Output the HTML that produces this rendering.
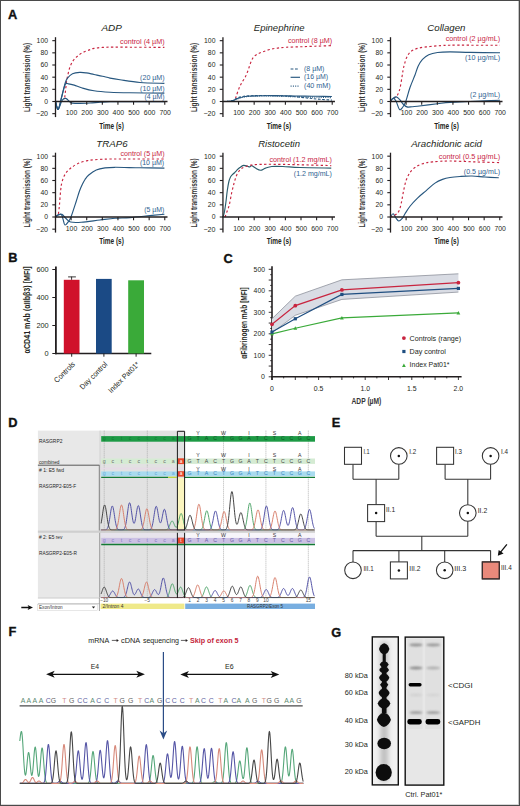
<!DOCTYPE html>
<html><head><meta charset="utf-8"><title>Figure</title>
<style>html,body{margin:0;padding:0;background:#fff;}body{width:520px;height:806px;overflow:hidden;font-family:"Liberation Sans", sans-serif;}svg{display:block;}</style>
</head><body>
<svg width="520" height="806" viewBox="0 0 520 806" font-family='"Liberation Sans", sans-serif'><rect x="0.5" y="0.5" width="519" height="805" fill="none" stroke="#4a4a4a" stroke-width="1" />
<line x1="518.5" y1="1" x2="518.5" y2="805" stroke="#c4c4c4" stroke-width="1" />
<line x1="1" y1="804.5" x2="518" y2="804.5" stroke="#d8d8d8" stroke-width="1" />
<text x="8" y="18.8" font-size="12.8" text-anchor="start" fill="#111" font-weight="bold" font-style="normal" stroke="#111" stroke-width="0.35">A</text>
<text x="8.2" y="262.2" font-size="12.8" text-anchor="start" fill="#111" font-weight="bold" font-style="normal" stroke="#111" stroke-width="0.35">B</text>
<text x="223.6" y="263.2" font-size="12.8" text-anchor="start" fill="#111" font-weight="bold" font-style="normal" stroke="#111" stroke-width="0.35">C</text>
<text x="8.2" y="426.5" font-size="12.8" text-anchor="start" fill="#111" font-weight="bold" font-style="normal" stroke="#111" stroke-width="0.35">D</text>
<text x="331.8" y="427.4" font-size="12.8" text-anchor="start" fill="#111" font-weight="bold" font-style="normal" stroke="#111" stroke-width="0.35">E</text>
<text x="8.4" y="636.4" font-size="12.8" text-anchor="start" fill="#111" font-weight="bold" font-style="normal" stroke="#111" stroke-width="0.35">F</text>
<text x="331.2" y="636.6" font-size="12.8" text-anchor="start" fill="#111" font-weight="bold" font-style="normal" stroke="#111" stroke-width="0.35">G</text>
<path d="M64.8,97.5 C64.82,97.18 64.75,96.98 64.9,95.6 C65.05,94.22 65.42,91.63 65.7,89.2 C65.98,86.77 66.2,83.57 66.6,81 C67,78.43 67.52,76.2 68.1,73.8 C68.68,71.4 69.28,68.75 70.1,66.6 C70.92,64.45 71.92,62.52 73,60.9 C74.08,59.28 75.33,58.1 76.6,56.9 C77.87,55.7 79.12,54.63 80.6,53.7 C82.08,52.77 83.88,51.98 85.5,51.3 C87.12,50.62 88.88,50.08 90.3,49.6 C91.72,49.12 91.97,48.77 94,48.4 C96.03,48.03 99.21,47.62 102.5,47.4 C105.79,47.18 109.17,47.13 113.75,47.1 C118.33,47.07 123.96,47.17 130,47.2 C136.04,47.23 144.27,47.28 150,47.3 C155.73,47.32 162,47.3 164.4,47.3" stroke="#c8243f" stroke-width="1.15" fill="none" stroke-dasharray="2.3 2.4"/>
<path d="M55.5,101.5 C55.95,102.8 57.12,110.28 58.2,109.3 C59.28,108.32 60.82,100.03 62,95.6 C63.18,91.17 64.35,85.65 65.3,82.7 C66.25,79.75 66.5,79.38 67.7,77.9 C68.9,76.42 70.48,74.72 72.5,73.8 C74.52,72.88 77.5,72.55 79.8,72.4 C82.1,72.25 83.93,72.55 86.3,72.9 C88.67,73.25 91.3,73.94 94,74.5 C96.7,75.06 99.83,75.65 102.5,76.25 C105.17,76.85 107.08,77.51 110,78.1 C112.92,78.69 115,79.07 120,79.8 C125,80.53 132.6,81.9 140,82.5 C147.4,83.1 160.33,83.25 164.4,83.4" stroke="#27577f" stroke-width="1.15" fill="none" />
<path d="M55.5,101.5 C55.95,102.8 57.12,110.28 58.2,109.3 C59.28,108.32 60.82,99.77 62,95.6 C63.18,91.43 64.22,86.25 65.3,84.3 C66.38,82.35 67.02,83.77 68.5,83.9 C69.98,84.03 71.92,84.42 74.2,85.1 C76.48,85.78 78.9,87.05 82.2,88 C85.5,88.95 89.37,90.09 94,90.8 C98.63,91.51 104,91.92 110,92.25 C116,92.58 120.93,92.66 130,92.8 C139.07,92.94 158.67,93.05 164.4,93.1" stroke="#27577f" stroke-width="1.15" fill="none" />
<path d="M55.5,101.5 C55.95,102.8 57.12,109.47 58.2,109.3 C59.28,109.13 60.75,102.32 62,100.5 C63.25,98.68 64.42,98.2 65.7,98.4 C66.98,98.6 68.57,100.92 69.7,101.7 C70.83,102.48 70.78,102.82 72.5,103.1 C74.22,103.38 77.08,103.42 80,103.4 C82.92,103.38 86.67,103.18 90,103 C93.33,102.82 96.67,102.5 100,102.3 C103.33,102.1 105,101.92 110,101.8 C115,101.68 120.93,101.63 130,101.6 C139.07,101.57 158.67,101.6 164.4,101.6" stroke="#27577f" stroke-width="1.15" fill="none" />
<text x="164.6" y="43.9" font-size="7.1" text-anchor="end" fill="#c8243f" font-weight="normal" font-style="normal" textLength="44.5" lengthAdjust="spacingAndGlyphs" >control (4 µM)</text>
<text x="164.6" y="79.9" font-size="7.1" text-anchor="end" fill="#2f6190" font-weight="normal" font-style="normal" textLength="24.5" lengthAdjust="spacingAndGlyphs" >(20 µM)</text>
<text x="164.6" y="91" font-size="7.1" text-anchor="end" fill="#2f6190" font-weight="normal" font-style="normal" textLength="24.5" lengthAdjust="spacingAndGlyphs" >(10 µM)</text>
<text x="164.6" y="98.9" font-size="7.1" text-anchor="end" fill="#2f6190" font-weight="normal" font-style="normal" textLength="20.2" lengthAdjust="spacingAndGlyphs" >(4 µM)</text>
<path d="M235.6,98.5 C235.68,98.17 235.53,98.18 236.1,96.5 C236.67,94.82 238.05,90.7 239,88.4 C239.95,86.1 240.75,84.62 241.8,82.7 C242.85,80.78 244.23,79.02 245.3,76.9 C246.37,74.78 247.33,72.3 248.2,70 C249.07,67.7 249.63,65.22 250.5,63.1 C251.37,60.98 252.15,58.85 253.4,57.3 C254.65,55.75 256.27,54.77 258,53.8 C259.73,52.83 261.68,52.27 263.8,51.5 C265.92,50.73 268.4,49.77 270.7,49.2 C273,48.63 275.1,48.42 277.6,48.1 C280.1,47.78 281.97,47.52 285.7,47.3 C289.43,47.08 295.12,46.98 300,46.8 C304.88,46.62 309.68,46.4 315,46.2 C320.32,46 329.08,45.7 331.9,45.6" stroke="#c8243f" stroke-width="1.15" fill="none" stroke-dasharray="2.3 2.4"/>
<path d="M222.6,101.5 C223.83,101.45 228.1,101.42 230,101.2 C231.9,100.98 232.67,100.68 234,100.2 C235.33,99.72 236.33,98.88 238,98.3 C239.67,97.72 241.67,97.08 244,96.7 C246.33,96.32 249,96.17 252,96 C255,95.83 258.17,95.77 262,95.7 C265.83,95.63 270.33,95.57 275,95.6 C279.67,95.63 285,95.82 290,95.9 C295,95.98 300.33,96.03 305,96.1 C309.67,96.17 313.52,96.23 318,96.3 C322.48,96.37 329.58,96.47 331.9,96.5" stroke="#27577f" stroke-width="1.15" fill="none" />
<path d="M222.6,101.5 C223.83,101.45 228.1,101.45 230,101.2 C231.9,100.95 232.67,100.57 234,100 C235.33,99.43 236.33,98.42 238,97.8 C239.67,97.18 241.67,96.65 244,96.3 C246.33,95.95 249,95.83 252,95.7 C255,95.57 258.17,95.52 262,95.5 C265.83,95.48 270.33,95.47 275,95.6 C279.67,95.73 285.83,96.03 290,96.3 C294.17,96.57 296.67,96.87 300,97.2 C303.33,97.53 306.67,97.95 310,98.3 C313.33,98.65 316.35,99 320,99.3 C323.65,99.6 329.92,99.97 331.9,100.1" stroke="#27577f" stroke-width="1.15" fill="none" stroke-dasharray="2.6 1.6"/>
<path d="M222.6,101.5 C223.83,101.47 228.1,101.48 230,101.3 C231.9,101.12 232.67,100.82 234,100.4 C235.33,99.98 236.33,99.37 238,98.8 C239.67,98.23 241.67,97.42 244,97 C246.33,96.58 249,96.47 252,96.3 C255,96.13 258.17,96.03 262,96 C265.83,95.97 270.33,96 275,96.1 C279.67,96.2 285,96.45 290,96.6 C295,96.75 300.33,96.88 305,97 C309.67,97.12 313.52,97.2 318,97.3 C322.48,97.4 329.58,97.55 331.9,97.6" stroke="#27577f" stroke-width="1.15" fill="none" stroke-dasharray="1 1.2"/>
<text x="332.1" y="43.4" font-size="7.1" text-anchor="end" fill="#c8243f" font-weight="normal" font-style="normal" textLength="44.2" lengthAdjust="spacingAndGlyphs" >control (8 µM)</text>
<line x1="290.6" y1="69" x2="298.8" y2="69" stroke="#27577f" stroke-width="1.15" stroke-dasharray="2.8 1.6"/>
<line x1="290.6" y1="77.3" x2="300" y2="77.3" stroke="#27577f" stroke-width="1.15" />
<line x1="290.6" y1="86.1" x2="298.8" y2="86.1" stroke="#27577f" stroke-width="1.15" stroke-dasharray="1 1.3"/>
<text x="304" y="70.5" font-size="7.1" text-anchor="start" fill="#2f6190" font-weight="normal" font-style="normal" textLength="20.4" lengthAdjust="spacingAndGlyphs" >(8 µM)</text>
<text x="304" y="79.1" font-size="7.1" text-anchor="start" fill="#2f6190" font-weight="normal" font-style="normal" textLength="24" lengthAdjust="spacingAndGlyphs" >(16 µM)</text>
<text x="304" y="87.6" font-size="7.1" text-anchor="start" fill="#2f6190" font-weight="normal" font-style="normal" textLength="26.6" lengthAdjust="spacingAndGlyphs" >(40 mM)</text>
<path d="M390.2,101.5 C390.63,101.08 391.93,99.72 392.8,99 C393.67,98.28 394.62,97.87 395.4,97.2 C396.18,96.53 396.9,95.95 397.5,95 C398.1,94.05 398.55,92.75 399,91.5 C399.45,90.25 399.72,89.83 400.2,87.5 C400.68,85.17 401.42,80.42 401.9,77.5 C402.38,74.58 402.68,72.18 403.1,70 C403.52,67.82 403.77,66.58 404.4,64.4 C405.03,62.22 405.76,59.09 406.9,56.9 C408.04,54.71 409.27,52.72 411.25,51.25 C413.23,49.78 415.62,48.89 418.75,48.1 C421.88,47.31 426.25,46.92 430,46.5 C433.75,46.08 437.92,45.82 441.25,45.6 C444.58,45.38 445.21,45.27 450,45.2 C454.79,45.13 461.67,45.19 470,45.2 C478.33,45.21 495,45.24 500,45.25" stroke="#c8243f" stroke-width="1.15" fill="none" stroke-dasharray="2.3 2.4"/>
<path d="M390.2,101.5 C390.67,100.95 392.03,98.28 393,98.2 C393.97,98.12 394.93,99.13 396,101 C397.07,102.87 398.32,108.32 399.4,109.4 C400.48,110.48 401.47,108.75 402.5,107.5 C403.53,106.25 404.35,105.23 405.6,101.9 C406.85,98.57 408.43,91.98 410,87.5 C411.57,83.02 413.65,78.54 415,75 C416.35,71.46 416.85,68.85 418.1,66.25 C419.35,63.65 420.73,61.32 422.5,59.4 C424.27,57.48 426.25,55.9 428.75,54.75 C431.25,53.6 433.96,52.98 437.5,52.5 C441.04,52.02 444.58,51.92 450,51.9 C455.42,51.88 461.67,52.26 470,52.4 C478.33,52.54 495,52.69 500,52.75" stroke="#27577f" stroke-width="1.15" fill="none" />
<path d="M390.2,101.5 C390.67,101 391.99,99.27 393,98.5 C394.01,97.73 395.08,96.68 396.25,96.9 C397.42,97.12 398.88,98.62 400,99.8 C401.12,100.98 401.85,102.82 403,104 C404.15,105.18 405.4,106.43 406.9,106.9 C408.4,107.37 410.23,106.91 412,106.8 C413.77,106.69 413.25,106.76 417.5,106.25 C421.75,105.74 432.08,104.39 437.5,103.75 C442.92,103.11 444.58,102.78 450,102.4 C455.42,102.03 464.17,101.75 470,101.5 C475.83,101.25 480,101.1 485,100.9 C490,100.7 497.5,100.4 500,100.3" stroke="#27577f" stroke-width="1.15" fill="none" />
<text x="500.1" y="41.4" font-size="7.1" text-anchor="end" fill="#c8243f" font-weight="normal" font-style="normal" textLength="54.4" lengthAdjust="spacingAndGlyphs" >control (2 µg/mL)</text>
<text x="500.1" y="60.1" font-size="7.1" text-anchor="end" fill="#2f6190" font-weight="normal" font-style="normal" textLength="35" lengthAdjust="spacingAndGlyphs" >(10 µg/mL)</text>
<text x="500.1" y="97" font-size="7.1" text-anchor="end" fill="#2f6190" font-weight="normal" font-style="normal" textLength="30" lengthAdjust="spacingAndGlyphs" >(2 µg/mL)</text>
<path d="M55.5,217 C55.75,216.67 56.53,215.47 57,215 C57.47,214.53 57.9,215.78 58.3,214.2 C58.7,212.62 59.02,209.37 59.4,205.5 C59.78,201.63 60.18,194.83 60.6,191 C61.02,187.17 61.17,185.27 61.9,182.5 C62.63,179.73 63.65,176.69 65,174.4 C66.35,172.11 67.92,170.53 70,168.75 C72.08,166.97 74.58,165.11 77.5,163.75 C80.42,162.39 83.75,161.32 87.5,160.6 C91.25,159.88 95.42,159.67 100,159.4 C104.58,159.13 104.27,159.07 115,159 C125.73,158.93 156.17,159 164.4,159" stroke="#c8243f" stroke-width="1.15" fill="none" stroke-dasharray="2.3 2.4"/>
<path d="M55.5,217 C55.92,216.67 57.04,215.43 58,215 C58.96,214.57 60.42,213.73 61.25,214.4 C62.08,215.07 62.38,217.23 63,219 C63.62,220.77 64.04,224.62 65,225 C65.96,225.38 67.71,222.71 68.75,221.25 C69.79,219.79 70,219.58 71.25,216.25 C72.5,212.92 74.88,205.46 76.25,201.25 C77.62,197.04 78.46,193.88 79.5,191 C80.54,188.12 81.58,185.92 82.5,184 C83.42,182.08 83.96,181 85,179.5 C86.04,178 86.88,176.58 88.75,175 C90.62,173.42 93.54,171.18 96.25,170 C98.96,168.82 101.88,168.35 105,167.9 C108.12,167.45 109.17,167.32 115,167.3 C120.83,167.28 131.77,167.67 140,167.8 C148.23,167.93 160.33,168.05 164.4,168.1" stroke="#27577f" stroke-width="1.15" fill="none" />
<path d="M55.5,217 C55.92,216.67 56.93,215.43 58,215 C59.07,214.57 60.57,213.82 61.9,214.4 C63.23,214.98 64.55,217.23 66,218.5 C67.45,219.77 68.06,221.38 70.6,222 C73.14,222.62 76.35,222.58 81.25,222.25 C86.15,221.92 94.38,220.66 100,220 C105.62,219.34 110,218.7 115,218.3 C120,217.9 124.17,218.05 130,217.6 C135.83,217.15 144.27,216.17 150,215.6 C155.73,215.03 162,214.43 164.4,214.2" stroke="#27577f" stroke-width="1.15" fill="none" />
<text x="164.5" y="155.8" font-size="7.1" text-anchor="end" fill="#c8243f" font-weight="normal" font-style="normal" textLength="44" lengthAdjust="spacingAndGlyphs" >control (5 µM)</text>
<text x="164.2" y="165.1" font-size="7.1" text-anchor="end" fill="#2f6190" font-weight="normal" font-style="normal" textLength="24.3" lengthAdjust="spacingAndGlyphs" >(10 µM)</text>
<text x="164.2" y="212.1" font-size="7.1" text-anchor="end" fill="#2f6190" font-weight="normal" font-style="normal" textLength="20" lengthAdjust="spacingAndGlyphs" >(5 µM)</text>
<path d="M222.9,217 C223.12,216.33 223.72,215.33 224.2,213 C224.68,210.67 225.28,206.75 225.8,203 C226.32,199.25 226.77,194.17 227.3,190.5 C227.83,186.83 228.47,183.25 229,181 C229.53,178.75 229.93,178.07 230.5,177 C231.07,175.93 231.78,175.27 232.4,174.6 C233.03,173.93 233.53,173.72 234.25,173 C234.97,172.28 235.81,171.22 236.75,170.3 C237.69,169.38 238.76,168.32 239.9,167.5 C241.04,166.68 242.35,165.61 243.6,165.4 C244.85,165.19 246.35,166 247.4,166.25 C248.45,166.5 249.18,167.01 249.9,166.9 C250.62,166.79 250.82,165.4 251.75,165.6 C252.68,165.8 254.04,167.32 255.5,168.1 C256.96,168.88 258.83,170.25 260.5,170.25 C262.17,170.25 263.62,168.72 265.5,168.1 C267.38,167.47 268.83,166.77 271.75,166.5 C274.67,166.23 278.29,166.33 283,166.5 C287.71,166.67 291.96,167.23 300,167.5 C308.04,167.77 326.04,168 331.25,168.1" stroke="#2a5c6c" stroke-width="1.15" fill="none" />
<path d="M225,217 C225.25,216.33 225.79,215 226.5,213 C227.21,211 228.38,208.42 229.25,205 C230.12,201.58 230.92,196.25 231.75,192.5 C232.58,188.75 233.42,185.42 234.25,182.5 C235.08,179.58 235.71,177.18 236.75,175 C237.79,172.82 239.04,170.8 240.5,169.4 C241.96,168 243,167.4 245.5,166.6 C248,165.8 249.25,164.97 255.5,164.6 C261.75,164.23 270.38,164.23 283,164.4 C295.62,164.57 323.21,165.4 331.25,165.6" stroke="#c8243f" stroke-width="1.15" fill="none" stroke-dasharray="2.3 2.4"/>
<text x="331.9" y="162" font-size="7.1" text-anchor="end" fill="#c8243f" font-weight="normal" font-style="normal" textLength="62.4" lengthAdjust="spacingAndGlyphs" >control (1.2 mg/mL)</text>
<text x="331.9" y="176.4" font-size="7.1" text-anchor="end" fill="#2f6190" font-weight="normal" font-style="normal" textLength="38.1" lengthAdjust="spacingAndGlyphs" >(1.2 mg/mL)</text>
<path d="M390.2,217 C390.68,216.46 392.2,213.67 393.1,213.75 C394,213.83 394.66,216.29 395.6,217.5 C396.54,218.71 397.6,220.9 398.75,221 C399.9,221.1 401.46,219.31 402.5,218.1 C403.54,216.89 403.75,215.72 405,213.75 C406.25,211.78 407.92,208.86 410,206.25 C412.08,203.64 414.79,200.71 417.5,198.1 C420.21,195.49 423.33,193.1 426.25,190.6 C429.17,188.1 432.29,184.97 435,183.1 C437.71,181.23 440,180.33 442.5,179.4 C445,178.47 447.08,177.98 450,177.5 C452.92,177.02 456.33,176.75 460,176.5 C463.67,176.25 467.83,175.92 472,176 C476.17,176.08 480.53,176.7 485,177 C489.47,177.3 496.5,177.67 498.8,177.8" stroke="#27577f" stroke-width="1.15" fill="none" />
<path d="M390.2,217 C390.75,216.8 392.38,216.34 393.5,215.8 C394.62,215.26 395.95,214.63 396.9,213.75 C397.85,212.87 398.58,211.79 399.2,210.5 C399.82,209.21 400.15,207.75 400.6,206 C401.05,204.25 401.38,202.67 401.9,200 C402.42,197.33 403.02,193.33 403.75,190 C404.48,186.67 405.21,182.92 406.25,180 C407.29,177.08 408.54,174.58 410,172.5 C411.46,170.42 412.92,168.96 415,167.5 C417.08,166.04 419.58,164.68 422.5,163.75 C425.42,162.82 427.92,162.36 432.5,161.9 C437.08,161.44 442.92,161 450,161 C457.08,161 466.75,161.63 475,161.9 C483.25,162.17 495.42,162.48 499.5,162.6" stroke="#c8243f" stroke-width="1.15" fill="none" stroke-dasharray="2.3 2.4"/>
<text x="500.2" y="158.8" font-size="7.1" text-anchor="end" fill="#c8243f" font-weight="normal" font-style="normal" textLength="61.4" lengthAdjust="spacingAndGlyphs" >control (0.5 µg/mL)</text>
<text x="500.2" y="173.6" font-size="7.1" text-anchor="end" fill="#2f6190" font-weight="normal" font-style="normal" textLength="36.4" lengthAdjust="spacingAndGlyphs" >(0.5 µg/mL)</text>
<line x1="55.5" y1="37.2" x2="55.5" y2="117.1" stroke="#231f20" stroke-width="1.3" />
<line x1="52.3" y1="113.67" x2="55.5" y2="113.67" stroke="#231f20" stroke-width="1.1" />
<text x="48" y="116.12" font-size="7" text-anchor="end" fill="#231f20" font-weight="normal" font-style="normal" textLength="12" lengthAdjust="spacingAndGlyphs" >−20</text>
<line x1="52.3" y1="101.5" x2="55.5" y2="101.5" stroke="#231f20" stroke-width="1.1" />
<text x="48" y="103.95" font-size="7" text-anchor="end" fill="#231f20" font-weight="normal" font-style="normal" textLength="3.8" lengthAdjust="spacingAndGlyphs" >0</text>
<line x1="52.3" y1="89.33" x2="55.5" y2="89.33" stroke="#231f20" stroke-width="1.1" />
<text x="48" y="91.78" font-size="7" text-anchor="end" fill="#231f20" font-weight="normal" font-style="normal" textLength="7.6" lengthAdjust="spacingAndGlyphs" >20</text>
<line x1="52.3" y1="77.17" x2="55.5" y2="77.17" stroke="#231f20" stroke-width="1.1" />
<text x="48" y="79.62" font-size="7" text-anchor="end" fill="#231f20" font-weight="normal" font-style="normal" textLength="7.6" lengthAdjust="spacingAndGlyphs" >40</text>
<line x1="52.3" y1="65" x2="55.5" y2="65" stroke="#231f20" stroke-width="1.1" />
<text x="48" y="67.45" font-size="7" text-anchor="end" fill="#231f20" font-weight="normal" font-style="normal" textLength="7.6" lengthAdjust="spacingAndGlyphs" >60</text>
<line x1="52.3" y1="52.84" x2="55.5" y2="52.84" stroke="#231f20" stroke-width="1.1" />
<text x="48" y="55.29" font-size="7" text-anchor="end" fill="#231f20" font-weight="normal" font-style="normal" textLength="7.6" lengthAdjust="spacingAndGlyphs" >80</text>
<line x1="52.3" y1="40.67" x2="55.5" y2="40.67" stroke="#231f20" stroke-width="1.1" />
<text x="48" y="43.12" font-size="7" text-anchor="end" fill="#231f20" font-weight="normal" font-style="normal" textLength="11.4" lengthAdjust="spacingAndGlyphs" >100</text>
<line x1="54.9" y1="101.5" x2="167.5" y2="101.5" stroke="#231f20" stroke-width="1.6" />
<line x1="71.11" y1="101.5" x2="71.11" y2="104.7" stroke="#231f20" stroke-width="1.1" />
<text x="71.51" y="115.1" font-size="7" text-anchor="middle" fill="#231f20" font-weight="normal" font-style="normal" textLength="11.5" lengthAdjust="spacingAndGlyphs" >100</text>
<line x1="86.72" y1="101.5" x2="86.72" y2="104.7" stroke="#231f20" stroke-width="1.1" />
<text x="87.12" y="115.1" font-size="7" text-anchor="middle" fill="#231f20" font-weight="normal" font-style="normal" textLength="11.5" lengthAdjust="spacingAndGlyphs" >200</text>
<line x1="102.33" y1="101.5" x2="102.33" y2="104.7" stroke="#231f20" stroke-width="1.1" />
<text x="102.73" y="115.1" font-size="7" text-anchor="middle" fill="#231f20" font-weight="normal" font-style="normal" textLength="11.5" lengthAdjust="spacingAndGlyphs" >300</text>
<line x1="117.94" y1="101.5" x2="117.94" y2="104.7" stroke="#231f20" stroke-width="1.1" />
<text x="118.34" y="115.1" font-size="7" text-anchor="middle" fill="#231f20" font-weight="normal" font-style="normal" textLength="11.5" lengthAdjust="spacingAndGlyphs" >400</text>
<line x1="133.55" y1="101.5" x2="133.55" y2="104.7" stroke="#231f20" stroke-width="1.1" />
<text x="133.95" y="115.1" font-size="7" text-anchor="middle" fill="#231f20" font-weight="normal" font-style="normal" textLength="11.5" lengthAdjust="spacingAndGlyphs" >500</text>
<line x1="149.16" y1="101.5" x2="149.16" y2="104.7" stroke="#231f20" stroke-width="1.1" />
<text x="149.56" y="115.1" font-size="7" text-anchor="middle" fill="#231f20" font-weight="normal" font-style="normal" textLength="11.5" lengthAdjust="spacingAndGlyphs" >600</text>
<line x1="164.77" y1="101.5" x2="164.77" y2="104.7" stroke="#231f20" stroke-width="1.1" />
<text x="165.17" y="115.1" font-size="7" text-anchor="middle" fill="#231f20" font-weight="normal" font-style="normal" textLength="11.5" lengthAdjust="spacingAndGlyphs" >700</text>
<text x="111.5" y="128.8" font-size="9.6" text-anchor="middle" fill="#231f20" font-weight="bold" font-style="normal" textLength="24.6" lengthAdjust="spacingAndGlyphs" >Time (s)</text>
<text transform="translate(29.5,77.45) rotate(-90)" font-size="9.7" font-weight="bold" text-anchor="middle" fill="#363636" textLength="69.3" lengthAdjust="spacingAndGlyphs">Light transmission (%)</text>
<text x="111.7" y="31.1" font-size="9.8" text-anchor="middle" fill="#231f20" font-weight="normal" font-style="italic" textLength="20.5" lengthAdjust="spacingAndGlyphs" >ADP</text>
<line x1="222.95" y1="37.2" x2="222.95" y2="117.1" stroke="#231f20" stroke-width="1.3" />
<line x1="219.75" y1="113.67" x2="222.95" y2="113.67" stroke="#231f20" stroke-width="1.1" />
<text x="215.45" y="116.12" font-size="7" text-anchor="end" fill="#231f20" font-weight="normal" font-style="normal" textLength="12" lengthAdjust="spacingAndGlyphs" >−20</text>
<line x1="219.75" y1="101.5" x2="222.95" y2="101.5" stroke="#231f20" stroke-width="1.1" />
<text x="215.45" y="103.95" font-size="7" text-anchor="end" fill="#231f20" font-weight="normal" font-style="normal" textLength="3.8" lengthAdjust="spacingAndGlyphs" >0</text>
<line x1="219.75" y1="89.33" x2="222.95" y2="89.33" stroke="#231f20" stroke-width="1.1" />
<text x="215.45" y="91.78" font-size="7" text-anchor="end" fill="#231f20" font-weight="normal" font-style="normal" textLength="7.6" lengthAdjust="spacingAndGlyphs" >20</text>
<line x1="219.75" y1="77.17" x2="222.95" y2="77.17" stroke="#231f20" stroke-width="1.1" />
<text x="215.45" y="79.62" font-size="7" text-anchor="end" fill="#231f20" font-weight="normal" font-style="normal" textLength="7.6" lengthAdjust="spacingAndGlyphs" >40</text>
<line x1="219.75" y1="65" x2="222.95" y2="65" stroke="#231f20" stroke-width="1.1" />
<text x="215.45" y="67.45" font-size="7" text-anchor="end" fill="#231f20" font-weight="normal" font-style="normal" textLength="7.6" lengthAdjust="spacingAndGlyphs" >60</text>
<line x1="219.75" y1="52.84" x2="222.95" y2="52.84" stroke="#231f20" stroke-width="1.1" />
<text x="215.45" y="55.29" font-size="7" text-anchor="end" fill="#231f20" font-weight="normal" font-style="normal" textLength="7.6" lengthAdjust="spacingAndGlyphs" >80</text>
<line x1="219.75" y1="40.67" x2="222.95" y2="40.67" stroke="#231f20" stroke-width="1.1" />
<text x="215.45" y="43.12" font-size="7" text-anchor="end" fill="#231f20" font-weight="normal" font-style="normal" textLength="11.4" lengthAdjust="spacingAndGlyphs" >100</text>
<line x1="222.35" y1="101.5" x2="334.95" y2="101.5" stroke="#231f20" stroke-width="1.6" />
<line x1="238.56" y1="101.5" x2="238.56" y2="104.7" stroke="#231f20" stroke-width="1.1" />
<text x="238.96" y="115.1" font-size="7" text-anchor="middle" fill="#231f20" font-weight="normal" font-style="normal" textLength="11.5" lengthAdjust="spacingAndGlyphs" >100</text>
<line x1="254.17" y1="101.5" x2="254.17" y2="104.7" stroke="#231f20" stroke-width="1.1" />
<text x="254.57" y="115.1" font-size="7" text-anchor="middle" fill="#231f20" font-weight="normal" font-style="normal" textLength="11.5" lengthAdjust="spacingAndGlyphs" >200</text>
<line x1="269.78" y1="101.5" x2="269.78" y2="104.7" stroke="#231f20" stroke-width="1.1" />
<text x="270.18" y="115.1" font-size="7" text-anchor="middle" fill="#231f20" font-weight="normal" font-style="normal" textLength="11.5" lengthAdjust="spacingAndGlyphs" >300</text>
<line x1="285.39" y1="101.5" x2="285.39" y2="104.7" stroke="#231f20" stroke-width="1.1" />
<text x="285.79" y="115.1" font-size="7" text-anchor="middle" fill="#231f20" font-weight="normal" font-style="normal" textLength="11.5" lengthAdjust="spacingAndGlyphs" >400</text>
<line x1="301" y1="101.5" x2="301" y2="104.7" stroke="#231f20" stroke-width="1.1" />
<text x="301.4" y="115.1" font-size="7" text-anchor="middle" fill="#231f20" font-weight="normal" font-style="normal" textLength="11.5" lengthAdjust="spacingAndGlyphs" >500</text>
<line x1="316.61" y1="101.5" x2="316.61" y2="104.7" stroke="#231f20" stroke-width="1.1" />
<text x="317.01" y="115.1" font-size="7" text-anchor="middle" fill="#231f20" font-weight="normal" font-style="normal" textLength="11.5" lengthAdjust="spacingAndGlyphs" >600</text>
<line x1="332.22" y1="101.5" x2="332.22" y2="104.7" stroke="#231f20" stroke-width="1.1" />
<text x="332.62" y="115.1" font-size="7" text-anchor="middle" fill="#231f20" font-weight="normal" font-style="normal" textLength="11.5" lengthAdjust="spacingAndGlyphs" >700</text>
<text x="278.95" y="128.8" font-size="9.6" text-anchor="middle" fill="#231f20" font-weight="bold" font-style="normal" textLength="24.6" lengthAdjust="spacingAndGlyphs" >Time (s)</text>
<text transform="translate(196.95,77.45) rotate(-90)" font-size="9.7" font-weight="bold" text-anchor="middle" fill="#363636" textLength="69.3" lengthAdjust="spacingAndGlyphs">Light transmission (%)</text>
<text x="279.2" y="31.1" font-size="9.8" text-anchor="middle" fill="#231f20" font-weight="normal" font-style="italic" textLength="50.7" lengthAdjust="spacingAndGlyphs" >Epinephrine</text>
<line x1="390.5" y1="37.2" x2="390.5" y2="117.1" stroke="#231f20" stroke-width="1.3" />
<line x1="387.3" y1="113.67" x2="390.5" y2="113.67" stroke="#231f20" stroke-width="1.1" />
<text x="383" y="116.12" font-size="7" text-anchor="end" fill="#231f20" font-weight="normal" font-style="normal" textLength="12" lengthAdjust="spacingAndGlyphs" >−20</text>
<line x1="387.3" y1="101.5" x2="390.5" y2="101.5" stroke="#231f20" stroke-width="1.1" />
<text x="383" y="103.95" font-size="7" text-anchor="end" fill="#231f20" font-weight="normal" font-style="normal" textLength="3.8" lengthAdjust="spacingAndGlyphs" >0</text>
<line x1="387.3" y1="89.33" x2="390.5" y2="89.33" stroke="#231f20" stroke-width="1.1" />
<text x="383" y="91.78" font-size="7" text-anchor="end" fill="#231f20" font-weight="normal" font-style="normal" textLength="7.6" lengthAdjust="spacingAndGlyphs" >20</text>
<line x1="387.3" y1="77.17" x2="390.5" y2="77.17" stroke="#231f20" stroke-width="1.1" />
<text x="383" y="79.62" font-size="7" text-anchor="end" fill="#231f20" font-weight="normal" font-style="normal" textLength="7.6" lengthAdjust="spacingAndGlyphs" >40</text>
<line x1="387.3" y1="65" x2="390.5" y2="65" stroke="#231f20" stroke-width="1.1" />
<text x="383" y="67.45" font-size="7" text-anchor="end" fill="#231f20" font-weight="normal" font-style="normal" textLength="7.6" lengthAdjust="spacingAndGlyphs" >60</text>
<line x1="387.3" y1="52.84" x2="390.5" y2="52.84" stroke="#231f20" stroke-width="1.1" />
<text x="383" y="55.29" font-size="7" text-anchor="end" fill="#231f20" font-weight="normal" font-style="normal" textLength="7.6" lengthAdjust="spacingAndGlyphs" >80</text>
<line x1="387.3" y1="40.67" x2="390.5" y2="40.67" stroke="#231f20" stroke-width="1.1" />
<text x="383" y="43.12" font-size="7" text-anchor="end" fill="#231f20" font-weight="normal" font-style="normal" textLength="11.4" lengthAdjust="spacingAndGlyphs" >100</text>
<line x1="389.9" y1="101.5" x2="502.5" y2="101.5" stroke="#231f20" stroke-width="1.6" />
<line x1="406.11" y1="101.5" x2="406.11" y2="104.7" stroke="#231f20" stroke-width="1.1" />
<text x="406.51" y="115.1" font-size="7" text-anchor="middle" fill="#231f20" font-weight="normal" font-style="normal" textLength="11.5" lengthAdjust="spacingAndGlyphs" >100</text>
<line x1="421.72" y1="101.5" x2="421.72" y2="104.7" stroke="#231f20" stroke-width="1.1" />
<text x="422.12" y="115.1" font-size="7" text-anchor="middle" fill="#231f20" font-weight="normal" font-style="normal" textLength="11.5" lengthAdjust="spacingAndGlyphs" >200</text>
<line x1="437.33" y1="101.5" x2="437.33" y2="104.7" stroke="#231f20" stroke-width="1.1" />
<text x="437.73" y="115.1" font-size="7" text-anchor="middle" fill="#231f20" font-weight="normal" font-style="normal" textLength="11.5" lengthAdjust="spacingAndGlyphs" >300</text>
<line x1="452.94" y1="101.5" x2="452.94" y2="104.7" stroke="#231f20" stroke-width="1.1" />
<text x="453.34" y="115.1" font-size="7" text-anchor="middle" fill="#231f20" font-weight="normal" font-style="normal" textLength="11.5" lengthAdjust="spacingAndGlyphs" >400</text>
<line x1="468.55" y1="101.5" x2="468.55" y2="104.7" stroke="#231f20" stroke-width="1.1" />
<text x="468.95" y="115.1" font-size="7" text-anchor="middle" fill="#231f20" font-weight="normal" font-style="normal" textLength="11.5" lengthAdjust="spacingAndGlyphs" >500</text>
<line x1="484.16" y1="101.5" x2="484.16" y2="104.7" stroke="#231f20" stroke-width="1.1" />
<text x="484.56" y="115.1" font-size="7" text-anchor="middle" fill="#231f20" font-weight="normal" font-style="normal" textLength="11.5" lengthAdjust="spacingAndGlyphs" >600</text>
<line x1="499.77" y1="101.5" x2="499.77" y2="104.7" stroke="#231f20" stroke-width="1.1" />
<text x="500.17" y="115.1" font-size="7" text-anchor="middle" fill="#231f20" font-weight="normal" font-style="normal" textLength="11.5" lengthAdjust="spacingAndGlyphs" >700</text>
<text x="446.5" y="128.8" font-size="9.6" text-anchor="middle" fill="#231f20" font-weight="bold" font-style="normal" textLength="24.6" lengthAdjust="spacingAndGlyphs" >Time (s)</text>
<text transform="translate(364.5,77.45) rotate(-90)" font-size="9.7" font-weight="bold" text-anchor="middle" fill="#363636" textLength="69.3" lengthAdjust="spacingAndGlyphs">Light transmission (%)</text>
<text x="446.4" y="31.1" font-size="9.8" text-anchor="middle" fill="#231f20" font-weight="normal" font-style="italic" textLength="38.1" lengthAdjust="spacingAndGlyphs" >Collagen</text>
<line x1="55.5" y1="152.7" x2="55.5" y2="232.6" stroke="#231f20" stroke-width="1.3" />
<line x1="52.3" y1="229.17" x2="55.5" y2="229.17" stroke="#231f20" stroke-width="1.1" />
<text x="48" y="231.62" font-size="7" text-anchor="end" fill="#231f20" font-weight="normal" font-style="normal" textLength="12" lengthAdjust="spacingAndGlyphs" >−20</text>
<line x1="52.3" y1="217" x2="55.5" y2="217" stroke="#231f20" stroke-width="1.1" />
<text x="48" y="219.45" font-size="7" text-anchor="end" fill="#231f20" font-weight="normal" font-style="normal" textLength="3.8" lengthAdjust="spacingAndGlyphs" >0</text>
<line x1="52.3" y1="204.83" x2="55.5" y2="204.83" stroke="#231f20" stroke-width="1.1" />
<text x="48" y="207.28" font-size="7" text-anchor="end" fill="#231f20" font-weight="normal" font-style="normal" textLength="7.6" lengthAdjust="spacingAndGlyphs" >20</text>
<line x1="52.3" y1="192.67" x2="55.5" y2="192.67" stroke="#231f20" stroke-width="1.1" />
<text x="48" y="195.12" font-size="7" text-anchor="end" fill="#231f20" font-weight="normal" font-style="normal" textLength="7.6" lengthAdjust="spacingAndGlyphs" >40</text>
<line x1="52.3" y1="180.5" x2="55.5" y2="180.5" stroke="#231f20" stroke-width="1.1" />
<text x="48" y="182.95" font-size="7" text-anchor="end" fill="#231f20" font-weight="normal" font-style="normal" textLength="7.6" lengthAdjust="spacingAndGlyphs" >60</text>
<line x1="52.3" y1="168.34" x2="55.5" y2="168.34" stroke="#231f20" stroke-width="1.1" />
<text x="48" y="170.79" font-size="7" text-anchor="end" fill="#231f20" font-weight="normal" font-style="normal" textLength="7.6" lengthAdjust="spacingAndGlyphs" >80</text>
<line x1="52.3" y1="156.17" x2="55.5" y2="156.17" stroke="#231f20" stroke-width="1.1" />
<text x="48" y="158.62" font-size="7" text-anchor="end" fill="#231f20" font-weight="normal" font-style="normal" textLength="11.4" lengthAdjust="spacingAndGlyphs" >100</text>
<line x1="54.9" y1="217" x2="167.5" y2="217" stroke="#231f20" stroke-width="1.6" />
<line x1="71.11" y1="217" x2="71.11" y2="220.2" stroke="#231f20" stroke-width="1.1" />
<text x="71.51" y="230.6" font-size="7" text-anchor="middle" fill="#231f20" font-weight="normal" font-style="normal" textLength="11.5" lengthAdjust="spacingAndGlyphs" >100</text>
<line x1="86.72" y1="217" x2="86.72" y2="220.2" stroke="#231f20" stroke-width="1.1" />
<text x="87.12" y="230.6" font-size="7" text-anchor="middle" fill="#231f20" font-weight="normal" font-style="normal" textLength="11.5" lengthAdjust="spacingAndGlyphs" >200</text>
<line x1="102.33" y1="217" x2="102.33" y2="220.2" stroke="#231f20" stroke-width="1.1" />
<text x="102.73" y="230.6" font-size="7" text-anchor="middle" fill="#231f20" font-weight="normal" font-style="normal" textLength="11.5" lengthAdjust="spacingAndGlyphs" >300</text>
<line x1="117.94" y1="217" x2="117.94" y2="220.2" stroke="#231f20" stroke-width="1.1" />
<text x="118.34" y="230.6" font-size="7" text-anchor="middle" fill="#231f20" font-weight="normal" font-style="normal" textLength="11.5" lengthAdjust="spacingAndGlyphs" >400</text>
<line x1="133.55" y1="217" x2="133.55" y2="220.2" stroke="#231f20" stroke-width="1.1" />
<text x="133.95" y="230.6" font-size="7" text-anchor="middle" fill="#231f20" font-weight="normal" font-style="normal" textLength="11.5" lengthAdjust="spacingAndGlyphs" >500</text>
<line x1="149.16" y1="217" x2="149.16" y2="220.2" stroke="#231f20" stroke-width="1.1" />
<text x="149.56" y="230.6" font-size="7" text-anchor="middle" fill="#231f20" font-weight="normal" font-style="normal" textLength="11.5" lengthAdjust="spacingAndGlyphs" >600</text>
<line x1="164.77" y1="217" x2="164.77" y2="220.2" stroke="#231f20" stroke-width="1.1" />
<text x="165.17" y="230.6" font-size="7" text-anchor="middle" fill="#231f20" font-weight="normal" font-style="normal" textLength="11.5" lengthAdjust="spacingAndGlyphs" >700</text>
<text x="111.5" y="244.3" font-size="9.6" text-anchor="middle" fill="#231f20" font-weight="bold" font-style="normal" textLength="24.6" lengthAdjust="spacingAndGlyphs" >Time (s)</text>
<text transform="translate(29.5,192.95) rotate(-90)" font-size="9.7" font-weight="bold" text-anchor="middle" fill="#363636" textLength="69.3" lengthAdjust="spacingAndGlyphs">Light transmission (%)</text>
<text x="111.9" y="146.6" font-size="9.8" text-anchor="middle" fill="#231f20" font-weight="normal" font-style="italic" textLength="31.3" lengthAdjust="spacingAndGlyphs" >TRAP6</text>
<line x1="222.95" y1="152.7" x2="222.95" y2="232.6" stroke="#231f20" stroke-width="1.3" />
<line x1="219.75" y1="229.17" x2="222.95" y2="229.17" stroke="#231f20" stroke-width="1.1" />
<text x="215.45" y="231.62" font-size="7" text-anchor="end" fill="#231f20" font-weight="normal" font-style="normal" textLength="12" lengthAdjust="spacingAndGlyphs" >−20</text>
<line x1="219.75" y1="217" x2="222.95" y2="217" stroke="#231f20" stroke-width="1.1" />
<text x="215.45" y="219.45" font-size="7" text-anchor="end" fill="#231f20" font-weight="normal" font-style="normal" textLength="3.8" lengthAdjust="spacingAndGlyphs" >0</text>
<line x1="219.75" y1="204.83" x2="222.95" y2="204.83" stroke="#231f20" stroke-width="1.1" />
<text x="215.45" y="207.28" font-size="7" text-anchor="end" fill="#231f20" font-weight="normal" font-style="normal" textLength="7.6" lengthAdjust="spacingAndGlyphs" >20</text>
<line x1="219.75" y1="192.67" x2="222.95" y2="192.67" stroke="#231f20" stroke-width="1.1" />
<text x="215.45" y="195.12" font-size="7" text-anchor="end" fill="#231f20" font-weight="normal" font-style="normal" textLength="7.6" lengthAdjust="spacingAndGlyphs" >40</text>
<line x1="219.75" y1="180.5" x2="222.95" y2="180.5" stroke="#231f20" stroke-width="1.1" />
<text x="215.45" y="182.95" font-size="7" text-anchor="end" fill="#231f20" font-weight="normal" font-style="normal" textLength="7.6" lengthAdjust="spacingAndGlyphs" >60</text>
<line x1="219.75" y1="168.34" x2="222.95" y2="168.34" stroke="#231f20" stroke-width="1.1" />
<text x="215.45" y="170.79" font-size="7" text-anchor="end" fill="#231f20" font-weight="normal" font-style="normal" textLength="7.6" lengthAdjust="spacingAndGlyphs" >80</text>
<line x1="219.75" y1="156.17" x2="222.95" y2="156.17" stroke="#231f20" stroke-width="1.1" />
<text x="215.45" y="158.62" font-size="7" text-anchor="end" fill="#231f20" font-weight="normal" font-style="normal" textLength="11.4" lengthAdjust="spacingAndGlyphs" >100</text>
<line x1="222.35" y1="217" x2="334.95" y2="217" stroke="#231f20" stroke-width="1.6" />
<line x1="238.56" y1="217" x2="238.56" y2="220.2" stroke="#231f20" stroke-width="1.1" />
<text x="238.96" y="230.6" font-size="7" text-anchor="middle" fill="#231f20" font-weight="normal" font-style="normal" textLength="11.5" lengthAdjust="spacingAndGlyphs" >100</text>
<line x1="254.17" y1="217" x2="254.17" y2="220.2" stroke="#231f20" stroke-width="1.1" />
<text x="254.57" y="230.6" font-size="7" text-anchor="middle" fill="#231f20" font-weight="normal" font-style="normal" textLength="11.5" lengthAdjust="spacingAndGlyphs" >200</text>
<line x1="269.78" y1="217" x2="269.78" y2="220.2" stroke="#231f20" stroke-width="1.1" />
<text x="270.18" y="230.6" font-size="7" text-anchor="middle" fill="#231f20" font-weight="normal" font-style="normal" textLength="11.5" lengthAdjust="spacingAndGlyphs" >300</text>
<line x1="285.39" y1="217" x2="285.39" y2="220.2" stroke="#231f20" stroke-width="1.1" />
<text x="285.79" y="230.6" font-size="7" text-anchor="middle" fill="#231f20" font-weight="normal" font-style="normal" textLength="11.5" lengthAdjust="spacingAndGlyphs" >400</text>
<line x1="301" y1="217" x2="301" y2="220.2" stroke="#231f20" stroke-width="1.1" />
<text x="301.4" y="230.6" font-size="7" text-anchor="middle" fill="#231f20" font-weight="normal" font-style="normal" textLength="11.5" lengthAdjust="spacingAndGlyphs" >500</text>
<line x1="316.61" y1="217" x2="316.61" y2="220.2" stroke="#231f20" stroke-width="1.1" />
<text x="317.01" y="230.6" font-size="7" text-anchor="middle" fill="#231f20" font-weight="normal" font-style="normal" textLength="11.5" lengthAdjust="spacingAndGlyphs" >600</text>
<line x1="332.22" y1="217" x2="332.22" y2="220.2" stroke="#231f20" stroke-width="1.1" />
<text x="332.62" y="230.6" font-size="7" text-anchor="middle" fill="#231f20" font-weight="normal" font-style="normal" textLength="11.5" lengthAdjust="spacingAndGlyphs" >700</text>
<text x="278.95" y="244.3" font-size="9.6" text-anchor="middle" fill="#231f20" font-weight="bold" font-style="normal" textLength="24.6" lengthAdjust="spacingAndGlyphs" >Time (s)</text>
<text transform="translate(196.95,192.95) rotate(-90)" font-size="9.7" font-weight="bold" text-anchor="middle" fill="#363636" textLength="69.3" lengthAdjust="spacingAndGlyphs">Light transmission (%)</text>
<text x="279.1" y="146.6" font-size="9.8" text-anchor="middle" fill="#231f20" font-weight="normal" font-style="italic" textLength="41.8" lengthAdjust="spacingAndGlyphs" >Ristocetin</text>
<line x1="390.5" y1="152.7" x2="390.5" y2="232.6" stroke="#231f20" stroke-width="1.3" />
<line x1="387.3" y1="229.17" x2="390.5" y2="229.17" stroke="#231f20" stroke-width="1.1" />
<text x="383" y="231.62" font-size="7" text-anchor="end" fill="#231f20" font-weight="normal" font-style="normal" textLength="12" lengthAdjust="spacingAndGlyphs" >−20</text>
<line x1="387.3" y1="217" x2="390.5" y2="217" stroke="#231f20" stroke-width="1.1" />
<text x="383" y="219.45" font-size="7" text-anchor="end" fill="#231f20" font-weight="normal" font-style="normal" textLength="3.8" lengthAdjust="spacingAndGlyphs" >0</text>
<line x1="387.3" y1="204.83" x2="390.5" y2="204.83" stroke="#231f20" stroke-width="1.1" />
<text x="383" y="207.28" font-size="7" text-anchor="end" fill="#231f20" font-weight="normal" font-style="normal" textLength="7.6" lengthAdjust="spacingAndGlyphs" >20</text>
<line x1="387.3" y1="192.67" x2="390.5" y2="192.67" stroke="#231f20" stroke-width="1.1" />
<text x="383" y="195.12" font-size="7" text-anchor="end" fill="#231f20" font-weight="normal" font-style="normal" textLength="7.6" lengthAdjust="spacingAndGlyphs" >40</text>
<line x1="387.3" y1="180.5" x2="390.5" y2="180.5" stroke="#231f20" stroke-width="1.1" />
<text x="383" y="182.95" font-size="7" text-anchor="end" fill="#231f20" font-weight="normal" font-style="normal" textLength="7.6" lengthAdjust="spacingAndGlyphs" >60</text>
<line x1="387.3" y1="168.34" x2="390.5" y2="168.34" stroke="#231f20" stroke-width="1.1" />
<text x="383" y="170.79" font-size="7" text-anchor="end" fill="#231f20" font-weight="normal" font-style="normal" textLength="7.6" lengthAdjust="spacingAndGlyphs" >80</text>
<line x1="387.3" y1="156.17" x2="390.5" y2="156.17" stroke="#231f20" stroke-width="1.1" />
<text x="383" y="158.62" font-size="7" text-anchor="end" fill="#231f20" font-weight="normal" font-style="normal" textLength="11.4" lengthAdjust="spacingAndGlyphs" >100</text>
<line x1="389.9" y1="217" x2="502.5" y2="217" stroke="#231f20" stroke-width="1.6" />
<line x1="406.11" y1="217" x2="406.11" y2="220.2" stroke="#231f20" stroke-width="1.1" />
<text x="406.51" y="230.6" font-size="7" text-anchor="middle" fill="#231f20" font-weight="normal" font-style="normal" textLength="11.5" lengthAdjust="spacingAndGlyphs" >100</text>
<line x1="421.72" y1="217" x2="421.72" y2="220.2" stroke="#231f20" stroke-width="1.1" />
<text x="422.12" y="230.6" font-size="7" text-anchor="middle" fill="#231f20" font-weight="normal" font-style="normal" textLength="11.5" lengthAdjust="spacingAndGlyphs" >200</text>
<line x1="437.33" y1="217" x2="437.33" y2="220.2" stroke="#231f20" stroke-width="1.1" />
<text x="437.73" y="230.6" font-size="7" text-anchor="middle" fill="#231f20" font-weight="normal" font-style="normal" textLength="11.5" lengthAdjust="spacingAndGlyphs" >300</text>
<line x1="452.94" y1="217" x2="452.94" y2="220.2" stroke="#231f20" stroke-width="1.1" />
<text x="453.34" y="230.6" font-size="7" text-anchor="middle" fill="#231f20" font-weight="normal" font-style="normal" textLength="11.5" lengthAdjust="spacingAndGlyphs" >400</text>
<line x1="468.55" y1="217" x2="468.55" y2="220.2" stroke="#231f20" stroke-width="1.1" />
<text x="468.95" y="230.6" font-size="7" text-anchor="middle" fill="#231f20" font-weight="normal" font-style="normal" textLength="11.5" lengthAdjust="spacingAndGlyphs" >500</text>
<line x1="484.16" y1="217" x2="484.16" y2="220.2" stroke="#231f20" stroke-width="1.1" />
<text x="484.56" y="230.6" font-size="7" text-anchor="middle" fill="#231f20" font-weight="normal" font-style="normal" textLength="11.5" lengthAdjust="spacingAndGlyphs" >600</text>
<line x1="499.77" y1="217" x2="499.77" y2="220.2" stroke="#231f20" stroke-width="1.1" />
<text x="500.17" y="230.6" font-size="7" text-anchor="middle" fill="#231f20" font-weight="normal" font-style="normal" textLength="11.5" lengthAdjust="spacingAndGlyphs" >700</text>
<text x="446.5" y="244.3" font-size="9.6" text-anchor="middle" fill="#231f20" font-weight="bold" font-style="normal" textLength="24.6" lengthAdjust="spacingAndGlyphs" >Time (s)</text>
<text transform="translate(364.5,192.95) rotate(-90)" font-size="9.7" font-weight="bold" text-anchor="middle" fill="#363636" textLength="69.3" lengthAdjust="spacingAndGlyphs">Light transmission (%)</text>
<text x="446.6" y="146.6" font-size="9.8" text-anchor="middle" fill="#231f20" font-weight="normal" font-style="italic" textLength="70.8" lengthAdjust="spacingAndGlyphs" >Arachidonic acid</text>
<line x1="55.9" y1="266.4" x2="55.9" y2="354.3" stroke="#231f20" stroke-width="1.8" />
<line x1="55.1" y1="353.5" x2="151.3" y2="353.5" stroke="#231f20" stroke-width="1.7" />
<line x1="52.3" y1="353.5" x2="55.9" y2="353.5" stroke="#231f20" stroke-width="1" />
<text x="48.7" y="355.95" font-size="7.2" text-anchor="end" fill="#231f20" font-weight="normal" font-style="normal" textLength="4.1" lengthAdjust="spacingAndGlyphs" >0</text>
<line x1="52.3" y1="325.5" x2="55.9" y2="325.5" stroke="#231f20" stroke-width="1" />
<text x="48.7" y="327.95" font-size="7.2" text-anchor="end" fill="#231f20" font-weight="normal" font-style="normal" textLength="12.3" lengthAdjust="spacingAndGlyphs" >200</text>
<line x1="52.3" y1="297.5" x2="55.9" y2="297.5" stroke="#231f20" stroke-width="1" />
<text x="48.7" y="299.95" font-size="7.2" text-anchor="end" fill="#231f20" font-weight="normal" font-style="normal" textLength="12.3" lengthAdjust="spacingAndGlyphs" >400</text>
<line x1="52.3" y1="269.5" x2="55.9" y2="269.5" stroke="#231f20" stroke-width="1" />
<text x="48.7" y="271.95" font-size="7.2" text-anchor="end" fill="#231f20" font-weight="normal" font-style="normal" textLength="12.3" lengthAdjust="spacingAndGlyphs" >600</text>
<rect x="63.8" y="279.8" width="15.7" height="73.7" fill="#d0112b" stroke="none" stroke-width="1" />
<rect x="96" y="278.9" width="15.7" height="74.6" fill="#1b4a85" stroke="none" stroke-width="1" />
<rect x="128.2" y="280.3" width="15.8" height="73.2" fill="#3aaa39" stroke="none" stroke-width="1" />
<line x1="71.6" y1="279.8" x2="71.6" y2="276.7" stroke="#231f20" stroke-width="0.9" />
<line x1="68.1" y1="276.9" x2="75.9" y2="276.9" stroke="#231f20" stroke-width="0.9" />
<line x1="71.7" y1="353.5" x2="71.7" y2="356.7" stroke="#231f20" stroke-width="1" />
<line x1="103.9" y1="353.5" x2="103.9" y2="356.7" stroke="#231f20" stroke-width="1" />
<line x1="136.1" y1="353.5" x2="136.1" y2="356.7" stroke="#231f20" stroke-width="1" />
<text transform="translate(75.5,364.8) rotate(-45)" font-size="7.6" text-anchor="end" fill="#231f20" textLength="26" lengthAdjust="spacingAndGlyphs">Controls</text>
<text transform="translate(107.8,364.8) rotate(-45)" font-size="7.6" text-anchor="end" fill="#231f20" textLength="35.5" lengthAdjust="spacingAndGlyphs">Day control</text>
<text transform="translate(139.9,364.8) rotate(-45)" font-size="7.6" text-anchor="end" fill="#231f20" textLength="40.5" lengthAdjust="spacingAndGlyphs">Index Pat01*</text>
<text transform="translate(29.7,309.9) rotate(-90)" font-size="9.0" font-weight="bold" text-anchor="middle" fill="#231f20" textLength="87.2" lengthAdjust="spacingAndGlyphs">αCD41 mAb (αIIbβ3) [MFI]</text>
<line x1="272" y1="266.3" x2="272" y2="380" stroke="#231f20" stroke-width="1.6" />
<line x1="271.2" y1="376.8" x2="461.6" y2="376.8" stroke="#231f20" stroke-width="1.6" />
<line x1="268.7" y1="376.8" x2="272" y2="376.8" stroke="#231f20" stroke-width="0.9" />
<text x="265" y="379.25" font-size="7" text-anchor="end" fill="#231f20" font-weight="normal" font-style="normal" textLength="3.9" lengthAdjust="spacingAndGlyphs" >0</text>
<line x1="270.2" y1="371.43" x2="272" y2="371.43" stroke="#231f20" stroke-width="0.9" />
<line x1="268.7" y1="366.05" x2="272" y2="366.05" stroke="#231f20" stroke-width="0.9" />
<line x1="270.2" y1="360.68" x2="272" y2="360.68" stroke="#231f20" stroke-width="0.9" />
<line x1="268.7" y1="355.3" x2="272" y2="355.3" stroke="#231f20" stroke-width="0.9" />
<text x="265" y="357.75" font-size="7" text-anchor="end" fill="#231f20" font-weight="normal" font-style="normal" textLength="11.4" lengthAdjust="spacingAndGlyphs" >100</text>
<line x1="270.2" y1="349.93" x2="272" y2="349.93" stroke="#231f20" stroke-width="0.9" />
<line x1="268.7" y1="344.55" x2="272" y2="344.55" stroke="#231f20" stroke-width="0.9" />
<line x1="270.2" y1="339.18" x2="272" y2="339.18" stroke="#231f20" stroke-width="0.9" />
<line x1="268.7" y1="333.8" x2="272" y2="333.8" stroke="#231f20" stroke-width="0.9" />
<text x="265" y="336.25" font-size="7" text-anchor="end" fill="#231f20" font-weight="normal" font-style="normal" textLength="11.4" lengthAdjust="spacingAndGlyphs" >200</text>
<line x1="270.2" y1="328.43" x2="272" y2="328.43" stroke="#231f20" stroke-width="0.9" />
<line x1="268.7" y1="323.05" x2="272" y2="323.05" stroke="#231f20" stroke-width="0.9" />
<line x1="270.2" y1="317.68" x2="272" y2="317.68" stroke="#231f20" stroke-width="0.9" />
<line x1="268.7" y1="312.3" x2="272" y2="312.3" stroke="#231f20" stroke-width="0.9" />
<text x="265" y="314.75" font-size="7" text-anchor="end" fill="#231f20" font-weight="normal" font-style="normal" textLength="11.4" lengthAdjust="spacingAndGlyphs" >300</text>
<line x1="270.2" y1="306.93" x2="272" y2="306.93" stroke="#231f20" stroke-width="0.9" />
<line x1="268.7" y1="301.55" x2="272" y2="301.55" stroke="#231f20" stroke-width="0.9" />
<line x1="270.2" y1="296.18" x2="272" y2="296.18" stroke="#231f20" stroke-width="0.9" />
<line x1="268.7" y1="290.8" x2="272" y2="290.8" stroke="#231f20" stroke-width="0.9" />
<text x="265" y="293.25" font-size="7" text-anchor="end" fill="#231f20" font-weight="normal" font-style="normal" textLength="11.4" lengthAdjust="spacingAndGlyphs" >400</text>
<line x1="270.2" y1="285.43" x2="272" y2="285.43" stroke="#231f20" stroke-width="0.9" />
<line x1="268.7" y1="280.05" x2="272" y2="280.05" stroke="#231f20" stroke-width="0.9" />
<line x1="270.2" y1="274.68" x2="272" y2="274.68" stroke="#231f20" stroke-width="0.9" />
<line x1="268.7" y1="269.3" x2="272" y2="269.3" stroke="#231f20" stroke-width="0.9" />
<text x="265" y="271.75" font-size="7" text-anchor="end" fill="#231f20" font-weight="normal" font-style="normal" textLength="11.4" lengthAdjust="spacingAndGlyphs" >500</text>
<line x1="272" y1="376.8" x2="272" y2="380" stroke="#231f20" stroke-width="0.9" />
<line x1="283.65" y1="376.8" x2="283.65" y2="378.4" stroke="#231f20" stroke-width="0.9" />
<line x1="295.3" y1="376.8" x2="295.3" y2="380" stroke="#231f20" stroke-width="0.9" />
<line x1="306.95" y1="376.8" x2="306.95" y2="378.4" stroke="#231f20" stroke-width="0.9" />
<line x1="318.6" y1="376.8" x2="318.6" y2="380" stroke="#231f20" stroke-width="0.9" />
<line x1="330.25" y1="376.8" x2="330.25" y2="378.4" stroke="#231f20" stroke-width="0.9" />
<line x1="341.9" y1="376.8" x2="341.9" y2="380" stroke="#231f20" stroke-width="0.9" />
<line x1="353.55" y1="376.8" x2="353.55" y2="378.4" stroke="#231f20" stroke-width="0.9" />
<line x1="365.2" y1="376.8" x2="365.2" y2="380" stroke="#231f20" stroke-width="0.9" />
<line x1="376.85" y1="376.8" x2="376.85" y2="378.4" stroke="#231f20" stroke-width="0.9" />
<line x1="388.5" y1="376.8" x2="388.5" y2="380" stroke="#231f20" stroke-width="0.9" />
<line x1="400.15" y1="376.8" x2="400.15" y2="378.4" stroke="#231f20" stroke-width="0.9" />
<line x1="411.8" y1="376.8" x2="411.8" y2="380" stroke="#231f20" stroke-width="0.9" />
<line x1="423.45" y1="376.8" x2="423.45" y2="378.4" stroke="#231f20" stroke-width="0.9" />
<line x1="435.1" y1="376.8" x2="435.1" y2="380" stroke="#231f20" stroke-width="0.9" />
<line x1="446.75" y1="376.8" x2="446.75" y2="378.4" stroke="#231f20" stroke-width="0.9" />
<line x1="458.4" y1="376.8" x2="458.4" y2="380" stroke="#231f20" stroke-width="0.9" />
<text x="272" y="390.5" font-size="6.9" text-anchor="middle" fill="#231f20" font-weight="normal" font-style="normal" >0</text>
<text x="318.6" y="390.5" font-size="6.9" text-anchor="middle" fill="#231f20" font-weight="normal" font-style="normal" >0.5</text>
<text x="365.2" y="390.5" font-size="6.9" text-anchor="middle" fill="#231f20" font-weight="normal" font-style="normal" >1.0</text>
<text x="411.8" y="390.5" font-size="6.9" text-anchor="middle" fill="#231f20" font-weight="normal" font-style="normal" >1.5</text>
<text x="458.4" y="390.5" font-size="6.9" text-anchor="middle" fill="#231f20" font-weight="normal" font-style="normal" >2.0</text>
<text x="366.4" y="403.7" font-size="8.8" text-anchor="middle" fill="#363636" font-weight="bold" font-style="normal" textLength="29.7" lengthAdjust="spacingAndGlyphs" >ADP (µM)</text>
<text transform="translate(246.6,323) rotate(-90)" font-size="9.0" font-weight="bold" text-anchor="middle" fill="#231f20" textLength="71.4" lengthAdjust="spacingAndGlyphs">αFibrinogen mAb [MFI]</text>
<path d="M272,318.75 L295.3,296.18 L341.9,279.84 L458.4,273.81 L458.4,292.09 L341.9,299.4 L295.3,315.31 L272,332.73 Z" stroke="none" stroke-width="1" fill="#d9dce4" />
<path d="M272,318.75 L295.3,296.18 L341.9,279.84 L458.4,273.81" stroke="#8e929c" stroke-width="0.8" fill="none" />
<path d="M272,332.73 L295.3,315.31 L341.9,299.4 L458.4,292.09" stroke="#8e929c" stroke-width="0.8" fill="none" />
<path d="M272,333.8 L295.3,328.21 L341.9,317.89 L458.4,312.94" stroke="#3aaa39" stroke-width="1.2" fill="none" />
<path d="M272,331.9 L273.9,335.3 L270.1,335.3 Z" fill="#3aaa39"/>
<path d="M295.3,326.31 L297.2,329.71 L293.4,329.71 Z" fill="#3aaa39"/>
<path d="M341.9,315.99 L343.8,319.39 L340,319.39 Z" fill="#3aaa39"/>
<path d="M458.4,311.05 L460.3,314.44 L456.5,314.44 Z" fill="#3aaa39"/>
<path d="M272,332.08 L295.3,318.75 L341.9,294.46 L458.4,288.44" stroke="#1f4e80" stroke-width="1.2" fill="none" />
<rect x="270.4" y="330.48" width="3.2" height="3.2" fill="#1f4e80" stroke="none" stroke-width="1" />
<rect x="293.7" y="317.15" width="3.2" height="3.2" fill="#1f4e80" stroke="none" stroke-width="1" />
<rect x="340.3" y="292.86" width="3.2" height="3.2" fill="#1f4e80" stroke="none" stroke-width="1" />
<rect x="456.8" y="286.83" width="3.2" height="3.2" fill="#1f4e80" stroke="none" stroke-width="1" />
<path d="M272,324.34 L295.3,305.63 L341.9,289.94 L458.4,282.63" stroke="#c8243f" stroke-width="1.2" fill="none" />
<circle cx="272" cy="324.34" r="1.9" fill="#c8243f"/>
<circle cx="295.3" cy="305.63" r="1.9" fill="#c8243f"/>
<circle cx="341.9" cy="289.94" r="1.9" fill="#c8243f"/>
<circle cx="458.4" cy="282.63" r="1.9" fill="#c8243f"/>
<circle cx="403.9" cy="338.1" r="1.9" fill="#c8243f"/>
<rect x="402.3" y="349.9" width="3.2" height="3.2" fill="#1f4e80" stroke="none" stroke-width="1" />
<path d="M403.9,363.4 L405.8,366.9 L402,366.9 Z" fill="#3aaa39"/>
<text x="409.6" y="341.2" font-size="7.4" text-anchor="start" fill="#231f20" font-weight="normal" font-style="normal" textLength="51.6" lengthAdjust="spacingAndGlyphs" >Controls (range)</text>
<text x="409.6" y="354.3" font-size="7.4" text-anchor="start" fill="#231f20" font-weight="normal" font-style="normal" textLength="36.2" lengthAdjust="spacingAndGlyphs" >Day control</text>
<text x="409.6" y="367.4" font-size="7.4" text-anchor="start" fill="#231f20" font-weight="normal" font-style="normal" textLength="40" lengthAdjust="spacingAndGlyphs" >Index Pat01*</text>
<rect x="37.9" y="430.6" width="62.7" height="167.1" fill="#e8e8e8" stroke="none" stroke-width="1" />
<rect x="100.6" y="430.6" width="76.8" height="167.1" fill="#e2e2e2" stroke="none" stroke-width="1" />
<rect x="177.4" y="430.6" width="7.2" height="167.1" fill="#e2e2e2" stroke="none" stroke-width="1" />
<rect x="184.6" y="430.6" width="130.4" height="167.1" fill="#ffffff" stroke="none" stroke-width="1" />
<line x1="100.1" y1="430.6" x2="100.1" y2="597.7" stroke="#c8c8c8" stroke-width="0.8" />
<line x1="104.2" y1="430.6" x2="104.2" y2="597.7" stroke="#a8a8a8" stroke-width="0.7" stroke-dasharray="1.2 0.8"/>
<line x1="147.3" y1="430.6" x2="147.3" y2="597.7" stroke="#a8a8a8" stroke-width="0.7" stroke-dasharray="1.2 0.8"/>
<line x1="223.52" y1="430.6" x2="223.52" y2="597.7" stroke="#a8a8a8" stroke-width="0.7" stroke-dasharray="1.2 0.8"/>
<line x1="265.92" y1="430.6" x2="265.92" y2="597.7" stroke="#a8a8a8" stroke-width="0.7" stroke-dasharray="1.2 0.8"/>
<line x1="308.32" y1="430.6" x2="308.32" y2="597.7" stroke="#a8a8a8" stroke-width="0.7" stroke-dasharray="1.2 0.8"/>
<rect x="177.4" y="477.9" width="7.2" height="52.2" fill="#fbf5bf" stroke="none" stroke-width="1" />
<text x="198.08" y="435.3" font-size="5.2" text-anchor="middle" fill="#333" font-weight="normal" font-style="normal" >Y</text>
<text x="223.52" y="435.3" font-size="5.2" text-anchor="middle" fill="#333" font-weight="normal" font-style="normal" >W</text>
<text x="248.96" y="435.3" font-size="5.2" text-anchor="middle" fill="#333" font-weight="normal" font-style="normal" >I</text>
<text x="274.4" y="435.3" font-size="5.2" text-anchor="middle" fill="#333" font-weight="normal" font-style="normal" >S</text>
<text x="299.84" y="435.3" font-size="5.2" text-anchor="middle" fill="#333" font-weight="normal" font-style="normal" >A</text>
<rect x="101.2" y="436.1" width="213.8" height="5.6" fill="#1d9a45" stroke="none" stroke-width="1" />
<text x="104.2" y="440.3" font-size="5.2" text-anchor="middle" fill="#137a34" font-weight="normal" font-style="normal" >g</text>
<text x="112.82" y="440.3" font-size="5.2" text-anchor="middle" fill="#137a34" font-weight="normal" font-style="normal" >c</text>
<text x="121.44" y="440.3" font-size="5.2" text-anchor="middle" fill="#137a34" font-weight="normal" font-style="normal" >t</text>
<text x="130.06" y="440.3" font-size="5.2" text-anchor="middle" fill="#137a34" font-weight="normal" font-style="normal" >c</text>
<text x="138.68" y="440.3" font-size="5.2" text-anchor="middle" fill="#137a34" font-weight="normal" font-style="normal" >c</text>
<text x="147.3" y="440.3" font-size="5.2" text-anchor="middle" fill="#137a34" font-weight="normal" font-style="normal" >t</text>
<text x="155.92" y="440.3" font-size="5.2" text-anchor="middle" fill="#137a34" font-weight="normal" font-style="normal" >c</text>
<text x="164.54" y="440.3" font-size="5.2" text-anchor="middle" fill="#137a34" font-weight="normal" font-style="normal" >c</text>
<text x="173.16" y="440.3" font-size="5.2" text-anchor="middle" fill="#137a34" font-weight="normal" font-style="normal" >a</text>
<text x="189.6" y="440.3" font-size="5.2" text-anchor="middle" fill="#0d5a24" font-weight="normal" font-style="normal" >G</text>
<text x="198.08" y="440.3" font-size="5.2" text-anchor="middle" fill="#0d5a24" font-weight="normal" font-style="normal" >T</text>
<text x="206.56" y="440.3" font-size="5.2" text-anchor="middle" fill="#0d5a24" font-weight="normal" font-style="normal" >A</text>
<text x="215.04" y="440.3" font-size="5.2" text-anchor="middle" fill="#0d5a24" font-weight="normal" font-style="normal" >C</text>
<text x="223.52" y="440.3" font-size="5.2" text-anchor="middle" fill="#0d5a24" font-weight="normal" font-style="normal" >T</text>
<text x="232" y="440.3" font-size="5.2" text-anchor="middle" fill="#0d5a24" font-weight="normal" font-style="normal" >G</text>
<text x="240.48" y="440.3" font-size="5.2" text-anchor="middle" fill="#0d5a24" font-weight="normal" font-style="normal" >G</text>
<text x="248.96" y="440.3" font-size="5.2" text-anchor="middle" fill="#0d5a24" font-weight="normal" font-style="normal" >A</text>
<text x="257.44" y="440.3" font-size="5.2" text-anchor="middle" fill="#0d5a24" font-weight="normal" font-style="normal" >T</text>
<text x="265.92" y="440.3" font-size="5.2" text-anchor="middle" fill="#0d5a24" font-weight="normal" font-style="normal" >C</text>
<text x="274.4" y="440.3" font-size="5.2" text-anchor="middle" fill="#0d5a24" font-weight="normal" font-style="normal" >T</text>
<text x="282.88" y="440.3" font-size="5.2" text-anchor="middle" fill="#0d5a24" font-weight="normal" font-style="normal" >C</text>
<text x="291.36" y="440.3" font-size="5.2" text-anchor="middle" fill="#0d5a24" font-weight="normal" font-style="normal" >C</text>
<text x="299.84" y="440.3" font-size="5.2" text-anchor="middle" fill="#0d5a24" font-weight="normal" font-style="normal" >G</text>
<text x="308.32" y="440.3" font-size="5.2" text-anchor="middle" fill="#0d5a24" font-weight="normal" font-style="normal" >C</text>
<text x="198.08" y="456.9" font-size="5.2" text-anchor="middle" fill="#333" font-weight="normal" font-style="normal" >Y</text>
<text x="223.52" y="456.9" font-size="5.2" text-anchor="middle" fill="#333" font-weight="normal" font-style="normal" >W</text>
<text x="248.96" y="456.9" font-size="5.2" text-anchor="middle" fill="#333" font-weight="normal" font-style="normal" >I</text>
<text x="274.4" y="456.9" font-size="5.2" text-anchor="middle" fill="#333" font-weight="normal" font-style="normal" >S</text>
<text x="299.84" y="456.9" font-size="5.2" text-anchor="middle" fill="#333" font-weight="normal" font-style="normal" >A</text>
<rect x="101.2" y="458.5" width="213.8" height="5.4" fill="#d5ebd3" stroke="none" stroke-width="1" />
<text x="104.2" y="462.8" font-size="5.2" text-anchor="middle" fill="#6a6a6a" font-weight="normal" font-style="normal" >g</text>
<text x="112.82" y="462.8" font-size="5.2" text-anchor="middle" fill="#6a6a6a" font-weight="normal" font-style="normal" >c</text>
<text x="121.44" y="462.8" font-size="5.2" text-anchor="middle" fill="#6a6a6a" font-weight="normal" font-style="normal" >t</text>
<text x="130.06" y="462.8" font-size="5.2" text-anchor="middle" fill="#6a6a6a" font-weight="normal" font-style="normal" >c</text>
<text x="138.68" y="462.8" font-size="5.2" text-anchor="middle" fill="#6a6a6a" font-weight="normal" font-style="normal" >c</text>
<text x="147.3" y="462.8" font-size="5.2" text-anchor="middle" fill="#6a6a6a" font-weight="normal" font-style="normal" >t</text>
<text x="155.92" y="462.8" font-size="5.2" text-anchor="middle" fill="#6a6a6a" font-weight="normal" font-style="normal" >c</text>
<text x="164.54" y="462.8" font-size="5.2" text-anchor="middle" fill="#6a6a6a" font-weight="normal" font-style="normal" >c</text>
<text x="173.16" y="462.8" font-size="5.2" text-anchor="middle" fill="#6a6a6a" font-weight="normal" font-style="normal" >a</text>
<text x="189.6" y="462.8" font-size="5.2" text-anchor="middle" fill="#444" font-weight="normal" font-style="normal" >G</text>
<text x="198.08" y="462.8" font-size="5.2" text-anchor="middle" fill="#444" font-weight="normal" font-style="normal" >T</text>
<text x="206.56" y="462.8" font-size="5.2" text-anchor="middle" fill="#444" font-weight="normal" font-style="normal" >A</text>
<text x="215.04" y="462.8" font-size="5.2" text-anchor="middle" fill="#444" font-weight="normal" font-style="normal" >C</text>
<text x="223.52" y="462.8" font-size="5.2" text-anchor="middle" fill="#444" font-weight="normal" font-style="normal" >T</text>
<text x="232" y="462.8" font-size="5.2" text-anchor="middle" fill="#444" font-weight="normal" font-style="normal" >G</text>
<text x="240.48" y="462.8" font-size="5.2" text-anchor="middle" fill="#444" font-weight="normal" font-style="normal" >G</text>
<text x="248.96" y="462.8" font-size="5.2" text-anchor="middle" fill="#444" font-weight="normal" font-style="normal" >A</text>
<text x="257.44" y="462.8" font-size="5.2" text-anchor="middle" fill="#444" font-weight="normal" font-style="normal" >T</text>
<text x="265.92" y="462.8" font-size="5.2" text-anchor="middle" fill="#444" font-weight="normal" font-style="normal" >C</text>
<text x="274.4" y="462.8" font-size="5.2" text-anchor="middle" fill="#444" font-weight="normal" font-style="normal" >T</text>
<text x="282.88" y="462.8" font-size="5.2" text-anchor="middle" fill="#444" font-weight="normal" font-style="normal" >C</text>
<text x="291.36" y="462.8" font-size="5.2" text-anchor="middle" fill="#444" font-weight="normal" font-style="normal" >C</text>
<text x="299.84" y="462.8" font-size="5.2" text-anchor="middle" fill="#444" font-weight="normal" font-style="normal" >G</text>
<text x="308.32" y="462.8" font-size="5.2" text-anchor="middle" fill="#444" font-weight="normal" font-style="normal" >C</text>
<rect x="177.7" y="458.3" width="6.5" height="5.8" fill="#e8452c" stroke="none" stroke-width="1" />
<text x="181" y="462.6" font-size="4.6" text-anchor="middle" fill="#fff" font-weight="normal" font-style="normal" >a</text>
<rect x="100.6" y="467.6" width="84" height="1.8" fill="#e6dbe6" stroke="none" stroke-width="1" />
<text x="198.08" y="470.6" font-size="5.2" text-anchor="middle" fill="#333" font-weight="normal" font-style="normal" >Y</text>
<text x="223.52" y="470.6" font-size="5.2" text-anchor="middle" fill="#333" font-weight="normal" font-style="normal" >W</text>
<text x="248.96" y="470.6" font-size="5.2" text-anchor="middle" fill="#333" font-weight="normal" font-style="normal" >I</text>
<text x="274.4" y="470.6" font-size="5.2" text-anchor="middle" fill="#333" font-weight="normal" font-style="normal" >S</text>
<text x="299.84" y="470.6" font-size="5.2" text-anchor="middle" fill="#333" font-weight="normal" font-style="normal" >A</text>
<rect x="101.2" y="471.4" width="213.8" height="4.8" fill="#a9dbef" stroke="none" stroke-width="1" />
<text x="104.2" y="475.3" font-size="5.2" text-anchor="middle" fill="#6aaad6" font-weight="normal" font-style="normal" >g</text>
<text x="112.82" y="475.3" font-size="5.2" text-anchor="middle" fill="#6aaad6" font-weight="normal" font-style="normal" >c</text>
<text x="121.44" y="475.3" font-size="5.2" text-anchor="middle" fill="#6aaad6" font-weight="normal" font-style="normal" >t</text>
<text x="130.06" y="475.3" font-size="5.2" text-anchor="middle" fill="#6aaad6" font-weight="normal" font-style="normal" >c</text>
<text x="138.68" y="475.3" font-size="5.2" text-anchor="middle" fill="#6aaad6" font-weight="normal" font-style="normal" >c</text>
<text x="147.3" y="475.3" font-size="5.2" text-anchor="middle" fill="#6aaad6" font-weight="normal" font-style="normal" >t</text>
<text x="155.92" y="475.3" font-size="5.2" text-anchor="middle" fill="#6aaad6" font-weight="normal" font-style="normal" >c</text>
<text x="164.54" y="475.3" font-size="5.2" text-anchor="middle" fill="#6aaad6" font-weight="normal" font-style="normal" >c</text>
<text x="173.16" y="475.3" font-size="5.2" text-anchor="middle" fill="#6aaad6" font-weight="normal" font-style="normal" >a</text>
<text x="189.6" y="475.3" font-size="5.2" text-anchor="middle" fill="#3a86c0" font-weight="normal" font-style="normal" >G</text>
<text x="198.08" y="475.3" font-size="5.2" text-anchor="middle" fill="#3a86c0" font-weight="normal" font-style="normal" >T</text>
<text x="206.56" y="475.3" font-size="5.2" text-anchor="middle" fill="#3a86c0" font-weight="normal" font-style="normal" >A</text>
<text x="215.04" y="475.3" font-size="5.2" text-anchor="middle" fill="#3a86c0" font-weight="normal" font-style="normal" >C</text>
<text x="223.52" y="475.3" font-size="5.2" text-anchor="middle" fill="#3a86c0" font-weight="normal" font-style="normal" >T</text>
<text x="232" y="475.3" font-size="5.2" text-anchor="middle" fill="#3a86c0" font-weight="normal" font-style="normal" >G</text>
<text x="240.48" y="475.3" font-size="5.2" text-anchor="middle" fill="#3a86c0" font-weight="normal" font-style="normal" >G</text>
<text x="248.96" y="475.3" font-size="5.2" text-anchor="middle" fill="#3a86c0" font-weight="normal" font-style="normal" >A</text>
<text x="257.44" y="475.3" font-size="5.2" text-anchor="middle" fill="#3a86c0" font-weight="normal" font-style="normal" >T</text>
<text x="265.92" y="475.3" font-size="5.2" text-anchor="middle" fill="#3a86c0" font-weight="normal" font-style="normal" >C</text>
<text x="274.4" y="475.3" font-size="5.2" text-anchor="middle" fill="#3a86c0" font-weight="normal" font-style="normal" >T</text>
<text x="282.88" y="475.3" font-size="5.2" text-anchor="middle" fill="#3a86c0" font-weight="normal" font-style="normal" >C</text>
<text x="291.36" y="475.3" font-size="5.2" text-anchor="middle" fill="#3a86c0" font-weight="normal" font-style="normal" >C</text>
<text x="299.84" y="475.3" font-size="5.2" text-anchor="middle" fill="#3a86c0" font-weight="normal" font-style="normal" >G</text>
<text x="308.32" y="475.3" font-size="5.2" text-anchor="middle" fill="#3a86c0" font-weight="normal" font-style="normal" >C</text>
<rect x="177.7" y="471.2" width="6.5" height="5.4" fill="#e8452c" stroke="none" stroke-width="1" />
<text x="181" y="475.2" font-size="4.6" text-anchor="middle" fill="#fff" font-weight="normal" font-style="normal" >a</text>
<line x1="101.2" y1="477.3" x2="168" y2="477.3" stroke="#137a35" stroke-width="1.3" />
<line x1="168" y1="477.3" x2="176.8" y2="477.3" stroke="#b9d43a" stroke-width="1.3" />
<line x1="184.6" y1="477.3" x2="315" y2="477.3" stroke="#137a35" stroke-width="1.3" />
<rect x="100.6" y="532.8" width="84" height="5" fill="#e7e3ec" stroke="none" stroke-width="1" />
<rect x="184.6" y="532.8" width="130.4" height="5" fill="#f7f5fa" stroke="none" stroke-width="1" />
<text x="198.08" y="537.1" font-size="5.2" text-anchor="middle" fill="#333" font-weight="normal" font-style="normal" >Y</text>
<text x="223.52" y="537.1" font-size="5.2" text-anchor="middle" fill="#333" font-weight="normal" font-style="normal" >W</text>
<text x="248.96" y="537.1" font-size="5.2" text-anchor="middle" fill="#333" font-weight="normal" font-style="normal" >I</text>
<text x="274.4" y="537.1" font-size="5.2" text-anchor="middle" fill="#333" font-weight="normal" font-style="normal" >S</text>
<text x="299.84" y="537.1" font-size="5.2" text-anchor="middle" fill="#333" font-weight="normal" font-style="normal" >A</text>
<rect x="101.2" y="537.9" width="213.8" height="5.5" fill="#cbc0e4" stroke="none" stroke-width="1" />
<text x="104.2" y="542.2" font-size="5.2" text-anchor="middle" fill="#8a7fc0" font-weight="normal" font-style="normal" >g</text>
<text x="112.82" y="542.2" font-size="5.2" text-anchor="middle" fill="#8a7fc0" font-weight="normal" font-style="normal" >c</text>
<text x="121.44" y="542.2" font-size="5.2" text-anchor="middle" fill="#8a7fc0" font-weight="normal" font-style="normal" >t</text>
<text x="130.06" y="542.2" font-size="5.2" text-anchor="middle" fill="#8a7fc0" font-weight="normal" font-style="normal" >c</text>
<text x="138.68" y="542.2" font-size="5.2" text-anchor="middle" fill="#8a7fc0" font-weight="normal" font-style="normal" >c</text>
<text x="147.3" y="542.2" font-size="5.2" text-anchor="middle" fill="#8a7fc0" font-weight="normal" font-style="normal" >t</text>
<text x="155.92" y="542.2" font-size="5.2" text-anchor="middle" fill="#8a7fc0" font-weight="normal" font-style="normal" >c</text>
<text x="164.54" y="542.2" font-size="5.2" text-anchor="middle" fill="#8a7fc0" font-weight="normal" font-style="normal" >c</text>
<text x="173.16" y="542.2" font-size="5.2" text-anchor="middle" fill="#8a7fc0" font-weight="normal" font-style="normal" >a</text>
<text x="189.6" y="542.2" font-size="5.2" text-anchor="middle" fill="#6a5fa8" font-weight="normal" font-style="normal" >G</text>
<text x="198.08" y="542.2" font-size="5.2" text-anchor="middle" fill="#6a5fa8" font-weight="normal" font-style="normal" >T</text>
<text x="206.56" y="542.2" font-size="5.2" text-anchor="middle" fill="#6a5fa8" font-weight="normal" font-style="normal" >A</text>
<text x="215.04" y="542.2" font-size="5.2" text-anchor="middle" fill="#6a5fa8" font-weight="normal" font-style="normal" >C</text>
<text x="223.52" y="542.2" font-size="5.2" text-anchor="middle" fill="#6a5fa8" font-weight="normal" font-style="normal" >T</text>
<text x="232" y="542.2" font-size="5.2" text-anchor="middle" fill="#6a5fa8" font-weight="normal" font-style="normal" >G</text>
<text x="240.48" y="542.2" font-size="5.2" text-anchor="middle" fill="#6a5fa8" font-weight="normal" font-style="normal" >G</text>
<text x="248.96" y="542.2" font-size="5.2" text-anchor="middle" fill="#6a5fa8" font-weight="normal" font-style="normal" >A</text>
<text x="257.44" y="542.2" font-size="5.2" text-anchor="middle" fill="#6a5fa8" font-weight="normal" font-style="normal" >T</text>
<text x="265.92" y="542.2" font-size="5.2" text-anchor="middle" fill="#6a5fa8" font-weight="normal" font-style="normal" >C</text>
<text x="274.4" y="542.2" font-size="5.2" text-anchor="middle" fill="#6a5fa8" font-weight="normal" font-style="normal" >T</text>
<text x="282.88" y="542.2" font-size="5.2" text-anchor="middle" fill="#6a5fa8" font-weight="normal" font-style="normal" >C</text>
<text x="291.36" y="542.2" font-size="5.2" text-anchor="middle" fill="#6a5fa8" font-weight="normal" font-style="normal" >C</text>
<text x="299.84" y="542.2" font-size="5.2" text-anchor="middle" fill="#6a5fa8" font-weight="normal" font-style="normal" >G</text>
<text x="308.32" y="542.2" font-size="5.2" text-anchor="middle" fill="#6a5fa8" font-weight="normal" font-style="normal" >C</text>
<rect x="177.7" y="537.6" width="6.5" height="5.9" fill="#e8452c" stroke="none" stroke-width="1" />
<text x="181" y="542.1" font-size="4.6" text-anchor="middle" fill="#fff" font-weight="normal" font-style="normal" >t</text>
<line x1="101.2" y1="544.5" x2="315" y2="544.5" stroke="#137a35" stroke-width="1.3" />
<line x1="100.6" y1="530.1" x2="315" y2="530.1" stroke="#7a6a8a" stroke-width="0.8" />
<path d="M101.1,530.1 L101.4,530.1 L101.7,530.1 L102,530.1 L102.3,530.1 L102.6,530.1 L102.9,530.1 L103.2,530.1 L103.5,530.1 L103.8,530.1 L104.1,530.1 L104.4,530.1 L104.7,530.1 L105,530.1 L105.3,530.1 L105.6,530.1 L105.9,530.1 L106.2,530.1 L106.5,530.1 L106.8,530.1 L107.1,530.1 L107.4,530.1 L107.7,530.1 L108,530.1 L108.3,530.1 L108.6,530.1 L108.9,530.1 L109.2,530.1 L109.5,530.1 L109.8,530.1 L110.1,530.1 L110.4,530.1 L110.7,530.1 L111,530.1 L111.3,530.1 L111.6,530.1 L111.9,530.1 L112.2,530.1 L112.5,530.1 L112.8,530.1 L113.1,530.1 L113.4,530.1 L113.7,530.1 L114,530.1 L114.3,530.1 L114.6,530.1 L114.9,530.1 L115.2,530.1 L115.5,530.1 L115.8,530.1 L116.1,530.1 L116.4,530.1 L116.7,530.1 L117,530.1 L117.3,530.1 L117.6,530.1 L117.9,530.1 L118.2,530.1 L118.5,530.1 L118.8,530.1 L119.1,530.1 L119.4,530.1 L119.7,530.1 L120,530.1 L120.3,530.1 L120.6,530.1 L120.9,530.1 L121.2,530.1 L121.5,530.1 L121.8,530.1 L122.1,530.1 L122.4,530.1 L122.7,530.1 L123,530.1 L123.3,530.1 L123.6,530.1 L123.9,530.1 L124.2,530.1 L124.5,530.1 L124.8,530.1 L125.1,530.1 L125.4,530.1 L125.7,530.1 L126,530.1 L126.3,530.1 L126.6,530.1 L126.9,530.1 L127.2,530.1 L127.5,530.1 L127.8,530.1 L128.1,530.1 L128.4,530.1 L128.7,530.1 L129,530.1 L129.3,530.1 L129.6,530.1 L129.9,530.1 L130.2,530.1 L130.5,530.1 L130.8,530.1 L131.1,530.1 L131.4,530.1 L131.7,530.1 L132,530.1 L132.3,530.1 L132.6,530.1 L132.9,530.1 L133.2,530.1 L133.5,530.1 L133.8,530.1 L134.1,530.1 L134.4,530.1 L134.7,530.1 L135,530.1 L135.3,530.1 L135.6,530.1 L135.9,530.1 L136.2,530.1 L136.5,530.1 L136.8,530.1 L137.1,530.1 L137.4,530.1 L137.7,530.1 L138,530.1 L138.3,530.1 L138.6,530.1 L138.9,530.1 L139.2,530.1 L139.5,530.1 L139.8,530.1 L140.1,530.1 L140.4,530.1 L140.7,530.1 L141,530.1 L141.3,530.1 L141.6,530.1 L141.9,530.1 L142.2,530.1 L142.5,530.1 L142.8,530.1 L143.1,530.1 L143.4,530.1 L143.7,530.1 L144,530.1 L144.3,530.1 L144.6,530.1 L144.9,530.1 L145.2,530.1 L145.5,530.1 L145.8,530.1 L146.1,530.1 L146.4,530.1 L146.7,530.1 L147,530.1 L147.3,530.1 L147.6,530.1 L147.9,530.1 L148.2,530.1 L148.5,530.1 L148.8,530.1 L149.1,530.1 L149.4,530.1 L149.7,530.1 L150,530.1 L150.3,530.1 L150.6,530.1 L150.9,530.1 L151.2,530.1 L151.5,530.1 L151.8,530.1 L152.1,530.1 L152.4,530.1 L152.7,530.1 L153,530.1 L153.3,530.1 L153.6,530.1 L153.9,530.1 L154.2,530.1 L154.5,530.1 L154.8,530.1 L155.1,530.1 L155.4,530.1 L155.7,530.1 L156,530.1 L156.3,530.1 L156.6,530.1 L156.9,530.1 L157.2,530.1 L157.5,530.1 L157.8,530.1 L158.1,530.1 L158.4,530.1 L158.7,530.1 L159,530.1 L159.3,530.1 L159.6,530.1 L159.9,530.1 L160.2,530.1 L160.5,530.1 L160.8,530.1 L161.1,530.1 L161.4,530.1 L161.7,530.1 L162,530.1 L162.3,530.1 L162.6,530.1 L162.9,530.1 L163.2,530.1 L163.5,530.1 L163.8,530.09 L164.1,530.09 L164.4,530.09 L164.7,530.08 L165,530.06 L165.3,530.04 L165.6,530.01 L165.9,529.96 L166.2,529.89 L166.5,529.79 L166.8,529.66 L167.1,529.49 L167.4,529.27 L167.7,528.98 L168,528.62 L168.3,528.19 L168.6,527.68 L168.9,527.09 L169.2,526.44 L169.5,525.72 L169.8,524.97 L170.1,524.2 L170.4,523.44 L170.7,522.74 L171,522.12 L171.3,521.61 L171.6,521.24 L171.9,521.04 L172.2,521.01 L172.5,521.15 L172.8,521.46 L173.1,521.92 L173.4,522.49 L173.7,523.16 L174,523.87 L174.3,524.6 L174.6,525.3 L174.9,525.94 L175.2,526.5 L175.5,526.94 L175.8,527.23 L176.1,527.38 L176.4,527.35 L176.7,527.13 L177,526.73 L177.3,526.13 L177.6,525.34 L177.9,524.38 L178.2,523.25 L178.5,522 L178.8,520.66 L179.1,519.28 L179.4,517.93 L179.7,516.65 L180,515.53 L180.3,514.6 L180.6,513.94 L180.9,513.57 L181.2,513.52 L181.5,513.78 L181.8,514.36 L182.1,515.2 L182.4,516.27 L182.7,517.52 L183,518.87 L183.3,520.27 L183.6,521.66 L183.9,522.99 L184.2,524.23 L184.5,525.35 L184.8,526.32 L185.1,527.16 L185.4,527.85 L185.7,528.42 L186,528.86 L186.3,529.21 L186.6,529.47 L186.9,529.66 L187.2,529.8 L187.5,529.9 L187.8,529.97 L188.1,530.02 L188.4,530.05 L188.7,530.07 L189,530.08 L189.3,530.09 L189.6,530.09 L189.9,530.1 L190.2,530.1 L190.5,530.1 L190.8,530.1 L191.1,530.1 L191.4,530.1 L191.7,530.1 L192,530.1 L192.3,530.1 L192.6,530.1 L192.9,530.1 L193.2,530.1 L193.5,530.1 L193.8,530.1 L194.1,530.1 L194.4,530.1 L194.7,530.1 L195,530.1 L195.3,530.1 L195.6,530.1 L195.9,530.1 L196.2,530.1 L196.5,530.1 L196.8,530.1 L197.1,530.1 L197.4,530.1 L197.7,530.1 L198,530.1 L198.3,530.09 L198.6,530.09 L198.9,530.08 L199.2,530.06 L199.5,530.04 L199.8,530 L200.1,529.95 L200.4,529.87 L200.7,529.76 L201,529.59 L201.3,529.37 L201.6,529.06 L201.9,528.66 L202.2,528.14 L202.5,527.49 L202.8,526.68 L203.1,525.71 L203.4,524.57 L203.7,523.27 L204,521.83 L204.3,520.28 L204.6,518.67 L204.9,517.04 L205.2,515.47 L205.5,514.02 L205.8,512.78 L206.1,511.8 L206.4,511.13 L206.7,510.82 L207,510.88 L207.3,511.31 L207.6,512.09 L207.9,513.17 L208.2,514.49 L208.5,515.98 L208.8,517.58 L209.1,519.21 L209.4,520.81 L209.7,522.33 L210,523.72 L210.3,524.97 L210.6,526.05 L210.9,526.97 L211.2,527.72 L211.5,528.33 L211.8,528.81 L212.1,529.18 L212.4,529.45 L212.7,529.65 L213,529.8 L213.3,529.9 L213.6,529.97 L213.9,530.02 L214.2,530.05 L214.5,530.07 L214.8,530.08 L215.1,530.09 L215.4,530.09 L215.7,530.1 L216,530.1 L216.3,530.1 L216.6,530.1 L216.9,530.1 L217.2,530.1 L217.5,530.1 L217.8,530.1 L218.1,530.1 L218.4,530.1 L218.7,530.1 L219,530.1 L219.3,530.1 L219.6,530.1 L219.9,530.1 L220.2,530.1 L220.5,530.1 L220.8,530.1 L221.1,530.1 L221.4,530.1 L221.7,530.1 L222,530.1 L222.3,530.1 L222.6,530.1 L222.9,530.1 L223.2,530.1 L223.5,530.1 L223.8,530.1 L224.1,530.1 L224.4,530.1 L224.7,530.1 L225,530.1 L225.3,530.1 L225.6,530.1 L225.9,530.1 L226.2,530.1 L226.5,530.1 L226.8,530.1 L227.1,530.1 L227.4,530.1 L227.7,530.1 L228,530.1 L228.3,530.1 L228.6,530.1 L228.9,530.1 L229.2,530.1 L229.5,530.1 L229.8,530.1 L230.1,530.1 L230.4,530.1 L230.7,530.1 L231,530.1 L231.3,530.1 L231.6,530.1 L231.9,530.1 L232.2,530.1 L232.5,530.1 L232.8,530.1 L233.1,530.1 L233.4,530.1 L233.7,530.1 L234,530.1 L234.3,530.1 L234.6,530.1 L234.9,530.1 L235.2,530.1 L235.5,530.1 L235.8,530.1 L236.1,530.1 L236.4,530.1 L236.7,530.1 L237,530.1 L237.3,530.1 L237.6,530.1 L237.9,530.1 L238.2,530.1 L238.5,530.1 L238.8,530.1 L239.1,530.1 L239.4,530.1 L239.7,530.1 L240,530.1 L240.3,530.1 L240.6,530.1 L240.9,530.09 L241.2,530.09 L241.5,530.08 L241.8,530.07 L242.1,530.06 L242.4,530.03 L242.7,529.98 L243,529.92 L243.3,529.82 L243.6,529.68 L243.9,529.47 L244.2,529.19 L244.5,528.8 L244.8,528.29 L245.1,527.62 L245.4,526.76 L245.7,525.7 L246,524.42 L246.3,522.9 L246.6,521.15 L246.9,519.19 L247.2,517.06 L247.5,514.81 L247.8,512.52 L248.1,510.28 L248.4,508.18 L248.7,506.32 L249,504.81 L249.3,503.72 L249.6,503.12 L249.9,503.03 L250.2,503.46 L250.5,504.4 L250.8,505.78 L251.1,507.53 L251.4,509.55 L251.7,511.76 L252,514.05 L252.3,516.32 L252.6,518.49 L252.9,520.52 L253.2,522.34 L253.5,523.94 L253.8,525.3 L254.1,526.43 L254.4,527.35 L254.7,528.08 L255,528.65 L255.3,529.07 L255.6,529.39 L255.9,529.62 L256.2,529.78 L256.5,529.89 L256.8,529.96 L257.1,530.01 L257.4,530.05 L257.7,530.07 L258,530.08 L258.3,530.09 L258.6,530.09 L258.9,530.1 L259.2,530.1 L259.5,530.1 L259.8,530.1 L260.1,530.1 L260.4,530.1 L260.7,530.1 L261,530.1 L261.3,530.1 L261.6,530.1 L261.9,530.1 L262.2,530.1 L262.5,530.1 L262.8,530.1 L263.1,530.1 L263.4,530.1 L263.7,530.1 L264,530.1 L264.3,530.1 L264.6,530.1 L264.9,530.1 L265.2,530.1 L265.5,530.1 L265.8,530.1 L266.1,530.1 L266.4,530.1 L266.7,530.1 L267,530.1 L267.3,530.1 L267.6,530.1 L267.9,530.1 L268.2,530.1 L268.5,530.1 L268.8,530.1 L269.1,530.1 L269.4,530.1 L269.7,530.1 L270,530.1 L270.3,530.1 L270.6,530.1 L270.9,530.1 L271.2,530.1 L271.5,530.1 L271.8,530.1 L272.1,530.1 L272.4,530.1 L272.7,530.1 L273,530.1 L273.3,530.1 L273.6,530.1 L273.9,530.1 L274.2,530.1 L274.5,530.1 L274.8,530.1 L275.1,530.1 L275.4,530.1 L275.7,530.1 L276,530.1 L276.3,530.1 L276.6,530.1 L276.9,530.1 L277.2,530.1 L277.5,530.1 L277.8,530.1 L278.1,530.1 L278.4,530.1 L278.7,530.1 L279,530.1 L279.3,530.1 L279.6,530.1 L279.9,530.1 L280.2,530.1 L280.5,530.1 L280.8,530.1 L281.1,530.1 L281.4,530.1 L281.7,530.1 L282,530.1 L282.3,530.1 L282.6,530.1 L282.9,530.1 L283.2,530.1 L283.5,530.1 L283.8,530.1 L284.1,530.1 L284.4,530.1 L284.7,530.1 L285,530.1 L285.3,530.1 L285.6,530.1 L285.9,530.1 L286.2,530.1 L286.5,530.1 L286.8,530.1 L287.1,530.1 L287.4,530.1 L287.7,530.1 L288,530.1 L288.3,530.1 L288.6,530.1 L288.9,530.1 L289.2,530.1 L289.5,530.1 L289.8,530.1 L290.1,530.1 L290.4,530.1 L290.7,530.1 L291,530.1 L291.3,530.1 L291.6,530.1 L291.9,530.1 L292.2,530.1 L292.5,530.1 L292.8,530.1 L293.1,530.1 L293.4,530.1 L293.7,530.1 L294,530.1 L294.3,530.1 L294.6,530.1 L294.9,530.1 L295.2,530.1 L295.5,530.1 L295.8,530.1 L296.1,530.1 L296.4,530.1 L296.7,530.1 L297,530.1 L297.3,530.1 L297.6,530.1 L297.9,530.1 L298.2,530.1 L298.5,530.1 L298.8,530.1 L299.1,530.1 L299.4,530.1 L299.7,530.1 L300,530.1 L300.3,530.1 L300.6,530.1 L300.9,530.1 L301.2,530.1 L301.5,530.1 L301.8,530.1 L302.1,530.1 L302.4,530.1 L302.7,530.1 L303,530.1 L303.3,530.1 L303.6,530.1 L303.9,530.1 L304.2,530.1 L304.5,530.1 L304.8,530.1 L305.1,530.1 L305.4,530.1 L305.7,530.1 L306,530.1 L306.3,530.1 L306.6,530.1 L306.9,530.1 L307.2,530.1 L307.5,530.1 L307.8,530.1 L308.1,530.1 L308.4,530.1 L308.7,530.1 L309,530.1 L309.3,530.1 L309.6,530.1 L309.9,530.1 L310.2,530.1 L310.5,530.1 L310.8,530.1 L311.1,530.1 L311.4,530.1 L311.7,530.1 L312,530.1 L312.3,530.1 L312.6,530.1 L312.9,530.1 L313.2,530.1 L313.5,530.1 L313.8,530.1 L314.1,530.1 L314.4,530.1" stroke="#4aa266" stroke-width="0.95" fill="none" stroke-linejoin="round"/>
<path d="M101.1,530.1 L101.4,530.1 L101.7,530.1 L102,530.1 L102.3,530.1 L102.6,530.1 L102.9,530.1 L103.2,530.1 L103.5,530.09 L103.8,530.09 L104.1,530.08 L104.4,530.07 L104.7,530.05 L105,530.02 L105.3,529.98 L105.6,529.91 L105.9,529.81 L106.2,529.67 L106.5,529.47 L106.8,529.19 L107.1,528.81 L107.4,528.3 L107.7,527.66 L108,526.84 L108.3,525.83 L108.6,524.62 L108.9,523.2 L109.2,521.58 L109.5,519.78 L109.8,517.84 L110.1,515.82 L110.4,513.79 L110.7,511.83 L111,510.03 L111.3,508.47 L111.6,507.24 L111.9,506.41 L112.2,506.03 L112.5,506.1 L112.8,506.64 L113.1,507.61 L113.4,508.96 L113.7,510.6 L114,512.47 L114.3,514.46 L114.6,516.5 L114.9,518.5 L115.2,520.4 L115.5,522.14 L115.8,523.69 L116.1,525.05 L116.4,526.19 L116.7,527.13 L117,527.89 L117.3,528.49 L117.6,528.95 L117.9,529.29 L118.2,529.54 L118.5,529.72 L118.8,529.85 L119.1,529.94 L119.4,530 L119.7,530.03 L120,530.06 L120.3,530.07 L120.6,530.08 L120.9,530.08 L121.2,530.08 L121.5,530.07 L121.8,530.06 L122.1,530.04 L122.4,530 L122.7,529.94 L123,529.85 L123.3,529.73 L123.6,529.54 L123.9,529.28 L124.2,528.93 L124.5,528.46 L124.8,527.83 L125.1,527.03 L125.4,526.03 L125.7,524.81 L126,523.36 L126.3,521.66 L126.6,519.75 L126.9,517.65 L127.2,515.41 L127.5,513.09 L127.8,510.8 L128.1,508.62 L128.4,506.65 L128.7,505 L129,503.74 L129.3,502.96 L129.6,502.69 L129.9,502.95 L130.2,503.73 L130.5,504.96 L130.8,506.6 L131.1,508.53 L131.4,510.66 L131.7,512.87 L132,515.07 L132.3,517.15 L132.6,519.02 L132.9,520.62 L133.2,521.89 L133.5,522.79 L133.8,523.29 L134.1,523.4 L134.4,523.11 L134.7,522.43 L135,521.39 L135.3,520.03 L135.6,518.41 L135.9,516.59 L136.2,514.65 L136.5,512.68 L136.8,510.79 L137.1,509.07 L137.4,507.62 L137.7,506.51 L138,505.82 L138.3,505.59 L138.6,505.83 L138.9,506.53 L139.2,507.65 L139.5,509.13 L139.8,510.89 L140.1,512.84 L140.4,514.89 L140.7,516.96 L141,518.96 L141.3,520.84 L141.6,522.56 L141.9,524.07 L142.2,525.37 L142.5,526.46 L142.8,527.36 L143.1,528.07 L143.4,528.63 L143.7,529.05 L144,529.37 L144.3,529.6 L144.6,529.77 L144.9,529.88 L145.2,529.96 L145.5,530.01 L145.8,530.04 L146.1,530.07 L146.4,530.08 L146.7,530.09 L147,530.09 L147.3,530.09 L147.6,530.09 L147.9,530.09 L148.2,530.08 L148.5,530.06 L148.8,530.04 L149.1,530 L149.4,529.94 L149.7,529.85 L150,529.73 L150.3,529.55 L150.6,529.3 L150.9,528.96 L151.2,528.51 L151.5,527.92 L151.8,527.17 L152.1,526.24 L152.4,525.11 L152.7,523.77 L153,522.24 L153.3,520.52 L153.6,518.64 L153.9,516.67 L154.2,514.66 L154.5,512.69 L154.8,510.85 L155.1,509.22 L155.4,507.89 L155.7,506.93 L156,506.39 L156.3,506.31 L156.6,506.68 L156.9,507.48 L157.2,508.66 L157.5,510.16 L157.8,511.87 L158.1,513.71 L158.4,515.58 L158.7,517.38 L159,519.02 L159.3,520.44 L159.6,521.56 L159.9,522.36 L160.2,522.8 L160.5,522.87 L160.8,522.57 L161.1,521.92 L161.4,520.97 L161.7,519.74 L162,518.32 L162.3,516.77 L162.6,515.17 L162.9,513.61 L163.2,512.18 L163.5,510.97 L163.8,510.05 L164.1,509.47 L164.4,509.28 L164.7,509.49 L165,510.09 L165.3,511.04 L165.6,512.3 L165.9,513.79 L166.2,515.45 L166.5,517.19 L166.8,518.94 L167.1,520.65 L167.4,522.24 L167.7,523.7 L168,524.98 L168.3,526.09 L168.6,527.01 L168.9,527.77 L169.2,528.38 L169.5,528.85 L169.8,529.21 L170.1,529.48 L170.4,529.68 L170.7,529.82 L171,529.91 L171.3,529.98 L171.6,530.02 L171.9,530.05 L172.2,530.07 L172.5,530.08 L172.8,530.09 L173.1,530.09 L173.4,530.1 L173.7,530.1 L174,530.1 L174.3,530.1 L174.6,530.1 L174.9,530.1 L175.2,530.1 L175.5,530.1 L175.8,530.1 L176.1,530.1 L176.4,530.1 L176.7,530.1 L177,530.1 L177.3,530.1 L177.6,530.1 L177.9,530.1 L178.2,530.1 L178.5,530.1 L178.8,530.1 L179.1,530.1 L179.4,530.1 L179.7,530.1 L180,530.1 L180.3,530.1 L180.6,530.1 L180.9,530.1 L181.2,530.1 L181.5,530.1 L181.8,530.1 L182.1,530.1 L182.4,530.1 L182.7,530.1 L183,530.1 L183.3,530.1 L183.6,530.1 L183.9,530.1 L184.2,530.1 L184.5,530.1 L184.8,530.1 L185.1,530.1 L185.4,530.1 L185.7,530.1 L186,530.1 L186.3,530.1 L186.6,530.1 L186.9,530.1 L187.2,530.1 L187.5,530.1 L187.8,530.1 L188.1,530.1 L188.4,530.1 L188.7,530.1 L189,530.1 L189.3,530.1 L189.6,530.1 L189.9,530.1 L190.2,530.1 L190.5,530.1 L190.8,530.1 L191.1,530.1 L191.4,530.1 L191.7,530.1 L192,530.1 L192.3,530.1 L192.6,530.1 L192.9,530.1 L193.2,530.1 L193.5,530.1 L193.8,530.1 L194.1,530.1 L194.4,530.1 L194.7,530.1 L195,530.1 L195.3,530.1 L195.6,530.1 L195.9,530.1 L196.2,530.1 L196.5,530.1 L196.8,530.1 L197.1,530.1 L197.4,530.1 L197.7,530.1 L198,530.1 L198.3,530.1 L198.6,530.1 L198.9,530.1 L199.2,530.1 L199.5,530.1 L199.8,530.1 L200.1,530.1 L200.4,530.1 L200.7,530.1 L201,530.1 L201.3,530.1 L201.6,530.1 L201.9,530.1 L202.2,530.1 L202.5,530.1 L202.8,530.1 L203.1,530.1 L203.4,530.1 L203.7,530.1 L204,530.1 L204.3,530.1 L204.6,530.1 L204.9,530.1 L205.2,530.1 L205.5,530.1 L205.8,530.1 L206.1,530.1 L206.4,530.1 L206.7,530.1 L207,530.09 L207.3,530.09 L207.6,530.08 L207.9,530.06 L208.2,530.04 L208.5,530 L208.8,529.95 L209.1,529.87 L209.4,529.76 L209.7,529.6 L210,529.38 L210.3,529.07 L210.6,528.68 L210.9,528.16 L211.2,527.52 L211.5,526.72 L211.8,525.76 L212.1,524.63 L212.4,523.35 L212.7,521.92 L213,520.39 L213.3,518.78 L213.6,517.17 L213.9,515.62 L214.2,514.19 L214.5,512.96 L214.8,511.99 L215.1,511.33 L215.4,511.02 L215.7,511.08 L216,511.51 L216.3,512.28 L216.6,513.34 L216.9,514.65 L217.2,516.13 L217.5,517.71 L217.8,519.32 L218.1,520.91 L218.4,522.41 L218.7,523.79 L219,525.02 L219.3,526.09 L219.6,527 L219.9,527.75 L220.2,528.35 L220.5,528.82 L220.8,529.18 L221.1,529.46 L221.4,529.66 L221.7,529.8 L222,529.9 L222.3,529.97 L222.6,530.02 L222.9,530.05 L223.2,530.07 L223.5,530.08 L223.8,530.09 L224.1,530.09 L224.4,530.1 L224.7,530.1 L225,530.1 L225.3,530.1 L225.6,530.1 L225.9,530.1 L226.2,530.1 L226.5,530.1 L226.8,530.1 L227.1,530.1 L227.4,530.1 L227.7,530.1 L228,530.1 L228.3,530.1 L228.6,530.1 L228.9,530.1 L229.2,530.1 L229.5,530.1 L229.8,530.1 L230.1,530.1 L230.4,530.1 L230.7,530.1 L231,530.1 L231.3,530.1 L231.6,530.1 L231.9,530.1 L232.2,530.1 L232.5,530.1 L232.8,530.1 L233.1,530.1 L233.4,530.1 L233.7,530.1 L234,530.1 L234.3,530.1 L234.6,530.1 L234.9,530.1 L235.2,530.1 L235.5,530.1 L235.8,530.1 L236.1,530.1 L236.4,530.1 L236.7,530.1 L237,530.1 L237.3,530.1 L237.6,530.1 L237.9,530.1 L238.2,530.1 L238.5,530.1 L238.8,530.1 L239.1,530.1 L239.4,530.1 L239.7,530.1 L240,530.1 L240.3,530.1 L240.6,530.1 L240.9,530.1 L241.2,530.1 L241.5,530.1 L241.8,530.1 L242.1,530.1 L242.4,530.1 L242.7,530.1 L243,530.1 L243.3,530.1 L243.6,530.1 L243.9,530.1 L244.2,530.1 L244.5,530.1 L244.8,530.1 L245.1,530.1 L245.4,530.1 L245.7,530.1 L246,530.1 L246.3,530.1 L246.6,530.1 L246.9,530.1 L247.2,530.1 L247.5,530.1 L247.8,530.1 L248.1,530.1 L248.4,530.1 L248.7,530.1 L249,530.1 L249.3,530.1 L249.6,530.1 L249.9,530.1 L250.2,530.1 L250.5,530.1 L250.8,530.1 L251.1,530.1 L251.4,530.1 L251.7,530.1 L252,530.1 L252.3,530.1 L252.6,530.1 L252.9,530.1 L253.2,530.1 L253.5,530.1 L253.8,530.1 L254.1,530.1 L254.4,530.1 L254.7,530.1 L255,530.1 L255.3,530.1 L255.6,530.1 L255.9,530.1 L256.2,530.1 L256.5,530.1 L256.8,530.1 L257.1,530.1 L257.4,530.1 L257.7,530.09 L258,530.09 L258.3,530.08 L258.6,530.07 L258.9,530.05 L259.2,530.01 L259.5,529.96 L259.8,529.88 L260.1,529.77 L260.4,529.61 L260.7,529.38 L261,529.07 L261.3,528.65 L261.6,528.11 L261.9,527.4 L262.2,526.52 L262.5,525.45 L262.8,524.17 L263.1,522.68 L263.4,521 L263.7,519.15 L264,517.17 L264.3,515.14 L264.6,513.12 L264.9,511.21 L265.2,509.48 L265.5,508.02 L265.8,506.92 L266.1,506.23 L266.4,506 L266.7,506.23 L267,506.92 L267.3,508.02 L267.6,509.48 L267.9,511.21 L268.2,513.12 L268.5,515.14 L268.8,517.17 L269.1,519.15 L269.4,521 L269.7,522.68 L270,524.17 L270.3,525.45 L270.6,526.52 L270.9,527.4 L271.2,528.11 L271.5,528.65 L271.8,529.07 L272.1,529.38 L272.4,529.61 L272.7,529.77 L273,529.88 L273.3,529.96 L273.6,530.01 L273.9,530.04 L274.2,530.07 L274.5,530.08 L274.8,530.08 L275.1,530.09 L275.4,530.08 L275.7,530.07 L276,530.06 L276.3,530.04 L276.6,530 L276.9,529.95 L277.2,529.87 L277.5,529.75 L277.8,529.58 L278.1,529.35 L278.4,529.04 L278.7,528.63 L279,528.1 L279.3,527.43 L279.6,526.61 L279.9,525.62 L280.2,524.46 L280.5,523.13 L280.8,521.66 L281.1,520.08 L281.4,518.43 L281.7,516.77 L282,515.16 L282.3,513.69 L282.6,512.42 L282.9,511.42 L283.2,510.74 L283.5,510.42 L283.8,510.48 L284.1,510.92 L284.4,511.7 L284.7,512.79 L285,514.12 L285.3,515.62 L285.6,517.21 L285.9,518.81 L286.2,520.35 L286.5,521.77 L286.8,523 L287.1,524.01 L287.4,524.76 L287.7,525.23 L288,525.39 L288.3,525.25 L288.6,524.8 L288.9,524.04 L289.2,522.99 L289.5,521.69 L289.8,520.16 L290.1,518.45 L290.4,516.64 L290.7,514.79 L291,512.99 L291.3,511.33 L291.6,509.89 L291.9,508.75 L292.2,507.98 L292.5,507.62 L292.8,507.7 L293.1,508.2 L293.4,509.1 L293.7,510.36 L294,511.9 L294.3,513.64 L294.6,515.5 L294.9,517.4 L295.2,519.27 L295.5,521.04 L295.8,522.67 L296.1,524.12 L296.4,525.38 L296.7,526.45 L297,527.33 L297.3,528.04 L297.6,528.59 L297.9,529.02 L298.2,529.34 L298.5,529.58 L298.8,529.75 L299.1,529.87 L299.4,529.95 L299.7,530 L300,530.04 L300.3,530.06 L300.6,530.07 L300.9,530.08 L301.2,530.08 L301.5,530.08 L301.8,530.06 L302.1,530.04 L302.4,530.01 L302.7,529.96 L303,529.89 L303.3,529.78 L303.6,529.62 L303.9,529.41 L304.2,529.11 L304.5,528.72 L304.8,528.21 L305.1,527.56 L305.4,526.76 L305.7,525.78 L306,524.62 L306.3,523.29 L306.6,521.81 L306.9,520.18 L307.2,518.48 L307.5,516.74 L307.8,515.03 L308.1,513.44 L308.4,512.03 L308.7,510.88 L309,510.05 L309.3,509.59 L309.6,509.52 L309.9,509.85 L310.2,510.56 L310.5,511.61 L310.8,512.94 L311.1,514.48 L311.4,516.16 L311.7,517.9 L312,519.62 L312.3,521.28 L312.6,522.82 L312.9,524.2 L313.2,525.41 L313.5,526.45 L313.8,527.31 L314.1,528.01 L314.4,528.57" stroke="#4b4ba2" stroke-width="0.95" fill="none" stroke-linejoin="round"/>
<path d="M101.1,530.1 L101.4,530.1 L101.7,530.1 L102,530.1 L102.3,530.1 L102.6,530.1 L102.9,530.1 L103.2,530.1 L103.5,530.1 L103.8,530.1 L104.1,530.1 L104.4,530.1 L104.7,530.1 L105,530.1 L105.3,530.1 L105.6,530.1 L105.9,530.1 L106.2,530.1 L106.5,530.1 L106.8,530.1 L107.1,530.1 L107.4,530.1 L107.7,530.1 L108,530.1 L108.3,530.1 L108.6,530.1 L108.9,530.1 L109.2,530.1 L109.5,530.1 L109.8,530.1 L110.1,530.1 L110.4,530.1 L110.7,530.1 L111,530.1 L111.3,530.1 L111.6,530.1 L111.9,530.1 L112.2,530.1 L112.5,530.1 L112.8,530.09 L113.1,530.09 L113.4,530.08 L113.7,530.07 L114,530.04 L114.3,530.01 L114.6,529.95 L114.9,529.87 L115.2,529.76 L115.5,529.59 L115.8,529.35 L116.1,529.03 L116.4,528.59 L116.7,528.02 L117,527.29 L117.3,526.38 L117.6,525.26 L117.9,523.92 L118.2,522.37 L118.5,520.62 L118.8,518.69 L119.1,516.64 L119.4,514.52 L119.7,512.42 L120,510.42 L120.3,508.62 L120.6,507.11 L120.9,505.96 L121.2,505.24 L121.5,505 L121.8,505.24 L122.1,505.96 L122.4,507.11 L122.7,508.62 L123,510.42 L123.3,512.42 L123.6,514.52 L123.9,516.64 L124.2,518.69 L124.5,520.62 L124.8,522.37 L125.1,523.92 L125.4,525.26 L125.7,526.38 L126,527.29 L126.3,528.02 L126.6,528.59 L126.9,529.03 L127.2,529.35 L127.5,529.59 L127.8,529.76 L128.1,529.87 L128.4,529.95 L128.7,530.01 L129,530.04 L129.3,530.07 L129.6,530.08 L129.9,530.09 L130.2,530.09 L130.5,530.1 L130.8,530.1 L131.1,530.1 L131.4,530.1 L131.7,530.1 L132,530.1 L132.3,530.1 L132.6,530.1 L132.9,530.1 L133.2,530.1 L133.5,530.1 L133.8,530.1 L134.1,530.1 L134.4,530.1 L134.7,530.1 L135,530.1 L135.3,530.1 L135.6,530.1 L135.9,530.1 L136.2,530.1 L136.5,530.1 L136.8,530.1 L137.1,530.1 L137.4,530.1 L137.7,530.1 L138,530.1 L138.3,530.09 L138.6,530.09 L138.9,530.08 L139.2,530.07 L139.5,530.04 L139.8,530.01 L140.1,529.96 L140.4,529.88 L140.7,529.77 L141,529.61 L141.3,529.38 L141.6,529.08 L141.9,528.67 L142.2,528.15 L142.5,527.48 L142.8,526.64 L143.1,525.63 L143.4,524.44 L143.7,523.06 L144,521.52 L144.3,519.85 L144.6,518.08 L144.9,516.28 L145.2,514.52 L145.5,512.87 L145.8,511.41 L146.1,510.22 L146.4,509.37 L146.7,508.89 L147,508.82 L147.3,509.17 L147.6,509.9 L147.9,510.98 L148.2,512.36 L148.5,513.95 L148.8,515.69 L149.1,517.48 L149.4,519.27 L149.7,520.98 L150,522.57 L150.3,524 L150.6,525.26 L150.9,526.33 L151.2,527.22 L151.5,527.94 L151.8,528.51 L152.1,528.96 L152.4,529.29 L152.7,529.54 L153,529.72 L153.3,529.85 L153.6,529.93 L153.9,529.99 L154.2,530.03 L154.5,530.06 L154.8,530.08 L155.1,530.09 L155.4,530.09 L155.7,530.1 L156,530.1 L156.3,530.1 L156.6,530.1 L156.9,530.1 L157.2,530.1 L157.5,530.1 L157.8,530.1 L158.1,530.1 L158.4,530.1 L158.7,530.1 L159,530.1 L159.3,530.1 L159.6,530.1 L159.9,530.1 L160.2,530.1 L160.5,530.1 L160.8,530.1 L161.1,530.1 L161.4,530.1 L161.7,530.1 L162,530.1 L162.3,530.1 L162.6,530.1 L162.9,530.1 L163.2,530.1 L163.5,530.1 L163.8,530.1 L164.1,530.1 L164.4,530.1 L164.7,530.1 L165,530.1 L165.3,530.1 L165.6,530.1 L165.9,530.1 L166.2,530.1 L166.5,530.1 L166.8,530.1 L167.1,530.1 L167.4,530.1 L167.7,530.1 L168,530.1 L168.3,530.1 L168.6,530.1 L168.9,530.1 L169.2,530.1 L169.5,530.1 L169.8,530.1 L170.1,530.1 L170.4,530.1 L170.7,530.1 L171,530.1 L171.3,530.1 L171.6,530.1 L171.9,530.1 L172.2,530.1 L172.5,530.1 L172.8,530.1 L173.1,530.1 L173.4,530.1 L173.7,530.1 L174,530.1 L174.3,530.1 L174.6,530.1 L174.9,530.1 L175.2,530.1 L175.5,530.1 L175.8,530.1 L176.1,530.1 L176.4,530.1 L176.7,530.1 L177,530.1 L177.3,530.1 L177.6,530.1 L177.9,530.1 L178.2,530.1 L178.5,530.1 L178.8,530.1 L179.1,530.1 L179.4,530.1 L179.7,530.1 L180,530.1 L180.3,530.1 L180.6,530.1 L180.9,530.1 L181.2,530.1 L181.5,530.1 L181.8,530.1 L182.1,530.1 L182.4,530.1 L182.7,530.1 L183,530.1 L183.3,530.1 L183.6,530.1 L183.9,530.1 L184.2,530.1 L184.5,530.1 L184.8,530.1 L185.1,530.1 L185.4,530.1 L185.7,530.1 L186,530.1 L186.3,530.1 L186.6,530.1 L186.9,530.1 L187.2,530.1 L187.5,530.1 L187.8,530.1 L188.1,530.1 L188.4,530.1 L188.7,530.1 L189,530.1 L189.3,530.1 L189.6,530.1 L189.9,530.1 L190.2,530.09 L190.5,530.09 L190.8,530.08 L191.1,530.06 L191.4,530.04 L191.7,530 L192,529.95 L192.3,529.87 L192.6,529.75 L192.9,529.57 L193.2,529.33 L193.5,528.99 L193.8,528.55 L194.1,527.96 L194.4,527.2 L194.7,526.26 L195,525.1 L195.3,523.72 L195.6,522.13 L195.9,520.32 L196.2,518.33 L196.5,516.21 L196.8,514.03 L197.1,511.86 L197.4,509.79 L197.7,507.94 L198,506.37 L198.3,505.19 L198.6,504.45 L198.9,504.2 L199.2,504.45 L199.5,505.19 L199.8,506.37 L200.1,507.94 L200.4,509.79 L200.7,511.86 L201,514.03 L201.3,516.21 L201.6,518.33 L201.9,520.32 L202.2,522.13 L202.5,523.72 L202.8,525.1 L203.1,526.26 L203.4,527.2 L203.7,527.96 L204,528.55 L204.3,528.99 L204.6,529.33 L204.9,529.57 L205.2,529.75 L205.5,529.87 L205.8,529.95 L206.1,530 L206.4,530.04 L206.7,530.06 L207,530.08 L207.3,530.09 L207.6,530.09 L207.9,530.1 L208.2,530.1 L208.5,530.1 L208.8,530.1 L209.1,530.1 L209.4,530.1 L209.7,530.1 L210,530.1 L210.3,530.1 L210.6,530.1 L210.9,530.1 L211.2,530.1 L211.5,530.1 L211.8,530.1 L212.1,530.1 L212.4,530.1 L212.7,530.1 L213,530.1 L213.3,530.1 L213.6,530.1 L213.9,530.1 L214.2,530.1 L214.5,530.1 L214.8,530.1 L215.1,530.1 L215.4,530.09 L215.7,530.09 L216,530.08 L216.3,530.07 L216.6,530.06 L216.9,530.03 L217.2,529.99 L217.5,529.93 L217.8,529.85 L218.1,529.72 L218.4,529.55 L218.7,529.31 L219,528.98 L219.3,528.56 L219.6,528.02 L219.9,527.34 L220.2,526.51 L220.5,525.52 L220.8,524.37 L221.1,523.07 L221.4,521.65 L221.7,520.12 L222,518.56 L222.3,517 L222.6,515.52 L222.9,514.18 L223.2,513.06 L223.5,512.21 L223.8,511.68 L224.1,511.5 L224.4,511.68 L224.7,512.21 L225,513.06 L225.3,514.18 L225.6,515.52 L225.9,517 L226.2,518.56 L226.5,520.12 L226.8,521.65 L227.1,523.07 L227.4,524.37 L227.7,525.52 L228,526.51 L228.3,527.34 L228.6,528.02 L228.9,528.56 L229.2,528.98 L229.5,529.31 L229.8,529.55 L230.1,529.72 L230.4,529.85 L230.7,529.93 L231,529.99 L231.3,530.03 L231.6,530.06 L231.9,530.07 L232.2,530.08 L232.5,530.09 L232.8,530.09 L233.1,530.1 L233.4,530.1 L233.7,530.1 L234,530.1 L234.3,530.1 L234.6,530.1 L234.9,530.1 L235.2,530.1 L235.5,530.1 L235.8,530.1 L236.1,530.1 L236.4,530.1 L236.7,530.1 L237,530.1 L237.3,530.1 L237.6,530.1 L237.9,530.1 L238.2,530.1 L238.5,530.1 L238.8,530.1 L239.1,530.1 L239.4,530.1 L239.7,530.1 L240,530.1 L240.3,530.1 L240.6,530.1 L240.9,530.1 L241.2,530.1 L241.5,530.1 L241.8,530.1 L242.1,530.1 L242.4,530.1 L242.7,530.1 L243,530.1 L243.3,530.1 L243.6,530.1 L243.9,530.1 L244.2,530.1 L244.5,530.1 L244.8,530.1 L245.1,530.1 L245.4,530.1 L245.7,530.1 L246,530.1 L246.3,530.1 L246.6,530.1 L246.9,530.1 L247.2,530.1 L247.5,530.1 L247.8,530.1 L248.1,530.1 L248.4,530.1 L248.7,530.1 L249,530.1 L249.3,530.09 L249.6,530.09 L249.9,530.08 L250.2,530.07 L250.5,530.05 L250.8,530.03 L251.1,529.98 L251.4,529.92 L251.7,529.82 L252,529.69 L252.3,529.5 L252.6,529.23 L252.9,528.88 L253.2,528.42 L253.5,527.83 L253.8,527.09 L254.1,526.18 L254.4,525.1 L254.7,523.85 L255,522.43 L255.3,520.87 L255.6,519.21 L255.9,517.5 L256.2,515.8 L256.5,514.19 L256.8,512.73 L257.1,511.5 L257.4,510.58 L257.7,510 L258,509.8 L258.3,510 L258.6,510.58 L258.9,511.5 L259.2,512.73 L259.5,514.19 L259.8,515.8 L260.1,517.5 L260.4,519.21 L260.7,520.87 L261,522.43 L261.3,523.85 L261.6,525.1 L261.9,526.18 L262.2,527.09 L262.5,527.83 L262.8,528.42 L263.1,528.88 L263.4,529.23 L263.7,529.5 L264,529.69 L264.3,529.82 L264.6,529.92 L264.9,529.98 L265.2,530.02 L265.5,530.05 L265.8,530.07 L266.1,530.08 L266.4,530.08 L266.7,530.08 L267,530.08 L267.3,530.07 L267.6,530.05 L267.9,530.02 L268.2,529.97 L268.5,529.9 L268.8,529.8 L269.1,529.66 L269.4,529.46 L269.7,529.18 L270,528.82 L270.3,528.35 L270.6,527.75 L270.9,527 L271.2,526.09 L271.5,525.02 L271.8,523.79 L272.1,522.41 L272.4,520.91 L272.7,519.32 L273,517.71 L273.3,516.13 L273.6,514.65 L273.9,513.34 L274.2,512.28 L274.5,511.51 L274.8,511.08 L275.1,511.02 L275.4,511.33 L275.7,511.99 L276,512.96 L276.3,514.19 L276.6,515.62 L276.9,517.17 L277.2,518.78 L277.5,520.39 L277.8,521.92 L278.1,523.35 L278.4,524.63 L278.7,525.76 L279,526.72 L279.3,527.52 L279.6,528.16 L279.9,528.68 L280.2,529.07 L280.5,529.38 L280.8,529.6 L281.1,529.76 L281.4,529.87 L281.7,529.95 L282,530 L282.3,530.04 L282.6,530.06 L282.9,530.08 L283.2,530.09 L283.5,530.09 L283.8,530.1 L284.1,530.1 L284.4,530.1 L284.7,530.1 L285,530.1 L285.3,530.1 L285.6,530.1 L285.9,530.1 L286.2,530.1 L286.5,530.1 L286.8,530.1 L287.1,530.1 L287.4,530.1 L287.7,530.1 L288,530.1 L288.3,530.1 L288.6,530.1 L288.9,530.1 L289.2,530.1 L289.5,530.1 L289.8,530.1 L290.1,530.1 L290.4,530.1 L290.7,530.1 L291,530.1 L291.3,530.1 L291.6,530.1 L291.9,530.1 L292.2,530.1 L292.5,530.1 L292.8,530.1 L293.1,530.1 L293.4,530.1 L293.7,530.1 L294,530.1 L294.3,530.1 L294.6,530.1 L294.9,530.1 L295.2,530.1 L295.5,530.1 L295.8,530.1 L296.1,530.1 L296.4,530.1 L296.7,530.1 L297,530.1 L297.3,530.1 L297.6,530.1 L297.9,530.1 L298.2,530.1 L298.5,530.1 L298.8,530.1 L299.1,530.1 L299.4,530.1 L299.7,530.1 L300,530.1 L300.3,530.1 L300.6,530.1 L300.9,530.1 L301.2,530.1 L301.5,530.1 L301.8,530.1 L302.1,530.1 L302.4,530.1 L302.7,530.1 L303,530.1 L303.3,530.1 L303.6,530.1 L303.9,530.1 L304.2,530.1 L304.5,530.1 L304.8,530.1 L305.1,530.1 L305.4,530.1 L305.7,530.1 L306,530.1 L306.3,530.1 L306.6,530.1 L306.9,530.1 L307.2,530.1 L307.5,530.1 L307.8,530.1 L308.1,530.1 L308.4,530.1 L308.7,530.1 L309,530.1 L309.3,530.1 L309.6,530.1 L309.9,530.1 L310.2,530.1 L310.5,530.1 L310.8,530.1 L311.1,530.1 L311.4,530.1 L311.7,530.1 L312,530.1 L312.3,530.1 L312.6,530.1 L312.9,530.1 L313.2,530.1 L313.5,530.1 L313.8,530.1 L314.1,530.1 L314.4,530.1" stroke="#d67a66" stroke-width="0.95" fill="none" stroke-linejoin="round"/>
<path d="M101.1,523.43 L101.4,521.81 L101.7,519.99 L102,518.02 L102.3,515.94 L102.6,513.82 L102.9,511.74 L103.2,509.8 L103.5,508.08 L103.8,506.68 L104.1,505.67 L104.4,505.11 L104.7,505.03 L105,505.43 L105.3,506.3 L105.6,507.57 L105.9,509.19 L106.2,511.07 L106.5,513.11 L106.8,515.23 L107.1,517.33 L107.4,519.35 L107.7,521.22 L108,522.91 L108.3,524.39 L108.6,525.65 L108.9,526.7 L109.2,527.56 L109.5,528.23 L109.8,528.75 L110.1,529.15 L110.4,529.44 L110.7,529.65 L111,529.8 L111.3,529.9 L111.6,529.97 L111.9,530.02 L112.2,530.05 L112.5,530.07 L112.8,530.08 L113.1,530.09 L113.4,530.09 L113.7,530.1 L114,530.1 L114.3,530.1 L114.6,530.1 L114.9,530.1 L115.2,530.1 L115.5,530.1 L115.8,530.1 L116.1,530.1 L116.4,530.1 L116.7,530.1 L117,530.1 L117.3,530.1 L117.6,530.1 L117.9,530.1 L118.2,530.1 L118.5,530.1 L118.8,530.1 L119.1,530.1 L119.4,530.1 L119.7,530.1 L120,530.1 L120.3,530.1 L120.6,530.1 L120.9,530.1 L121.2,530.1 L121.5,530.1 L121.8,530.1 L122.1,530.1 L122.4,530.1 L122.7,530.1 L123,530.1 L123.3,530.1 L123.6,530.1 L123.9,530.1 L124.2,530.1 L124.5,530.1 L124.8,530.1 L125.1,530.1 L125.4,530.1 L125.7,530.1 L126,530.1 L126.3,530.1 L126.6,530.1 L126.9,530.1 L127.2,530.1 L127.5,530.1 L127.8,530.1 L128.1,530.1 L128.4,530.1 L128.7,530.1 L129,530.1 L129.3,530.1 L129.6,530.1 L129.9,530.1 L130.2,530.1 L130.5,530.1 L130.8,530.1 L131.1,530.1 L131.4,530.1 L131.7,530.1 L132,530.1 L132.3,530.1 L132.6,530.1 L132.9,530.1 L133.2,530.1 L133.5,530.1 L133.8,530.1 L134.1,530.1 L134.4,530.1 L134.7,530.1 L135,530.1 L135.3,530.1 L135.6,530.1 L135.9,530.1 L136.2,530.1 L136.5,530.1 L136.8,530.1 L137.1,530.1 L137.4,530.1 L137.7,530.1 L138,530.1 L138.3,530.1 L138.6,530.1 L138.9,530.1 L139.2,530.1 L139.5,530.1 L139.8,530.1 L140.1,530.1 L140.4,530.1 L140.7,530.1 L141,530.1 L141.3,530.1 L141.6,530.1 L141.9,530.1 L142.2,530.1 L142.5,530.1 L142.8,530.1 L143.1,530.1 L143.4,530.1 L143.7,530.1 L144,530.1 L144.3,530.1 L144.6,530.1 L144.9,530.1 L145.2,530.1 L145.5,530.1 L145.8,530.1 L146.1,530.1 L146.4,530.1 L146.7,530.1 L147,530.1 L147.3,530.1 L147.6,530.1 L147.9,530.1 L148.2,530.1 L148.5,530.1 L148.8,530.1 L149.1,530.1 L149.4,530.1 L149.7,530.1 L150,530.1 L150.3,530.1 L150.6,530.1 L150.9,530.1 L151.2,530.1 L151.5,530.1 L151.8,530.1 L152.1,530.1 L152.4,530.1 L152.7,530.1 L153,530.1 L153.3,530.1 L153.6,530.1 L153.9,530.1 L154.2,530.1 L154.5,530.1 L154.8,530.1 L155.1,530.1 L155.4,530.1 L155.7,530.1 L156,530.1 L156.3,530.1 L156.6,530.1 L156.9,530.1 L157.2,530.1 L157.5,530.1 L157.8,530.1 L158.1,530.1 L158.4,530.1 L158.7,530.1 L159,530.1 L159.3,530.1 L159.6,530.1 L159.9,530.1 L160.2,530.1 L160.5,530.1 L160.8,530.1 L161.1,530.1 L161.4,530.1 L161.7,530.1 L162,530.1 L162.3,530.1 L162.6,530.1 L162.9,530.1 L163.2,530.1 L163.5,530.1 L163.8,530.1 L164.1,530.1 L164.4,530.1 L164.7,530.1 L165,530.1 L165.3,530.1 L165.6,530.1 L165.9,530.1 L166.2,530.1 L166.5,530.1 L166.8,530.1 L167.1,530.1 L167.4,530.1 L167.7,530.1 L168,530.1 L168.3,530.1 L168.6,530.1 L168.9,530.1 L169.2,530.1 L169.5,530.1 L169.8,530.1 L170.1,530.1 L170.4,530.1 L170.7,530.1 L171,530.1 L171.3,530.1 L171.6,530.1 L171.9,530.1 L172.2,530.1 L172.5,530.1 L172.8,530.1 L173.1,530.1 L173.4,530.1 L173.7,530.1 L174,530.1 L174.3,530.1 L174.6,530.1 L174.9,530.1 L175.2,530.1 L175.5,530.1 L175.8,530.1 L176.1,530.1 L176.4,530.1 L176.7,530.1 L177,530.1 L177.3,530.1 L177.6,530.1 L177.9,530.1 L178.2,530.1 L178.5,530.1 L178.8,530.1 L179.1,530.1 L179.4,530.1 L179.7,530.1 L180,530.1 L180.3,530.1 L180.6,530.1 L180.9,530.1 L181.2,530.1 L181.5,530.09 L181.8,530.09 L182.1,530.08 L182.4,530.07 L182.7,530.05 L183,530.03 L183.3,529.98 L183.6,529.92 L183.9,529.83 L184.2,529.71 L184.5,529.53 L184.8,529.3 L185.1,528.99 L185.4,528.59 L185.7,528.08 L186,527.46 L186.3,526.71 L186.6,525.83 L186.9,524.83 L187.2,523.72 L187.5,522.52 L187.8,521.27 L188.1,520.02 L188.4,518.8 L188.7,517.69 L189,516.73 L189.3,515.97 L189.6,515.46 L189.9,515.22 L190.2,515.26 L190.5,515.6 L190.8,516.2 L191.1,517.03 L191.4,518.05 L191.7,519.2 L192,520.43 L192.3,521.69 L192.6,522.93 L192.9,524.1 L193.2,525.18 L193.5,526.14 L193.8,526.97 L194.1,527.68 L194.4,528.26 L194.7,528.73 L195,529.1 L195.3,529.39 L195.6,529.6 L195.9,529.75 L196.2,529.87 L196.5,529.95 L196.8,530 L197.1,530.04 L197.4,530.06 L197.7,530.08 L198,530.09 L198.3,530.09 L198.6,530.1 L198.9,530.1 L199.2,530.1 L199.5,530.1 L199.8,530.1 L200.1,530.1 L200.4,530.1 L200.7,530.1 L201,530.1 L201.3,530.1 L201.6,530.1 L201.9,530.1 L202.2,530.1 L202.5,530.1 L202.8,530.1 L203.1,530.1 L203.4,530.1 L203.7,530.1 L204,530.1 L204.3,530.1 L204.6,530.1 L204.9,530.1 L205.2,530.1 L205.5,530.1 L205.8,530.1 L206.1,530.1 L206.4,530.1 L206.7,530.1 L207,530.1 L207.3,530.1 L207.6,530.1 L207.9,530.1 L208.2,530.1 L208.5,530.1 L208.8,530.1 L209.1,530.1 L209.4,530.1 L209.7,530.1 L210,530.1 L210.3,530.1 L210.6,530.1 L210.9,530.1 L211.2,530.1 L211.5,530.1 L211.8,530.1 L212.1,530.1 L212.4,530.1 L212.7,530.1 L213,530.1 L213.3,530.1 L213.6,530.1 L213.9,530.1 L214.2,530.1 L214.5,530.1 L214.8,530.1 L215.1,530.1 L215.4,530.1 L215.7,530.1 L216,530.1 L216.3,530.1 L216.6,530.1 L216.9,530.1 L217.2,530.1 L217.5,530.1 L217.8,530.1 L218.1,530.1 L218.4,530.1 L218.7,530.1 L219,530.1 L219.3,530.1 L219.6,530.1 L219.9,530.1 L220.2,530.1 L220.5,530.1 L220.8,530.1 L221.1,530.1 L221.4,530.1 L221.7,530.1 L222,530.1 L222.3,530.1 L222.6,530.1 L222.9,530.09 L223.2,530.09 L223.5,530.08 L223.8,530.07 L224.1,530.05 L224.4,530.01 L224.7,529.96 L225,529.88 L225.3,529.75 L225.6,529.57 L225.9,529.31 L226.2,528.95 L226.5,528.45 L226.8,527.78 L227.1,526.91 L227.4,525.78 L227.7,524.37 L228,522.65 L228.3,520.6 L228.6,518.21 L228.9,515.52 L229.2,512.56 L229.5,509.4 L229.8,506.14 L230.1,502.91 L230.4,499.84 L230.7,497.07 L231,494.74 L231.3,492.97 L231.6,491.87 L231.9,491.5 L232.2,491.87 L232.5,492.97 L232.8,494.72 L233.1,497.04 L233.4,499.8 L233.7,502.85 L234,506.04 L234.3,509.24 L234.6,512.32 L234.9,515.16 L235.2,517.69 L235.5,519.85 L235.8,521.6 L236.1,522.93 L236.4,523.82 L236.7,524.31 L237,524.41 L237.3,524.15 L237.6,523.56 L237.9,522.7 L238.2,521.62 L238.5,520.37 L238.8,519.02 L239.1,517.63 L239.4,516.29 L239.7,515.07 L240,514.04 L240.3,513.25 L240.6,512.76 L240.9,512.59 L241.2,512.77 L241.5,513.27 L241.8,514.07 L242.1,515.12 L242.4,516.38 L242.7,517.77 L243,519.24 L243.3,520.71 L243.6,522.15 L243.9,523.49 L244.2,524.71 L244.5,525.79 L244.8,526.72 L245.1,527.5 L245.4,528.14 L245.7,528.65 L246,529.05 L246.3,529.35 L246.6,529.58 L246.9,529.74 L247.2,529.86 L247.5,529.94 L247.8,530 L248.1,530.04 L248.4,530.06 L248.7,530.08 L249,530.09 L249.3,530.09 L249.6,530.1 L249.9,530.1 L250.2,530.1 L250.5,530.1 L250.8,530.1 L251.1,530.1 L251.4,530.1 L251.7,530.1 L252,530.1 L252.3,530.1 L252.6,530.1 L252.9,530.1 L253.2,530.1 L253.5,530.1 L253.8,530.1 L254.1,530.1 L254.4,530.1 L254.7,530.1 L255,530.1 L255.3,530.1 L255.6,530.1 L255.9,530.1 L256.2,530.1 L256.5,530.1 L256.8,530.1 L257.1,530.1 L257.4,530.1 L257.7,530.1 L258,530.1 L258.3,530.1 L258.6,530.1 L258.9,530.1 L259.2,530.1 L259.5,530.1 L259.8,530.1 L260.1,530.1 L260.4,530.1 L260.7,530.1 L261,530.1 L261.3,530.1 L261.6,530.1 L261.9,530.1 L262.2,530.1 L262.5,530.1 L262.8,530.1 L263.1,530.1 L263.4,530.1 L263.7,530.1 L264,530.1 L264.3,530.1 L264.6,530.1 L264.9,530.1 L265.2,530.1 L265.5,530.1 L265.8,530.1 L266.1,530.1 L266.4,530.1 L266.7,530.1 L267,530.1 L267.3,530.1 L267.6,530.1 L267.9,530.1 L268.2,530.1 L268.5,530.1 L268.8,530.1 L269.1,530.1 L269.4,530.1 L269.7,530.1 L270,530.1 L270.3,530.1 L270.6,530.1 L270.9,530.1 L271.2,530.1 L271.5,530.1 L271.8,530.1 L272.1,530.1 L272.4,530.1 L272.7,530.1 L273,530.1 L273.3,530.1 L273.6,530.1 L273.9,530.1 L274.2,530.1 L274.5,530.1 L274.8,530.1 L275.1,530.1 L275.4,530.1 L275.7,530.1 L276,530.1 L276.3,530.1 L276.6,530.1 L276.9,530.1 L277.2,530.1 L277.5,530.1 L277.8,530.1 L278.1,530.1 L278.4,530.1 L278.7,530.1 L279,530.1 L279.3,530.1 L279.6,530.1 L279.9,530.1 L280.2,530.1 L280.5,530.1 L280.8,530.1 L281.1,530.1 L281.4,530.1 L281.7,530.1 L282,530.1 L282.3,530.1 L282.6,530.1 L282.9,530.1 L283.2,530.1 L283.5,530.1 L283.8,530.1 L284.1,530.1 L284.4,530.1 L284.7,530.1 L285,530.1 L285.3,530.1 L285.6,530.1 L285.9,530.1 L286.2,530.1 L286.5,530.1 L286.8,530.1 L287.1,530.1 L287.4,530.1 L287.7,530.1 L288,530.1 L288.3,530.1 L288.6,530.1 L288.9,530.1 L289.2,530.1 L289.5,530.1 L289.8,530.1 L290.1,530.1 L290.4,530.1 L290.7,530.1 L291,530.1 L291.3,530.1 L291.6,530.1 L291.9,530.1 L292.2,530.09 L292.5,530.09 L292.8,530.08 L293.1,530.07 L293.4,530.06 L293.7,530.03 L294,529.99 L294.3,529.93 L294.6,529.85 L294.9,529.73 L295.2,529.56 L295.5,529.33 L295.8,529.02 L296.1,528.62 L296.4,528.12 L296.7,527.49 L297,526.72 L297.3,525.82 L297.6,524.78 L297.9,523.62 L298.2,522.35 L298.5,521.02 L298.8,519.65 L299.1,518.32 L299.4,517.08 L299.7,515.98 L300,515.08 L300.3,514.43 L300.6,514.07 L300.9,514.02 L301.2,514.28 L301.5,514.83 L301.8,515.65 L302.1,516.69 L302.4,517.89 L302.7,519.2 L303,520.56 L303.3,521.91 L303.6,523.21 L303.9,524.41 L304.2,525.49 L304.5,526.44 L304.8,527.25 L305.1,527.92 L305.4,528.47 L305.7,528.9 L306,529.24 L306.3,529.49 L306.6,529.68 L306.9,529.81 L307.2,529.91 L307.5,529.97 L307.8,530.02 L308.1,530.05 L308.4,530.07 L308.7,530.08 L309,530.09 L309.3,530.09 L309.6,530.1 L309.9,530.1 L310.2,530.1 L310.5,530.1 L310.8,530.1 L311.1,530.1 L311.4,530.1 L311.7,530.1 L312,530.1 L312.3,530.1 L312.6,530.1 L312.9,530.1 L313.2,530.1 L313.5,530.1 L313.8,530.1 L314.1,530.1 L314.4,530.1" stroke="#3a3a3a" stroke-width="0.95" fill="none" stroke-linejoin="round"/>
<line x1="100.6" y1="597.7" x2="315" y2="597.7" stroke="#8a7a9a" stroke-width="0.8" />
<path d="M101.1,597.7 L101.4,597.7 L101.7,597.7 L102,597.7 L102.3,597.7 L102.6,597.7 L102.9,597.7 L103.2,597.7 L103.5,597.7 L103.8,597.7 L104.1,597.7 L104.4,597.7 L104.7,597.7 L105,597.7 L105.3,597.7 L105.6,597.7 L105.9,597.7 L106.2,597.7 L106.5,597.7 L106.8,597.7 L107.1,597.7 L107.4,597.7 L107.7,597.7 L108,597.7 L108.3,597.7 L108.6,597.7 L108.9,597.7 L109.2,597.7 L109.5,597.7 L109.8,597.7 L110.1,597.7 L110.4,597.7 L110.7,597.7 L111,597.7 L111.3,597.7 L111.6,597.7 L111.9,597.7 L112.2,597.7 L112.5,597.7 L112.8,597.7 L113.1,597.7 L113.4,597.7 L113.7,597.7 L114,597.7 L114.3,597.7 L114.6,597.7 L114.9,597.7 L115.2,597.7 L115.5,597.7 L115.8,597.7 L116.1,597.7 L116.4,597.7 L116.7,597.7 L117,597.7 L117.3,597.7 L117.6,597.7 L117.9,597.7 L118.2,597.7 L118.5,597.7 L118.8,597.7 L119.1,597.7 L119.4,597.7 L119.7,597.7 L120,597.7 L120.3,597.7 L120.6,597.7 L120.9,597.7 L121.2,597.7 L121.5,597.7 L121.8,597.7 L122.1,597.7 L122.4,597.7 L122.7,597.7 L123,597.7 L123.3,597.7 L123.6,597.7 L123.9,597.7 L124.2,597.7 L124.5,597.7 L124.8,597.7 L125.1,597.7 L125.4,597.7 L125.7,597.7 L126,597.7 L126.3,597.7 L126.6,597.7 L126.9,597.7 L127.2,597.7 L127.5,597.7 L127.8,597.7 L128.1,597.7 L128.4,597.7 L128.7,597.7 L129,597.7 L129.3,597.7 L129.6,597.7 L129.9,597.7 L130.2,597.7 L130.5,597.7 L130.8,597.7 L131.1,597.7 L131.4,597.7 L131.7,597.7 L132,597.7 L132.3,597.7 L132.6,597.7 L132.9,597.7 L133.2,597.7 L133.5,597.7 L133.8,597.7 L134.1,597.7 L134.4,597.7 L134.7,597.7 L135,597.7 L135.3,597.7 L135.6,597.7 L135.9,597.7 L136.2,597.7 L136.5,597.7 L136.8,597.7 L137.1,597.7 L137.4,597.7 L137.7,597.7 L138,597.7 L138.3,597.7 L138.6,597.7 L138.9,597.7 L139.2,597.7 L139.5,597.7 L139.8,597.7 L140.1,597.7 L140.4,597.7 L140.7,597.7 L141,597.7 L141.3,597.7 L141.6,597.7 L141.9,597.7 L142.2,597.7 L142.5,597.7 L142.8,597.7 L143.1,597.7 L143.4,597.7 L143.7,597.7 L144,597.7 L144.3,597.7 L144.6,597.7 L144.9,597.7 L145.2,597.7 L145.5,597.7 L145.8,597.7 L146.1,597.7 L146.4,597.7 L146.7,597.7 L147,597.7 L147.3,597.7 L147.6,597.7 L147.9,597.7 L148.2,597.7 L148.5,597.7 L148.8,597.7 L149.1,597.7 L149.4,597.7 L149.7,597.7 L150,597.7 L150.3,597.7 L150.6,597.7 L150.9,597.7 L151.2,597.7 L151.5,597.7 L151.8,597.7 L152.1,597.7 L152.4,597.7 L152.7,597.7 L153,597.7 L153.3,597.7 L153.6,597.7 L153.9,597.7 L154.2,597.7 L154.5,597.7 L154.8,597.7 L155.1,597.7 L155.4,597.7 L155.7,597.7 L156,597.7 L156.3,597.7 L156.6,597.7 L156.9,597.7 L157.2,597.7 L157.5,597.7 L157.8,597.7 L158.1,597.7 L158.4,597.7 L158.7,597.7 L159,597.7 L159.3,597.7 L159.6,597.7 L159.9,597.7 L160.2,597.7 L160.5,597.7 L160.8,597.7 L161.1,597.7 L161.4,597.7 L161.7,597.7 L162,597.7 L162.3,597.7 L162.6,597.7 L162.9,597.7 L163.2,597.7 L163.5,597.7 L163.8,597.69 L164.1,597.69 L164.4,597.68 L164.7,597.67 L165,597.66 L165.3,597.63 L165.6,597.59 L165.9,597.53 L166.2,597.45 L166.5,597.33 L166.8,597.17 L167.1,596.95 L167.4,596.66 L167.7,596.29 L168,595.82 L168.3,595.24 L168.6,594.54 L168.9,593.72 L169.2,592.78 L169.5,591.75 L169.8,590.63 L170.1,589.47 L170.4,588.29 L170.7,587.16 L171,586.12 L171.3,585.22 L171.6,584.52 L171.9,584.04 L172.2,583.81 L172.5,583.85 L172.8,584.16 L173.1,584.71 L173.4,585.47 L173.7,586.39 L174,587.44 L174.3,588.54 L174.6,589.64 L174.9,590.69 L175.2,591.65 L175.5,592.47 L175.8,593.13 L176.1,593.6 L176.4,593.87 L176.7,593.94 L177,593.82 L177.3,593.51 L177.6,593.03 L177.9,592.41 L178.2,591.69 L178.5,590.9 L178.8,590.09 L179.1,589.3 L179.4,588.57 L179.7,587.95 L180,587.48 L180.3,587.19 L180.6,587.09 L180.9,587.2 L181.2,587.5 L181.5,587.99 L181.8,588.63 L182.1,589.39 L182.4,590.23 L182.7,591.12 L183,592.02 L183.3,592.88 L183.6,593.7 L183.9,594.44 L184.2,595.09 L184.5,595.65 L184.8,596.13 L185.1,596.51 L185.4,596.82 L185.7,597.06 L186,597.25 L186.3,597.38 L186.6,597.48 L186.9,597.56 L187.2,597.6 L187.5,597.64 L187.8,597.66 L188.1,597.68 L188.4,597.69 L188.7,597.69 L189,597.69 L189.3,597.7 L189.6,597.7 L189.9,597.7 L190.2,597.7 L190.5,597.7 L190.8,597.7 L191.1,597.7 L191.4,597.7 L191.7,597.7 L192,597.7 L192.3,597.7 L192.6,597.7 L192.9,597.7 L193.2,597.7 L193.5,597.7 L193.8,597.7 L194.1,597.7 L194.4,597.7 L194.7,597.7 L195,597.7 L195.3,597.7 L195.6,597.7 L195.9,597.7 L196.2,597.7 L196.5,597.7 L196.8,597.7 L197.1,597.7 L197.4,597.7 L197.7,597.7 L198,597.7 L198.3,597.69 L198.6,597.69 L198.9,597.68 L199.2,597.67 L199.5,597.65 L199.8,597.62 L200.1,597.57 L200.4,597.51 L200.7,597.42 L201,597.29 L201.3,597.12 L201.6,596.9 L201.9,596.61 L202.2,596.24 L202.5,595.79 L202.8,595.24 L203.1,594.61 L203.4,593.88 L203.7,593.07 L204,592.21 L204.3,591.3 L204.6,590.39 L204.9,589.51 L205.2,588.7 L205.5,588.01 L205.8,587.46 L206.1,587.09 L206.4,586.91 L206.7,586.95 L207,587.19 L207.3,587.62 L207.6,588.22 L207.9,588.96 L208.2,589.8 L208.5,590.69 L208.8,591.61 L209.1,592.5 L209.4,593.35 L209.7,594.13 L210,594.83 L210.3,595.43 L210.6,595.95 L210.9,596.37 L211.2,596.71 L211.5,596.98 L211.8,597.18 L212.1,597.34 L212.4,597.45 L212.7,597.53 L213,597.59 L213.3,597.63 L213.6,597.65 L213.9,597.67 L214.2,597.68 L214.5,597.69 L214.8,597.69 L215.1,597.7 L215.4,597.7 L215.7,597.7 L216,597.7 L216.3,597.7 L216.6,597.7 L216.9,597.7 L217.2,597.7 L217.5,597.7 L217.8,597.7 L218.1,597.7 L218.4,597.7 L218.7,597.7 L219,597.7 L219.3,597.7 L219.6,597.7 L219.9,597.7 L220.2,597.7 L220.5,597.7 L220.8,597.7 L221.1,597.7 L221.4,597.7 L221.7,597.7 L222,597.7 L222.3,597.7 L222.6,597.7 L222.9,597.7 L223.2,597.7 L223.5,597.7 L223.8,597.7 L224.1,597.7 L224.4,597.7 L224.7,597.7 L225,597.7 L225.3,597.7 L225.6,597.7 L225.9,597.7 L226.2,597.7 L226.5,597.7 L226.8,597.7 L227.1,597.7 L227.4,597.7 L227.7,597.7 L228,597.7 L228.3,597.7 L228.6,597.7 L228.9,597.7 L229.2,597.7 L229.5,597.7 L229.8,597.7 L230.1,597.7 L230.4,597.7 L230.7,597.7 L231,597.7 L231.3,597.7 L231.6,597.7 L231.9,597.7 L232.2,597.7 L232.5,597.7 L232.8,597.7 L233.1,597.7 L233.4,597.7 L233.7,597.7 L234,597.7 L234.3,597.7 L234.6,597.7 L234.9,597.7 L235.2,597.7 L235.5,597.7 L235.8,597.7 L236.1,597.7 L236.4,597.7 L236.7,597.7 L237,597.7 L237.3,597.7 L237.6,597.7 L237.9,597.7 L238.2,597.7 L238.5,597.7 L238.8,597.7 L239.1,597.7 L239.4,597.7 L239.7,597.7 L240,597.7 L240.3,597.7 L240.6,597.7 L240.9,597.7 L241.2,597.7 L241.5,597.7 L241.8,597.69 L242.1,597.69 L242.4,597.68 L242.7,597.66 L243,597.64 L243.3,597.6 L243.6,597.55 L243.9,597.48 L244.2,597.38 L244.5,597.23 L244.8,597.04 L245.1,596.78 L245.4,596.45 L245.7,596.04 L246,595.52 L246.3,594.9 L246.6,594.18 L246.9,593.35 L247.2,592.43 L247.5,591.44 L247.8,590.41 L248.1,589.38 L248.4,588.38 L248.7,587.45 L249,586.66 L249.3,586.03 L249.6,585.61 L249.9,585.41 L250.2,585.45 L250.5,585.73 L250.8,586.22 L251.1,586.91 L251.4,587.75 L251.7,588.7 L252,589.72 L252.3,590.76 L252.6,591.78 L252.9,592.75 L253.2,593.64 L253.5,594.43 L253.8,595.12 L254.1,595.7 L254.4,596.18 L254.7,596.57 L255,596.88 L255.3,597.11 L255.6,597.29 L255.9,597.42 L256.2,597.51 L256.5,597.57 L256.8,597.62 L257.1,597.65 L257.4,597.67 L257.7,597.68 L258,597.69 L258.3,597.69 L258.6,597.7 L258.9,597.7 L259.2,597.7 L259.5,597.7 L259.8,597.7 L260.1,597.7 L260.4,597.7 L260.7,597.7 L261,597.7 L261.3,597.7 L261.6,597.7 L261.9,597.7 L262.2,597.7 L262.5,597.7 L262.8,597.7 L263.1,597.7 L263.4,597.7 L263.7,597.7 L264,597.7 L264.3,597.7 L264.6,597.7 L264.9,597.7 L265.2,597.7 L265.5,597.7 L265.8,597.7 L266.1,597.7 L266.4,597.7 L266.7,597.7 L267,597.7 L267.3,597.7 L267.6,597.7 L267.9,597.7 L268.2,597.7 L268.5,597.7 L268.8,597.7 L269.1,597.7 L269.4,597.7 L269.7,597.7 L270,597.7 L270.3,597.7 L270.6,597.7 L270.9,597.7 L271.2,597.7 L271.5,597.7 L271.8,597.7 L272.1,597.7 L272.4,597.7 L272.7,597.7 L273,597.7 L273.3,597.7 L273.6,597.7 L273.9,597.7 L274.2,597.7 L274.5,597.7 L274.8,597.7 L275.1,597.7 L275.4,597.7 L275.7,597.7 L276,597.7 L276.3,597.7 L276.6,597.7 L276.9,597.7 L277.2,597.7 L277.5,597.7 L277.8,597.7 L278.1,597.7 L278.4,597.7 L278.7,597.7 L279,597.7 L279.3,597.7 L279.6,597.7 L279.9,597.7 L280.2,597.7 L280.5,597.7 L280.8,597.7 L281.1,597.7 L281.4,597.7 L281.7,597.7 L282,597.7 L282.3,597.7 L282.6,597.7 L282.9,597.7 L283.2,597.7 L283.5,597.7 L283.8,597.7 L284.1,597.7 L284.4,597.7 L284.7,597.7 L285,597.7 L285.3,597.7 L285.6,597.7 L285.9,597.7 L286.2,597.7 L286.5,597.7 L286.8,597.7 L287.1,597.7 L287.4,597.7 L287.7,597.7 L288,597.7 L288.3,597.7 L288.6,597.7 L288.9,597.7 L289.2,597.7 L289.5,597.7 L289.8,597.7 L290.1,597.7 L290.4,597.7 L290.7,597.7 L291,597.7 L291.3,597.7 L291.6,597.7 L291.9,597.7 L292.2,597.7 L292.5,597.7 L292.8,597.7 L293.1,597.7 L293.4,597.7 L293.7,597.7 L294,597.7 L294.3,597.7 L294.6,597.7 L294.9,597.7 L295.2,597.7 L295.5,597.7 L295.8,597.7 L296.1,597.7 L296.4,597.7 L296.7,597.7 L297,597.7 L297.3,597.7 L297.6,597.7 L297.9,597.7 L298.2,597.7 L298.5,597.7 L298.8,597.7 L299.1,597.7 L299.4,597.7 L299.7,597.7 L300,597.7 L300.3,597.7 L300.6,597.7 L300.9,597.7 L301.2,597.7 L301.5,597.7 L301.8,597.7 L302.1,597.7 L302.4,597.7 L302.7,597.7 L303,597.7 L303.3,597.7 L303.6,597.7 L303.9,597.7 L304.2,597.7 L304.5,597.7 L304.8,597.7 L305.1,597.7 L305.4,597.7 L305.7,597.7 L306,597.7 L306.3,597.7 L306.6,597.7 L306.9,597.7 L307.2,597.7 L307.5,597.7 L307.8,597.7 L308.1,597.7 L308.4,597.7 L308.7,597.7 L309,597.7 L309.3,597.7 L309.6,597.7 L309.9,597.7 L310.2,597.7 L310.5,597.7 L310.8,597.7 L311.1,597.7 L311.4,597.7 L311.7,597.7 L312,597.7 L312.3,597.7 L312.6,597.7 L312.9,597.7 L313.2,597.7 L313.5,597.7 L313.8,597.7 L314.1,597.7 L314.4,597.7" stroke="#4aa266" stroke-width="0.95" fill="none" stroke-linejoin="round"/>
<path d="M101.1,597.7 L101.4,597.7 L101.7,597.7 L102,597.7 L102.3,597.7 L102.6,597.7 L102.9,597.7 L103.2,597.7 L103.5,597.7 L103.8,597.7 L104.1,597.7 L104.4,597.7 L104.7,597.69 L105,597.69 L105.3,597.68 L105.6,597.67 L105.9,597.65 L106.2,597.63 L106.5,597.6 L106.8,597.54 L107.1,597.47 L107.4,597.38 L107.7,597.25 L108,597.09 L108.3,596.87 L108.6,596.61 L108.9,596.29 L109.2,595.92 L109.5,595.49 L109.8,595 L110.1,594.48 L110.4,593.92 L110.7,593.35 L111,592.8 L111.3,592.28 L111.6,591.82 L111.9,591.45 L112.2,591.18 L112.5,591.03 L112.8,591.01 L113.1,591.11 L113.4,591.35 L113.7,591.69 L114,592.12 L114.3,592.62 L114.6,593.17 L114.9,593.73 L115.2,594.29 L115.5,594.83 L115.8,595.33 L116.1,595.78 L116.4,596.18 L116.7,596.51 L117,596.79 L117.3,597.02 L117.6,597.2 L117.9,597.34 L118.2,597.45 L118.5,597.52 L118.8,597.58 L119.1,597.62 L119.4,597.65 L119.7,597.67 L120,597.68 L120.3,597.69 L120.6,597.69 L120.9,597.69 L121.2,597.69 L121.5,597.69 L121.8,597.68 L122.1,597.66 L122.4,597.64 L122.7,597.61 L123,597.56 L123.3,597.49 L123.6,597.38 L123.9,597.23 L124.2,597.03 L124.5,596.76 L124.8,596.4 L125.1,595.94 L125.4,595.37 L125.7,594.67 L126,593.84 L126.3,592.87 L126.6,591.77 L126.9,590.56 L127.2,589.28 L127.5,587.96 L127.8,586.64 L128.1,585.39 L128.4,584.26 L128.7,583.32 L129,582.6 L129.3,582.15 L129.6,582 L129.9,582.15 L130.2,582.59 L130.5,583.3 L130.8,584.24 L131.1,585.36 L131.4,586.59 L131.7,587.88 L132,589.16 L132.3,590.39 L132.6,591.51 L132.9,592.49 L133.2,593.31 L133.5,593.95 L133.8,594.4 L134.1,594.65 L134.4,594.72 L134.7,594.62 L135,594.35 L135.3,593.95 L135.6,593.43 L135.9,592.82 L136.2,592.16 L136.5,591.48 L136.8,590.82 L137.1,590.22 L137.4,589.71 L137.7,589.32 L138,589.08 L138.3,589 L138.6,589.08 L138.9,589.33 L139.2,589.73 L139.5,590.25 L139.8,590.88 L140.1,591.57 L140.4,592.3 L140.7,593.03 L141,593.75 L141.3,594.41 L141.6,595.02 L141.9,595.56 L142.2,596.02 L142.5,596.41 L142.8,596.73 L143.1,596.98 L143.4,597.18 L143.7,597.33 L144,597.44 L144.3,597.52 L144.6,597.58 L144.9,597.62 L145.2,597.65 L145.5,597.67 L145.8,597.68 L146.1,597.68 L146.4,597.69 L146.7,597.69 L147,597.68 L147.3,597.67 L147.6,597.66 L147.9,597.64 L148.2,597.6 L148.5,597.56 L148.8,597.49 L149.1,597.39 L149.4,597.27 L149.7,597.1 L150,596.88 L150.3,596.6 L150.6,596.26 L150.9,595.86 L151.2,595.38 L151.5,594.84 L151.8,594.23 L152.1,593.58 L152.4,592.9 L152.7,592.22 L153,591.56 L153.3,590.95 L153.6,590.43 L153.9,590.02 L154.2,589.74 L154.5,589.6 L154.8,589.63 L155.1,589.8 L155.4,590.12 L155.7,590.56 L156,591.09 L156.3,591.68 L156.6,592.29 L156.9,592.89 L157.2,593.45 L157.5,593.92 L157.8,594.28 L158.1,594.49 L158.4,594.53 L158.7,594.39 L159,594.04 L159.3,593.47 L159.6,592.68 L159.9,591.67 L160.2,590.46 L160.5,589.08 L160.8,587.55 L161.1,585.95 L161.4,584.31 L161.7,582.73 L162,581.27 L162.3,580.01 L162.6,579.01 L162.9,578.33 L163.2,578.02 L163.5,578.08 L163.8,578.52 L164.1,579.32 L164.4,580.42 L164.7,581.76 L165,583.29 L165.3,584.92 L165.6,586.58 L165.9,588.22 L166.2,589.77 L166.5,591.19 L166.8,592.46 L167.1,593.57 L167.4,594.5 L167.7,595.27 L168,595.89 L168.3,596.38 L168.6,596.76 L168.9,597.04 L169.2,597.24 L169.5,597.39 L169.8,597.5 L170.1,597.57 L170.4,597.62 L170.7,597.65 L171,597.67 L171.3,597.68 L171.6,597.69 L171.9,597.69 L172.2,597.7 L172.5,597.7 L172.8,597.7 L173.1,597.7 L173.4,597.7 L173.7,597.7 L174,597.7 L174.3,597.7 L174.6,597.7 L174.9,597.7 L175.2,597.7 L175.5,597.7 L175.8,597.7 L176.1,597.7 L176.4,597.7 L176.7,597.7 L177,597.7 L177.3,597.7 L177.6,597.7 L177.9,597.7 L178.2,597.7 L178.5,597.7 L178.8,597.7 L179.1,597.7 L179.4,597.7 L179.7,597.7 L180,597.7 L180.3,597.7 L180.6,597.7 L180.9,597.7 L181.2,597.7 L181.5,597.7 L181.8,597.7 L182.1,597.7 L182.4,597.7 L182.7,597.7 L183,597.7 L183.3,597.7 L183.6,597.7 L183.9,597.7 L184.2,597.7 L184.5,597.7 L184.8,597.7 L185.1,597.7 L185.4,597.7 L185.7,597.7 L186,597.7 L186.3,597.7 L186.6,597.7 L186.9,597.7 L187.2,597.7 L187.5,597.7 L187.8,597.7 L188.1,597.7 L188.4,597.7 L188.7,597.7 L189,597.7 L189.3,597.7 L189.6,597.7 L189.9,597.7 L190.2,597.7 L190.5,597.7 L190.8,597.7 L191.1,597.7 L191.4,597.7 L191.7,597.7 L192,597.7 L192.3,597.7 L192.6,597.7 L192.9,597.7 L193.2,597.7 L193.5,597.7 L193.8,597.7 L194.1,597.7 L194.4,597.7 L194.7,597.7 L195,597.7 L195.3,597.7 L195.6,597.7 L195.9,597.7 L196.2,597.7 L196.5,597.7 L196.8,597.7 L197.1,597.7 L197.4,597.7 L197.7,597.7 L198,597.7 L198.3,597.7 L198.6,597.7 L198.9,597.7 L199.2,597.7 L199.5,597.7 L199.8,597.7 L200.1,597.7 L200.4,597.7 L200.7,597.7 L201,597.7 L201.3,597.7 L201.6,597.7 L201.9,597.7 L202.2,597.7 L202.5,597.7 L202.8,597.7 L203.1,597.7 L203.4,597.7 L203.7,597.7 L204,597.7 L204.3,597.7 L204.6,597.7 L204.9,597.7 L205.2,597.7 L205.5,597.7 L205.8,597.7 L206.1,597.7 L206.4,597.7 L206.7,597.7 L207,597.69 L207.3,597.69 L207.6,597.68 L207.9,597.67 L208.2,597.66 L208.5,597.64 L208.8,597.6 L209.1,597.55 L209.4,597.49 L209.7,597.39 L210,597.27 L210.3,597.1 L210.6,596.89 L210.9,596.63 L211.2,596.31 L211.5,595.93 L211.8,595.48 L212.1,594.98 L212.4,594.43 L212.7,593.84 L213,593.23 L213.3,592.63 L213.6,592.06 L213.9,591.54 L214.2,591.1 L214.5,590.77 L214.8,590.57 L215.1,590.5 L215.4,590.57 L215.7,590.77 L216,591.1 L216.3,591.54 L216.6,592.06 L216.9,592.63 L217.2,593.23 L217.5,593.84 L217.8,594.43 L218.1,594.98 L218.4,595.48 L218.7,595.93 L219,596.31 L219.3,596.63 L219.6,596.89 L219.9,597.1 L220.2,597.27 L220.5,597.39 L220.8,597.49 L221.1,597.55 L221.4,597.6 L221.7,597.64 L222,597.66 L222.3,597.67 L222.6,597.68 L222.9,597.69 L223.2,597.69 L223.5,597.7 L223.8,597.7 L224.1,597.7 L224.4,597.7 L224.7,597.7 L225,597.7 L225.3,597.7 L225.6,597.7 L225.9,597.7 L226.2,597.7 L226.5,597.7 L226.8,597.7 L227.1,597.7 L227.4,597.7 L227.7,597.7 L228,597.7 L228.3,597.7 L228.6,597.7 L228.9,597.7 L229.2,597.7 L229.5,597.7 L229.8,597.7 L230.1,597.7 L230.4,597.7 L230.7,597.7 L231,597.7 L231.3,597.7 L231.6,597.7 L231.9,597.7 L232.2,597.7 L232.5,597.7 L232.8,597.7 L233.1,597.7 L233.4,597.7 L233.7,597.7 L234,597.7 L234.3,597.7 L234.6,597.7 L234.9,597.7 L235.2,597.7 L235.5,597.7 L235.8,597.7 L236.1,597.7 L236.4,597.7 L236.7,597.7 L237,597.7 L237.3,597.7 L237.6,597.7 L237.9,597.7 L238.2,597.7 L238.5,597.7 L238.8,597.7 L239.1,597.7 L239.4,597.7 L239.7,597.7 L240,597.7 L240.3,597.7 L240.6,597.7 L240.9,597.7 L241.2,597.7 L241.5,597.7 L241.8,597.7 L242.1,597.7 L242.4,597.7 L242.7,597.7 L243,597.7 L243.3,597.7 L243.6,597.7 L243.9,597.7 L244.2,597.7 L244.5,597.7 L244.8,597.7 L245.1,597.7 L245.4,597.7 L245.7,597.7 L246,597.7 L246.3,597.7 L246.6,597.7 L246.9,597.7 L247.2,597.7 L247.5,597.7 L247.8,597.7 L248.1,597.7 L248.4,597.7 L248.7,597.7 L249,597.7 L249.3,597.7 L249.6,597.7 L249.9,597.7 L250.2,597.7 L250.5,597.7 L250.8,597.7 L251.1,597.7 L251.4,597.7 L251.7,597.7 L252,597.7 L252.3,597.7 L252.6,597.7 L252.9,597.7 L253.2,597.7 L253.5,597.7 L253.8,597.7 L254.1,597.7 L254.4,597.7 L254.7,597.7 L255,597.7 L255.3,597.7 L255.6,597.7 L255.9,597.7 L256.2,597.7 L256.5,597.7 L256.8,597.7 L257.1,597.7 L257.4,597.7 L257.7,597.7 L258,597.69 L258.3,597.69 L258.6,597.68 L258.9,597.67 L259.2,597.66 L259.5,597.64 L259.8,597.6 L260.1,597.55 L260.4,597.48 L260.7,597.39 L261,597.26 L261.3,597.09 L261.6,596.87 L261.9,596.59 L262.2,596.25 L262.5,595.83 L262.8,595.35 L263.1,594.8 L263.4,594.19 L263.7,593.53 L264,592.84 L264.3,592.15 L264.6,591.48 L264.9,590.87 L265.2,590.34 L265.5,589.92 L265.8,589.64 L266.1,589.51 L266.4,589.54 L266.7,589.72 L267,590.05 L267.3,590.51 L267.6,591.07 L267.9,591.7 L268.2,592.38 L268.5,593.07 L268.8,593.75 L269.1,594.4 L269.4,594.99 L269.7,595.52 L270,595.98 L270.3,596.37 L270.6,596.69 L270.9,596.95 L271.2,597.15 L271.5,597.31 L271.8,597.42 L272.1,597.51 L272.4,597.57 L272.7,597.62 L273,597.64 L273.3,597.66 L273.6,597.68 L273.9,597.69 L274.2,597.69 L274.5,597.69 L274.8,597.7 L275.1,597.69 L275.4,597.69 L275.7,597.69 L276,597.68 L276.3,597.67 L276.6,597.65 L276.9,597.63 L277.2,597.59 L277.5,597.54 L277.8,597.46 L278.1,597.35 L278.4,597.21 L278.7,597.01 L279,596.77 L279.3,596.45 L279.6,596.07 L279.9,595.61 L280.2,595.07 L280.5,594.45 L280.8,593.76 L281.1,593.02 L281.4,592.25 L281.7,591.47 L282,590.73 L282.3,590.04 L282.6,589.44 L282.9,588.97 L283.2,588.66 L283.5,588.51 L283.8,588.54 L284.1,588.74 L284.4,589.11 L284.7,589.61 L285,590.23 L285.3,590.93 L285.6,591.67 L285.9,592.41 L286.2,593.13 L286.5,593.78 L286.8,594.35 L287.1,594.81 L287.4,595.15 L287.7,595.36 L288,595.43 L288.3,595.36 L288.6,595.15 L288.9,594.81 L289.2,594.35 L289.5,593.78 L289.8,593.13 L290.1,592.41 L290.4,591.67 L290.7,590.93 L291,590.23 L291.3,589.61 L291.6,589.11 L291.9,588.74 L292.2,588.54 L292.5,588.51 L292.8,588.66 L293.1,588.97 L293.4,589.44 L293.7,590.04 L294,590.73 L294.3,591.47 L294.6,592.25 L294.9,593.02 L295.2,593.76 L295.5,594.45 L295.8,595.07 L296.1,595.61 L296.4,596.07 L296.7,596.45 L297,596.77 L297.3,597.01 L297.6,597.21 L297.9,597.35 L298.2,597.46 L298.5,597.54 L298.8,597.59 L299.1,597.63 L299.4,597.65 L299.7,597.67 L300,597.68 L300.3,597.69 L300.6,597.69 L300.9,597.69 L301.2,597.69 L301.5,597.68 L301.8,597.67 L302.1,597.64 L302.4,597.61 L302.7,597.56 L303,597.49 L303.3,597.38 L303.6,597.22 L303.9,597 L304.2,596.71 L304.5,596.31 L304.8,595.8 L305.1,595.15 L305.4,594.34 L305.7,593.36 L306,592.2 L306.3,590.86 L306.6,589.37 L306.9,587.74 L307.2,586.02 L307.5,584.27 L307.8,582.56 L308.1,580.95 L308.4,579.54 L308.7,578.38 L309,577.55 L309.3,577.09 L309.6,577.02 L309.9,577.36 L310.2,578.07 L310.5,579.12 L310.8,580.46 L311.1,582.01 L311.4,583.69 L311.7,585.44 L312,587.17 L312.3,588.84 L312.6,590.38 L312.9,591.77 L313.2,592.99 L313.5,594.03 L313.8,594.9 L314.1,595.6 L314.4,596.16" stroke="#4b4ba2" stroke-width="0.95" fill="none" stroke-linejoin="round"/>
<path d="M101.1,597.7 L101.4,597.7 L101.7,597.7 L102,597.7 L102.3,597.7 L102.6,597.7 L102.9,597.7 L103.2,597.7 L103.5,597.7 L103.8,597.7 L104.1,597.7 L104.4,597.7 L104.7,597.7 L105,597.7 L105.3,597.7 L105.6,597.7 L105.9,597.7 L106.2,597.7 L106.5,597.7 L106.8,597.7 L107.1,597.7 L107.4,597.7 L107.7,597.7 L108,597.7 L108.3,597.7 L108.6,597.7 L108.9,597.7 L109.2,597.7 L109.5,597.7 L109.8,597.7 L110.1,597.7 L110.4,597.7 L110.7,597.7 L111,597.7 L111.3,597.7 L111.6,597.7 L111.9,597.7 L112.2,597.7 L112.5,597.7 L112.8,597.69 L113.1,597.69 L113.4,597.68 L113.7,597.67 L114,597.66 L114.3,597.63 L114.6,597.59 L114.9,597.53 L115.2,597.44 L115.5,597.31 L115.8,597.13 L116.1,596.88 L116.4,596.55 L116.7,596.11 L117,595.55 L117.3,594.85 L117.6,593.99 L117.9,592.97 L118.2,591.79 L118.5,590.45 L118.8,588.97 L119.1,587.4 L119.4,585.78 L119.7,584.18 L120,582.65 L120.3,581.27 L120.6,580.11 L120.9,579.23 L121.2,578.69 L121.5,578.5 L121.8,578.69 L122.1,579.23 L122.4,580.11 L122.7,581.27 L123,582.65 L123.3,584.18 L123.6,585.78 L123.9,587.4 L124.2,588.97 L124.5,590.45 L124.8,591.79 L125.1,592.97 L125.4,593.99 L125.7,594.85 L126,595.55 L126.3,596.11 L126.6,596.55 L126.9,596.88 L127.2,597.13 L127.5,597.31 L127.8,597.44 L128.1,597.53 L128.4,597.59 L128.7,597.63 L129,597.66 L129.3,597.67 L129.6,597.68 L129.9,597.69 L130.2,597.69 L130.5,597.7 L130.8,597.7 L131.1,597.7 L131.4,597.7 L131.7,597.7 L132,597.7 L132.3,597.7 L132.6,597.7 L132.9,597.7 L133.2,597.7 L133.5,597.7 L133.8,597.7 L134.1,597.7 L134.4,597.7 L134.7,597.7 L135,597.7 L135.3,597.7 L135.6,597.7 L135.9,597.7 L136.2,597.7 L136.5,597.7 L136.8,597.7 L137.1,597.7 L137.4,597.7 L137.7,597.7 L138,597.69 L138.3,597.69 L138.6,597.68 L138.9,597.67 L139.2,597.65 L139.5,597.62 L139.8,597.58 L140.1,597.51 L140.4,597.42 L140.7,597.29 L141,597.1 L141.3,596.86 L141.6,596.53 L141.9,596.11 L142.2,595.58 L142.5,594.92 L142.8,594.13 L143.1,593.2 L143.4,592.15 L143.7,590.98 L144,589.71 L144.3,588.4 L144.6,587.08 L144.9,585.8 L145.2,584.62 L145.5,583.61 L145.8,582.81 L146.1,582.27 L146.4,582.02 L146.7,582.07 L147,582.42 L147.3,583.05 L147.6,583.93 L147.9,585 L148.2,586.21 L148.5,587.51 L148.8,588.84 L149.1,590.14 L149.4,591.38 L149.7,592.51 L150,593.53 L150.3,594.41 L150.6,595.15 L150.9,595.77 L151.2,596.26 L151.5,596.65 L151.8,596.95 L152.1,597.17 L152.4,597.34 L152.7,597.45 L153,597.54 L153.3,597.59 L153.6,597.63 L153.9,597.66 L154.2,597.67 L154.5,597.68 L154.8,597.69 L155.1,597.69 L155.4,597.7 L155.7,597.7 L156,597.7 L156.3,597.7 L156.6,597.7 L156.9,597.7 L157.2,597.7 L157.5,597.7 L157.8,597.7 L158.1,597.7 L158.4,597.7 L158.7,597.7 L159,597.7 L159.3,597.7 L159.6,597.7 L159.9,597.7 L160.2,597.7 L160.5,597.7 L160.8,597.7 L161.1,597.7 L161.4,597.7 L161.7,597.7 L162,597.7 L162.3,597.7 L162.6,597.7 L162.9,597.7 L163.2,597.7 L163.5,597.7 L163.8,597.7 L164.1,597.7 L164.4,597.7 L164.7,597.7 L165,597.7 L165.3,597.7 L165.6,597.7 L165.9,597.7 L166.2,597.7 L166.5,597.7 L166.8,597.7 L167.1,597.7 L167.4,597.7 L167.7,597.7 L168,597.7 L168.3,597.7 L168.6,597.7 L168.9,597.7 L169.2,597.7 L169.5,597.7 L169.8,597.7 L170.1,597.7 L170.4,597.7 L170.7,597.7 L171,597.7 L171.3,597.7 L171.6,597.7 L171.9,597.7 L172.2,597.7 L172.5,597.7 L172.8,597.7 L173.1,597.7 L173.4,597.7 L173.7,597.7 L174,597.7 L174.3,597.7 L174.6,597.7 L174.9,597.7 L175.2,597.7 L175.5,597.7 L175.8,597.7 L176.1,597.7 L176.4,597.7 L176.7,597.7 L177,597.7 L177.3,597.7 L177.6,597.7 L177.9,597.7 L178.2,597.7 L178.5,597.7 L178.8,597.7 L179.1,597.7 L179.4,597.7 L179.7,597.7 L180,597.7 L180.3,597.7 L180.6,597.7 L180.9,597.7 L181.2,597.7 L181.5,597.7 L181.8,597.7 L182.1,597.7 L182.4,597.7 L182.7,597.7 L183,597.7 L183.3,597.7 L183.6,597.7 L183.9,597.7 L184.2,597.7 L184.5,597.7 L184.8,597.7 L185.1,597.7 L185.4,597.7 L185.7,597.7 L186,597.7 L186.3,597.7 L186.6,597.7 L186.9,597.7 L187.2,597.7 L187.5,597.7 L187.8,597.7 L188.1,597.7 L188.4,597.7 L188.7,597.7 L189,597.7 L189.3,597.69 L189.6,597.69 L189.9,597.68 L190.2,597.67 L190.5,597.65 L190.8,597.63 L191.1,597.58 L191.4,597.53 L191.7,597.44 L192,597.32 L192.3,597.15 L192.6,596.93 L192.9,596.64 L193.2,596.27 L193.5,595.8 L193.8,595.23 L194.1,594.55 L194.4,593.76 L194.7,592.86 L195,591.88 L195.3,590.84 L195.6,589.76 L195.9,588.68 L196.2,587.67 L196.5,586.75 L196.8,585.97 L197.1,585.39 L197.4,585.02 L197.7,584.9 L198,585.02 L198.3,585.39 L198.6,585.97 L198.9,586.75 L199.2,587.67 L199.5,588.68 L199.8,589.76 L200.1,590.84 L200.4,591.88 L200.7,592.86 L201,593.76 L201.3,594.55 L201.6,595.23 L201.9,595.8 L202.2,596.27 L202.5,596.64 L202.8,596.93 L203.1,597.15 L203.4,597.32 L203.7,597.44 L204,597.53 L204.3,597.58 L204.6,597.63 L204.9,597.65 L205.2,597.67 L205.5,597.68 L205.8,597.69 L206.1,597.69 L206.4,597.7 L206.7,597.7 L207,597.7 L207.3,597.7 L207.6,597.7 L207.9,597.7 L208.2,597.7 L208.5,597.7 L208.8,597.7 L209.1,597.7 L209.4,597.7 L209.7,597.7 L210,597.7 L210.3,597.7 L210.6,597.7 L210.9,597.7 L211.2,597.7 L211.5,597.7 L211.8,597.7 L212.1,597.7 L212.4,597.7 L212.7,597.7 L213,597.7 L213.3,597.7 L213.6,597.7 L213.9,597.7 L214.2,597.7 L214.5,597.7 L214.8,597.7 L215.1,597.7 L215.4,597.7 L215.7,597.69 L216,597.69 L216.3,597.68 L216.6,597.67 L216.9,597.66 L217.2,597.64 L217.5,597.61 L217.8,597.56 L218.1,597.49 L218.4,597.41 L218.7,597.29 L219,597.13 L219.3,596.93 L219.6,596.68 L219.9,596.37 L220.2,596 L220.5,595.58 L220.8,595.09 L221.1,594.56 L221.4,594 L221.7,593.42 L222,592.84 L222.3,592.29 L222.6,591.8 L222.9,591.38 L223.2,591.06 L223.5,590.87 L223.8,590.8 L224.1,590.87 L224.4,591.06 L224.7,591.38 L225,591.8 L225.3,592.29 L225.6,592.84 L225.9,593.42 L226.2,594 L226.5,594.56 L226.8,595.09 L227.1,595.58 L227.4,596 L227.7,596.37 L228,596.68 L228.3,596.93 L228.6,597.13 L228.9,597.29 L229.2,597.41 L229.5,597.49 L229.8,597.56 L230.1,597.61 L230.4,597.64 L230.7,597.66 L231,597.67 L231.3,597.68 L231.6,597.69 L231.9,597.69 L232.2,597.7 L232.5,597.7 L232.8,597.7 L233.1,597.7 L233.4,597.7 L233.7,597.7 L234,597.7 L234.3,597.7 L234.6,597.7 L234.9,597.7 L235.2,597.7 L235.5,597.7 L235.8,597.7 L236.1,597.7 L236.4,597.7 L236.7,597.7 L237,597.7 L237.3,597.7 L237.6,597.7 L237.9,597.7 L238.2,597.7 L238.5,597.7 L238.8,597.7 L239.1,597.7 L239.4,597.7 L239.7,597.7 L240,597.7 L240.3,597.7 L240.6,597.7 L240.9,597.7 L241.2,597.7 L241.5,597.7 L241.8,597.7 L242.1,597.7 L242.4,597.7 L242.7,597.7 L243,597.7 L243.3,597.7 L243.6,597.7 L243.9,597.7 L244.2,597.7 L244.5,597.7 L244.8,597.7 L245.1,597.7 L245.4,597.7 L245.7,597.7 L246,597.7 L246.3,597.7 L246.6,597.7 L246.9,597.7 L247.2,597.7 L247.5,597.7 L247.8,597.7 L248.1,597.7 L248.4,597.7 L248.7,597.7 L249,597.69 L249.3,597.69 L249.6,597.68 L249.9,597.67 L250.2,597.65 L250.5,597.62 L250.8,597.58 L251.1,597.51 L251.4,597.41 L251.7,597.26 L252,597.06 L252.3,596.78 L252.6,596.41 L252.9,595.92 L253.2,595.29 L253.5,594.51 L253.8,593.55 L254.1,592.41 L254.4,591.08 L254.7,589.58 L255,587.93 L255.3,586.17 L255.6,584.36 L255.9,582.56 L256.2,580.84 L256.5,579.3 L256.8,578 L257.1,577.02 L257.4,576.41 L257.7,576.2 L258,576.41 L258.3,577.02 L258.6,578 L258.9,579.3 L259.2,580.84 L259.5,582.56 L259.8,584.36 L260.1,586.17 L260.4,587.93 L260.7,589.58 L261,591.08 L261.3,592.41 L261.6,593.55 L261.9,594.51 L262.2,595.29 L262.5,595.92 L262.8,596.41 L263.1,596.78 L263.4,597.06 L263.7,597.26 L264,597.41 L264.3,597.51 L264.6,597.58 L264.9,597.62 L265.2,597.65 L265.5,597.67 L265.8,597.68 L266.1,597.69 L266.4,597.69 L266.7,597.68 L267,597.68 L267.3,597.67 L267.6,597.65 L267.9,597.61 L268.2,597.56 L268.5,597.49 L268.8,597.39 L269.1,597.23 L269.4,597.02 L269.7,596.74 L270,596.35 L270.3,595.86 L270.6,595.22 L270.9,594.44 L271.2,593.48 L271.5,592.36 L271.8,591.06 L272.1,589.61 L272.4,588.03 L272.7,586.36 L273,584.66 L273.3,583 L273.6,581.44 L273.9,580.07 L274.2,578.94 L274.5,578.14 L274.8,577.69 L275.1,577.62 L275.4,577.94 L275.7,578.64 L276,579.66 L276.3,580.96 L276.6,582.46 L276.9,584.1 L277.2,585.79 L277.5,587.48 L277.8,589.09 L278.1,590.59 L278.4,591.94 L278.7,593.13 L279,594.14 L279.3,594.98 L279.6,595.66 L279.9,596.2 L280.2,596.62 L280.5,596.94 L280.8,597.17 L281.1,597.34 L281.4,597.46 L281.7,597.54 L282,597.6 L282.3,597.64 L282.6,597.66 L282.9,597.68 L283.2,597.69 L283.5,597.69 L283.8,597.7 L284.1,597.7 L284.4,597.7 L284.7,597.7 L285,597.7 L285.3,597.7 L285.6,597.7 L285.9,597.7 L286.2,597.7 L286.5,597.7 L286.8,597.7 L287.1,597.7 L287.4,597.7 L287.7,597.7 L288,597.7 L288.3,597.7 L288.6,597.7 L288.9,597.7 L289.2,597.7 L289.5,597.7 L289.8,597.7 L290.1,597.7 L290.4,597.7 L290.7,597.7 L291,597.7 L291.3,597.7 L291.6,597.7 L291.9,597.7 L292.2,597.7 L292.5,597.7 L292.8,597.7 L293.1,597.7 L293.4,597.7 L293.7,597.7 L294,597.7 L294.3,597.7 L294.6,597.7 L294.9,597.7 L295.2,597.7 L295.5,597.7 L295.8,597.7 L296.1,597.7 L296.4,597.7 L296.7,597.7 L297,597.7 L297.3,597.7 L297.6,597.7 L297.9,597.7 L298.2,597.7 L298.5,597.7 L298.8,597.7 L299.1,597.7 L299.4,597.7 L299.7,597.7 L300,597.7 L300.3,597.7 L300.6,597.7 L300.9,597.7 L301.2,597.7 L301.5,597.7 L301.8,597.7 L302.1,597.7 L302.4,597.7 L302.7,597.7 L303,597.7 L303.3,597.7 L303.6,597.7 L303.9,597.7 L304.2,597.7 L304.5,597.7 L304.8,597.7 L305.1,597.7 L305.4,597.7 L305.7,597.7 L306,597.7 L306.3,597.7 L306.6,597.7 L306.9,597.7 L307.2,597.7 L307.5,597.7 L307.8,597.7 L308.1,597.7 L308.4,597.7 L308.7,597.7 L309,597.7 L309.3,597.7 L309.6,597.7 L309.9,597.7 L310.2,597.7 L310.5,597.7 L310.8,597.7 L311.1,597.7 L311.4,597.7 L311.7,597.7 L312,597.7 L312.3,597.7 L312.6,597.7 L312.9,597.7 L313.2,597.7 L313.5,597.7 L313.8,597.7 L314.1,597.7 L314.4,597.7" stroke="#d67a66" stroke-width="0.95" fill="none" stroke-linejoin="round"/>
<path d="M101.1,593.95 L101.4,593.16 L101.7,592.31 L102,591.42 L102.3,590.53 L102.6,589.66 L102.9,588.87 L103.2,588.19 L103.5,587.65 L103.8,587.28 L104.1,587.11 L104.4,587.15 L104.7,587.38 L105,587.81 L105.3,588.4 L105.6,589.13 L105.9,589.95 L106.2,590.82 L106.5,591.72 L106.8,592.6 L107.1,593.43 L107.4,594.2 L107.7,594.88 L108,595.48 L108.3,595.98 L108.6,596.39 L108.9,596.73 L109.2,596.99 L109.5,597.19 L109.8,597.34 L110.1,597.45 L110.4,597.53 L110.7,597.59 L111,597.63 L111.3,597.65 L111.6,597.67 L111.9,597.68 L112.2,597.69 L112.5,597.69 L112.8,597.7 L113.1,597.7 L113.4,597.7 L113.7,597.7 L114,597.7 L114.3,597.7 L114.6,597.7 L114.9,597.7 L115.2,597.7 L115.5,597.7 L115.8,597.7 L116.1,597.7 L116.4,597.7 L116.7,597.7 L117,597.7 L117.3,597.7 L117.6,597.7 L117.9,597.7 L118.2,597.7 L118.5,597.7 L118.8,597.7 L119.1,597.7 L119.4,597.7 L119.7,597.7 L120,597.7 L120.3,597.7 L120.6,597.7 L120.9,597.7 L121.2,597.7 L121.5,597.7 L121.8,597.7 L122.1,597.7 L122.4,597.7 L122.7,597.7 L123,597.7 L123.3,597.7 L123.6,597.7 L123.9,597.7 L124.2,597.7 L124.5,597.7 L124.8,597.7 L125.1,597.7 L125.4,597.7 L125.7,597.7 L126,597.7 L126.3,597.7 L126.6,597.7 L126.9,597.7 L127.2,597.7 L127.5,597.7 L127.8,597.7 L128.1,597.7 L128.4,597.7 L128.7,597.7 L129,597.7 L129.3,597.7 L129.6,597.7 L129.9,597.7 L130.2,597.7 L130.5,597.7 L130.8,597.7 L131.1,597.7 L131.4,597.7 L131.7,597.7 L132,597.7 L132.3,597.7 L132.6,597.7 L132.9,597.7 L133.2,597.7 L133.5,597.7 L133.8,597.7 L134.1,597.7 L134.4,597.7 L134.7,597.7 L135,597.7 L135.3,597.7 L135.6,597.7 L135.9,597.7 L136.2,597.7 L136.5,597.7 L136.8,597.7 L137.1,597.7 L137.4,597.7 L137.7,597.7 L138,597.7 L138.3,597.7 L138.6,597.7 L138.9,597.7 L139.2,597.7 L139.5,597.7 L139.8,597.7 L140.1,597.7 L140.4,597.7 L140.7,597.7 L141,597.7 L141.3,597.7 L141.6,597.7 L141.9,597.7 L142.2,597.7 L142.5,597.7 L142.8,597.7 L143.1,597.7 L143.4,597.7 L143.7,597.7 L144,597.7 L144.3,597.7 L144.6,597.7 L144.9,597.7 L145.2,597.7 L145.5,597.7 L145.8,597.7 L146.1,597.7 L146.4,597.7 L146.7,597.7 L147,597.7 L147.3,597.7 L147.6,597.7 L147.9,597.7 L148.2,597.7 L148.5,597.7 L148.8,597.7 L149.1,597.7 L149.4,597.7 L149.7,597.7 L150,597.7 L150.3,597.7 L150.6,597.7 L150.9,597.7 L151.2,597.7 L151.5,597.7 L151.8,597.7 L152.1,597.7 L152.4,597.7 L152.7,597.7 L153,597.7 L153.3,597.7 L153.6,597.7 L153.9,597.7 L154.2,597.7 L154.5,597.7 L154.8,597.7 L155.1,597.7 L155.4,597.7 L155.7,597.7 L156,597.7 L156.3,597.7 L156.6,597.7 L156.9,597.7 L157.2,597.7 L157.5,597.7 L157.8,597.7 L158.1,597.7 L158.4,597.7 L158.7,597.7 L159,597.7 L159.3,597.7 L159.6,597.7 L159.9,597.7 L160.2,597.7 L160.5,597.7 L160.8,597.7 L161.1,597.7 L161.4,597.7 L161.7,597.7 L162,597.7 L162.3,597.7 L162.6,597.7 L162.9,597.7 L163.2,597.7 L163.5,597.7 L163.8,597.7 L164.1,597.7 L164.4,597.7 L164.7,597.7 L165,597.7 L165.3,597.7 L165.6,597.7 L165.9,597.7 L166.2,597.7 L166.5,597.7 L166.8,597.7 L167.1,597.7 L167.4,597.7 L167.7,597.7 L168,597.7 L168.3,597.7 L168.6,597.7 L168.9,597.7 L169.2,597.7 L169.5,597.7 L169.8,597.7 L170.1,597.7 L170.4,597.7 L170.7,597.7 L171,597.7 L171.3,597.7 L171.6,597.7 L171.9,597.7 L172.2,597.7 L172.5,597.7 L172.8,597.7 L173.1,597.7 L173.4,597.7 L173.7,597.7 L174,597.7 L174.3,597.7 L174.6,597.7 L174.9,597.7 L175.2,597.7 L175.5,597.7 L175.8,597.7 L176.1,597.7 L176.4,597.7 L176.7,597.7 L177,597.7 L177.3,597.7 L177.6,597.7 L177.9,597.7 L178.2,597.7 L178.5,597.7 L178.8,597.7 L179.1,597.7 L179.4,597.7 L179.7,597.7 L180,597.7 L180.3,597.69 L180.6,597.69 L180.9,597.68 L181.2,597.67 L181.5,597.65 L181.8,597.62 L182.1,597.58 L182.4,597.52 L182.7,597.44 L183,597.32 L183.3,597.16 L183.6,596.96 L183.9,596.69 L184.2,596.35 L184.5,595.93 L184.8,595.43 L185.1,594.84 L185.4,594.16 L185.7,593.42 L186,592.61 L186.3,591.78 L186.6,590.93 L186.9,590.12 L187.2,589.37 L187.5,588.73 L187.8,588.22 L188.1,587.87 L188.4,587.71 L188.7,587.74 L189,587.97 L189.3,588.37 L189.6,588.93 L189.9,589.61 L190.2,590.38 L190.5,591.21 L190.8,592.06 L191.1,592.89 L191.4,593.67 L191.7,594.4 L192,595.04 L192.3,595.6 L192.6,596.08 L192.9,596.47 L193.2,596.78 L193.5,597.03 L193.8,597.22 L194.1,597.36 L194.4,597.47 L194.7,597.54 L195,597.6 L195.3,597.63 L195.6,597.66 L195.9,597.67 L196.2,597.68 L196.5,597.69 L196.8,597.69 L197.1,597.7 L197.4,597.7 L197.7,597.7 L198,597.7 L198.3,597.7 L198.6,597.7 L198.9,597.7 L199.2,597.7 L199.5,597.7 L199.8,597.7 L200.1,597.7 L200.4,597.7 L200.7,597.7 L201,597.7 L201.3,597.7 L201.6,597.7 L201.9,597.7 L202.2,597.7 L202.5,597.7 L202.8,597.7 L203.1,597.7 L203.4,597.7 L203.7,597.7 L204,597.7 L204.3,597.7 L204.6,597.7 L204.9,597.7 L205.2,597.7 L205.5,597.7 L205.8,597.7 L206.1,597.7 L206.4,597.7 L206.7,597.7 L207,597.7 L207.3,597.7 L207.6,597.7 L207.9,597.7 L208.2,597.7 L208.5,597.7 L208.8,597.7 L209.1,597.7 L209.4,597.7 L209.7,597.7 L210,597.7 L210.3,597.7 L210.6,597.7 L210.9,597.7 L211.2,597.7 L211.5,597.7 L211.8,597.7 L212.1,597.7 L212.4,597.7 L212.7,597.7 L213,597.7 L213.3,597.7 L213.6,597.7 L213.9,597.7 L214.2,597.7 L214.5,597.7 L214.8,597.7 L215.1,597.7 L215.4,597.7 L215.7,597.7 L216,597.7 L216.3,597.7 L216.6,597.7 L216.9,597.7 L217.2,597.7 L217.5,597.7 L217.8,597.7 L218.1,597.7 L218.4,597.7 L218.7,597.7 L219,597.7 L219.3,597.7 L219.6,597.7 L219.9,597.7 L220.2,597.7 L220.5,597.7 L220.8,597.7 L221.1,597.7 L221.4,597.7 L221.7,597.7 L222,597.7 L222.3,597.7 L222.6,597.7 L222.9,597.7 L223.2,597.7 L223.5,597.7 L223.8,597.7 L224.1,597.69 L224.4,597.69 L224.7,597.68 L225,597.66 L225.3,597.64 L225.6,597.61 L225.9,597.56 L226.2,597.49 L226.5,597.4 L226.8,597.26 L227.1,597.08 L227.4,596.84 L227.7,596.53 L228,596.14 L228.3,595.66 L228.6,595.08 L228.9,594.41 L229.2,593.63 L229.5,592.78 L229.8,591.85 L230.1,590.89 L230.4,589.92 L230.7,588.98 L231,588.12 L231.3,587.38 L231.6,586.79 L231.9,586.4 L232.2,586.21 L232.5,586.24 L232.8,586.5 L233.1,586.95 L233.4,587.58 L233.7,588.35 L234,589.21 L234.3,590.13 L234.6,591.04 L234.9,591.91 L235.2,592.71 L235.5,593.38 L235.8,593.92 L236.1,594.3 L236.4,594.5 L236.7,594.53 L237,594.38 L237.3,594.06 L237.6,593.58 L237.9,592.96 L238.2,592.24 L238.5,591.43 L238.8,590.57 L239.1,589.72 L239.4,588.91 L239.7,588.19 L240,587.6 L240.3,587.18 L240.6,586.94 L240.9,586.91 L241.2,587.08 L241.5,587.46 L241.8,588.01 L242.1,588.7 L242.4,589.51 L242.7,590.39 L243,591.3 L243.3,592.21 L243.6,593.07 L243.9,593.88 L244.2,594.61 L244.5,595.24 L244.8,595.79 L245.1,596.24 L245.4,596.61 L245.7,596.9 L246,597.12 L246.3,597.29 L246.6,597.42 L246.9,597.51 L247.2,597.57 L247.5,597.62 L247.8,597.65 L248.1,597.67 L248.4,597.68 L248.7,597.69 L249,597.69 L249.3,597.7 L249.6,597.7 L249.9,597.7 L250.2,597.7 L250.5,597.7 L250.8,597.7 L251.1,597.7 L251.4,597.7 L251.7,597.7 L252,597.7 L252.3,597.7 L252.6,597.7 L252.9,597.7 L253.2,597.7 L253.5,597.7 L253.8,597.7 L254.1,597.7 L254.4,597.7 L254.7,597.7 L255,597.7 L255.3,597.7 L255.6,597.7 L255.9,597.7 L256.2,597.7 L256.5,597.7 L256.8,597.7 L257.1,597.7 L257.4,597.7 L257.7,597.7 L258,597.7 L258.3,597.7 L258.6,597.7 L258.9,597.7 L259.2,597.7 L259.5,597.7 L259.8,597.7 L260.1,597.7 L260.4,597.7 L260.7,597.7 L261,597.7 L261.3,597.7 L261.6,597.7 L261.9,597.7 L262.2,597.7 L262.5,597.7 L262.8,597.7 L263.1,597.7 L263.4,597.7 L263.7,597.7 L264,597.7 L264.3,597.7 L264.6,597.7 L264.9,597.7 L265.2,597.7 L265.5,597.7 L265.8,597.7 L266.1,597.7 L266.4,597.7 L266.7,597.7 L267,597.7 L267.3,597.7 L267.6,597.7 L267.9,597.7 L268.2,597.7 L268.5,597.7 L268.8,597.7 L269.1,597.7 L269.4,597.7 L269.7,597.7 L270,597.7 L270.3,597.7 L270.6,597.7 L270.9,597.7 L271.2,597.7 L271.5,597.7 L271.8,597.7 L272.1,597.7 L272.4,597.7 L272.7,597.7 L273,597.7 L273.3,597.7 L273.6,597.7 L273.9,597.7 L274.2,597.7 L274.5,597.7 L274.8,597.7 L275.1,597.7 L275.4,597.7 L275.7,597.7 L276,597.7 L276.3,597.7 L276.6,597.7 L276.9,597.7 L277.2,597.7 L277.5,597.7 L277.8,597.7 L278.1,597.7 L278.4,597.7 L278.7,597.7 L279,597.7 L279.3,597.7 L279.6,597.7 L279.9,597.7 L280.2,597.7 L280.5,597.7 L280.8,597.7 L281.1,597.7 L281.4,597.7 L281.7,597.7 L282,597.7 L282.3,597.7 L282.6,597.7 L282.9,597.7 L283.2,597.7 L283.5,597.7 L283.8,597.7 L284.1,597.7 L284.4,597.7 L284.7,597.7 L285,597.7 L285.3,597.7 L285.6,597.7 L285.9,597.7 L286.2,597.7 L286.5,597.7 L286.8,597.7 L287.1,597.7 L287.4,597.7 L287.7,597.7 L288,597.7 L288.3,597.7 L288.6,597.7 L288.9,597.7 L289.2,597.7 L289.5,597.7 L289.8,597.7 L290.1,597.7 L290.4,597.7 L290.7,597.7 L291,597.7 L291.3,597.7 L291.6,597.7 L291.9,597.7 L292.2,597.7 L292.5,597.7 L292.8,597.69 L293.1,597.69 L293.4,597.68 L293.7,597.67 L294,597.65 L294.3,597.62 L294.6,597.58 L294.9,597.52 L295.2,597.44 L295.5,597.33 L295.8,597.18 L296.1,596.99 L296.4,596.75 L296.7,596.45 L297,596.09 L297.3,595.65 L297.6,595.16 L297.9,594.6 L298.2,593.99 L298.5,593.36 L298.8,592.7 L299.1,592.07 L299.4,591.47 L299.7,590.94 L300,590.52 L300.3,590.21 L300.6,590.03 L300.9,590.01 L301.2,590.13 L301.5,590.4 L301.8,590.79 L302.1,591.29 L302.4,591.86 L302.7,592.49 L303,593.14 L303.3,593.78 L303.6,594.4 L303.9,594.98 L304.2,595.49 L304.5,595.95 L304.8,596.34 L305.1,596.66 L305.4,596.92 L305.7,597.13 L306,597.29 L306.3,597.41 L306.6,597.5 L306.9,597.56 L307.2,597.61 L307.5,597.64 L307.8,597.66 L308.1,597.68 L308.4,597.69 L308.7,597.69 L309,597.69 L309.3,597.7 L309.6,597.7 L309.9,597.7 L310.2,597.7 L310.5,597.7 L310.8,597.7 L311.1,597.7 L311.4,597.7 L311.7,597.7 L312,597.7 L312.3,597.7 L312.6,597.7 L312.9,597.7 L313.2,597.7 L313.5,597.7 L313.8,597.7 L314.1,597.7 L314.4,597.7" stroke="#3a3a3a" stroke-width="0.95" fill="none" stroke-linejoin="round"/>
<line x1="177.4" y1="431.3" x2="177.4" y2="598.2" stroke="#1a1a1a" stroke-width="1" />
<line x1="184.6" y1="431.3" x2="184.6" y2="598.2" stroke="#1a1a1a" stroke-width="1" />
<line x1="177.4" y1="431.3" x2="184.6" y2="431.3" stroke="#1a1a1a" stroke-width="1" />
<line x1="177.4" y1="530.3" x2="184.6" y2="530.3" stroke="#1a1a1a" stroke-width="1" />
<line x1="37.9" y1="465.2" x2="99.4" y2="465.2" stroke="#4a4a4a" stroke-width="0.9" />
<line x1="99.3" y1="465.2" x2="99.3" y2="530.8" stroke="#6a6a6a" stroke-width="0.8" />
<rect x="37.9" y="530.6" width="277.1" height="2.2" fill="#cfcfcf" stroke="none" stroke-width="1" />
<line x1="99.6" y1="532.8" x2="99.6" y2="597.7" stroke="#8a8a8a" stroke-width="0.7" />
<line x1="37.9" y1="598" x2="99.6" y2="598" stroke="#bdbdbd" stroke-width="0.8" />
<text x="39" y="442.9" font-size="5.3" text-anchor="start" fill="#262626" font-weight="normal" font-style="normal" textLength="23.4" lengthAdjust="spacingAndGlyphs" >RASGRP2</text>
<text x="39" y="463.7" font-size="5.3" text-anchor="start" fill="#262626" font-weight="normal" font-style="normal" textLength="20.5" lengthAdjust="spacingAndGlyphs" >combined</text>
<text x="39" y="471.6" font-size="5.3" text-anchor="start" fill="#262626" font-weight="normal" font-style="normal" textLength="24.9" lengthAdjust="spacingAndGlyphs" ># 1: E5 fwd</text>
<text x="39" y="487.7" font-size="5.3" text-anchor="start" fill="#262626" font-weight="normal" font-style="normal" textLength="37.1" lengthAdjust="spacingAndGlyphs" >RASGRP2-E05-F</text>
<text x="39" y="539" font-size="5.3" text-anchor="start" fill="#262626" font-weight="normal" font-style="normal" textLength="23.4" lengthAdjust="spacingAndGlyphs" ># 2: E5 rev</text>
<text x="39" y="554.8" font-size="5.3" text-anchor="start" fill="#262626" font-weight="normal" font-style="normal" textLength="37.9" lengthAdjust="spacingAndGlyphs" >RASGRP2-E05-R</text>
<rect x="100.6" y="598.2" width="214.4" height="5" fill="#ffffff" stroke="none" stroke-width="1" />
<text x="104.2" y="602.3" font-size="4.8" text-anchor="middle" fill="#444" font-weight="normal" font-style="normal" >−10</text>
<text x="147.3" y="602.3" font-size="4.8" text-anchor="middle" fill="#444" font-weight="normal" font-style="normal" >−5</text>
<text x="189.6" y="602.3" font-size="4.8" text-anchor="middle" fill="#444" font-weight="normal" font-style="normal" >1</text>
<text x="198.08" y="602.3" font-size="4.8" text-anchor="middle" fill="#444" font-weight="normal" font-style="normal" >2</text>
<text x="206.56" y="602.3" font-size="4.8" text-anchor="middle" fill="#444" font-weight="normal" font-style="normal" >3</text>
<text x="215.04" y="602.3" font-size="4.8" text-anchor="middle" fill="#444" font-weight="normal" font-style="normal" >4</text>
<text x="223.52" y="602.3" font-size="4.8" text-anchor="middle" fill="#444" font-weight="normal" font-style="normal" >5</text>
<text x="232" y="602.3" font-size="4.8" text-anchor="middle" fill="#444" font-weight="normal" font-style="normal" >6</text>
<text x="240.48" y="602.3" font-size="4.8" text-anchor="middle" fill="#444" font-weight="normal" font-style="normal" >7</text>
<text x="248.96" y="602.3" font-size="4.8" text-anchor="middle" fill="#444" font-weight="normal" font-style="normal" >8</text>
<text x="257.44" y="602.3" font-size="4.8" text-anchor="middle" fill="#444" font-weight="normal" font-style="normal" >9</text>
<text x="265.92" y="602.3" font-size="4.8" text-anchor="middle" fill="#444" font-weight="normal" font-style="normal" >10</text>
<text x="308.32" y="602.3" font-size="4.8" text-anchor="middle" fill="#444" font-weight="normal" font-style="normal" >15</text>
<rect x="100.6" y="603.6" width="83.8" height="5.4" fill="#efe98a" stroke="none" stroke-width="1" />
<rect x="185.2" y="603.6" width="129.8" height="5.4" fill="#78aee0" stroke="none" stroke-width="1" />
<text x="102.6" y="608" font-size="5" text-anchor="start" fill="#333" font-weight="normal" font-style="normal" textLength="20.8" lengthAdjust="spacingAndGlyphs" >2/Intron 4</text>
<text x="265" y="608" font-size="5" text-anchor="middle" fill="#333" font-weight="normal" font-style="normal" textLength="36" lengthAdjust="spacingAndGlyphs" >RASGRP2/Exon 5</text>
<rect x="37.6" y="604.4" width="59.8" height="6.2" fill="#ffffff" stroke="#d0d0d0" stroke-width="0.5" />
<line x1="99.4" y1="598" x2="99.4" y2="611" stroke="#8a8a8a" stroke-width="0.8" />
<text x="39" y="609.3" font-size="5" text-anchor="start" fill="#333" font-weight="normal" font-style="normal" textLength="23.6" lengthAdjust="spacingAndGlyphs" >Exon/Intron</text>
<path d="M91.8,606.6 L95.2,606.6 L93.5,608.6 Z" fill="#222"/>
<line x1="37.9" y1="603.7" x2="99.6" y2="603.7" stroke="#9a9a9a" stroke-width="0.6" />
<line x1="21.3" y1="607.5" x2="29.5" y2="607.5" stroke="#111" stroke-width="1.5" />
<path d="M33.0,607.5 L27.6,604.9 L28.8,607.5 L27.6,610.1 Z" fill="#111"/>
<line x1="353" y1="464.3" x2="353" y2="479.3" stroke="#333" stroke-width="1.05" />
<line x1="398.8" y1="464.3" x2="398.8" y2="479.3" stroke="#333" stroke-width="1.05" />
<line x1="353" y1="479.3" x2="398.8" y2="479.3" stroke="#333" stroke-width="1.05" />
<line x1="376.1" y1="479.3" x2="376.1" y2="504.7" stroke="#333" stroke-width="1.05" />
<line x1="445.1" y1="464.3" x2="445.1" y2="479.3" stroke="#333" stroke-width="1.05" />
<line x1="490.6" y1="464.3" x2="490.6" y2="479.3" stroke="#333" stroke-width="1.05" />
<line x1="445.1" y1="479.3" x2="490.6" y2="479.3" stroke="#333" stroke-width="1.05" />
<line x1="467.8" y1="479.3" x2="467.8" y2="504.7" stroke="#333" stroke-width="1.05" />
<rect x="344.5" y="447.3" width="17" height="17" fill="#fff" stroke="#333" stroke-width="1.05" />
<circle cx="398.8" cy="455.9" r="8.3" fill="#fff" stroke="#333" stroke-width="1.05"/>
<circle cx="398.8" cy="455.9" r="1.25" fill="#111"/>
<rect x="436.6" y="447.3" width="17" height="17" fill="#fff" stroke="#333" stroke-width="1.05" />
<circle cx="490.6" cy="455.9" r="8.3" fill="#fff" stroke="#333" stroke-width="1.05"/>
<circle cx="490.6" cy="455.9" r="1.25" fill="#111"/>
<line x1="376.1" y1="521.5" x2="376.1" y2="536.3" stroke="#333" stroke-width="1.05" />
<line x1="467.8" y1="521.3" x2="467.8" y2="536.3" stroke="#333" stroke-width="1.05" />
<line x1="376.1" y1="536.3" x2="467.8" y2="536.3" stroke="#333" stroke-width="1.05" />
<line x1="421.8" y1="536.3" x2="421.8" y2="550.6" stroke="#333" stroke-width="1.05" />
<rect x="367.6" y="504.6" width="17" height="17" fill="#fff" stroke="#333" stroke-width="1.05" />
<circle cx="376.1" cy="513.1" r="1.25" fill="#111"/>
<circle cx="467.8" cy="513" r="8.3" fill="#fff" stroke="#333" stroke-width="1.05"/>
<circle cx="467.8" cy="513" r="1.25" fill="#111"/>
<line x1="353" y1="550.6" x2="490.6" y2="550.6" stroke="#333" stroke-width="1.05" />
<line x1="353" y1="550.6" x2="353" y2="562" stroke="#333" stroke-width="1.05" />
<line x1="398.9" y1="550.6" x2="398.9" y2="562" stroke="#333" stroke-width="1.05" />
<line x1="444.7" y1="550.6" x2="444.7" y2="562" stroke="#333" stroke-width="1.05" />
<line x1="490.6" y1="550.6" x2="490.6" y2="562" stroke="#333" stroke-width="1.05" />
<circle cx="353" cy="570.3" r="8.3" fill="#fff" stroke="#333" stroke-width="1.05"/>
<rect x="390.4" y="561.9" width="17" height="17" fill="#fff" stroke="#333" stroke-width="1.05" />
<circle cx="398.9" cy="570.4" r="1.25" fill="#111"/>
<circle cx="444.7" cy="570.3" r="8.3" fill="#fff" stroke="#333" stroke-width="1.05"/>
<circle cx="444.7" cy="570.3" r="1.25" fill="#111"/>
<rect x="482.3" y="561.9" width="17" height="17" fill="#e9897b" stroke="#333" stroke-width="1.05" />
<rect x="482.3" y="561.9" width="17" height="17" fill="none" stroke="#3a2a2a" stroke-width="1.1" />
<line x1="506.9" y1="544.3" x2="500.2" y2="552.6" stroke="#111" stroke-width="1.3" />
<path d="M497.8,555.7 L498.7,550.0 L503.6,553.6 Z" fill="#111"/>
<text x="363.4" y="454" font-size="6.7" text-anchor="start" fill="#262626" font-weight="normal" font-style="normal" textLength="6.2" lengthAdjust="spacingAndGlyphs" >I.1</text>
<text x="409.3" y="454" font-size="6.7" text-anchor="start" fill="#262626" font-weight="normal" font-style="normal" textLength="6.9" lengthAdjust="spacingAndGlyphs" >I.2</text>
<text x="455.1" y="454" font-size="6.7" text-anchor="start" fill="#262626" font-weight="normal" font-style="normal" textLength="6.9" lengthAdjust="spacingAndGlyphs" >I.3</text>
<text x="501.1" y="454" font-size="6.7" text-anchor="start" fill="#262626" font-weight="normal" font-style="normal" textLength="7" lengthAdjust="spacingAndGlyphs" >I.4</text>
<text x="385.9" y="512" font-size="6.7" text-anchor="start" fill="#262626" font-weight="normal" font-style="normal" textLength="9.3" lengthAdjust="spacingAndGlyphs" >II.1</text>
<text x="477.7" y="512.9" font-size="6.7" text-anchor="start" fill="#262626" font-weight="normal" font-style="normal" textLength="9.5" lengthAdjust="spacingAndGlyphs" >II.2</text>
<text x="363.4" y="570.7" font-size="6.7" text-anchor="start" fill="#262626" font-weight="normal" font-style="normal" textLength="10.4" lengthAdjust="spacingAndGlyphs" >III.1</text>
<text x="409.3" y="570.7" font-size="6.7" text-anchor="start" fill="#262626" font-weight="normal" font-style="normal" textLength="11.2" lengthAdjust="spacingAndGlyphs" >III.2</text>
<text x="454.3" y="570.7" font-size="6.7" text-anchor="start" fill="#262626" font-weight="normal" font-style="normal" textLength="12" lengthAdjust="spacingAndGlyphs" >III.3</text>
<text x="501" y="570.2" font-size="6.7" text-anchor="start" fill="#262626" font-weight="normal" font-style="normal" textLength="10.7" lengthAdjust="spacingAndGlyphs" >III.4</text>
<text x="88.2" y="642.6" font-size="7.1" text-anchor="start" fill="#231f20" font-weight="normal" font-style="normal" textLength="21" lengthAdjust="spacingAndGlyphs" >mRNA</text>
<text x="121" y="642.6" font-size="7.1" text-anchor="start" fill="#231f20" font-weight="normal" font-style="normal" textLength="19.3" lengthAdjust="spacingAndGlyphs" >cDNA</text>
<text x="142.9" y="642.6" font-size="7.1" text-anchor="start" fill="#231f20" font-weight="normal" font-style="normal" textLength="36.1" lengthAdjust="spacingAndGlyphs" >sequencing</text>
<line x1="111.8" y1="640.4" x2="117.2" y2="640.4" stroke="#231f20" stroke-width="0.7" />
<path d="M118.8,640.4 L116.6,638.9 L116.6,641.9 Z" fill="#231f20"/>
<line x1="180.9" y1="640.4" x2="186.3" y2="640.4" stroke="#231f20" stroke-width="0.7" />
<path d="M187.9,640.4 L185.7,638.9 L185.7,641.9 Z" fill="#231f20"/>
<text x="190" y="642.6" font-size="7.3" text-anchor="start" fill="#c41e3a" font-weight="bold" font-style="normal" textLength="48.5" lengthAdjust="spacingAndGlyphs" >Skip of exon 5</text>
<line x1="50.1" y1="674.3" x2="140.9" y2="674.3" stroke="#111" stroke-width="1.3" />
<path d="M46.1,674.3 L54.7,670.8 L52.5,674.3 L54.7,677.8 Z" fill="#111"/>
<path d="M144.9,674.3 L136.3,670.8 L138.5,674.3 L136.3,677.8 Z" fill="#111"/>
<line x1="184.3" y1="674.4" x2="275.3" y2="674.4" stroke="#111" stroke-width="1.3" />
<path d="M180.3,674.4 L188.9,670.9 L186.7,674.4 L188.9,677.9 Z" fill="#111"/>
<path d="M279.3,674.4 L270.7,670.9 L272.9,674.4 L270.7,677.9 Z" fill="#111"/>
<text x="95" y="669.2" font-size="7" text-anchor="middle" fill="#231f20" font-weight="normal" font-style="normal" textLength="8.3" lengthAdjust="spacingAndGlyphs" >E4</text>
<text x="229.4" y="669.4" font-size="7" text-anchor="middle" fill="#231f20" font-weight="normal" font-style="normal" textLength="8.6" lengthAdjust="spacingAndGlyphs" >E6</text>
<text x="23.05" y="702.7" font-size="6.9" text-anchor="middle" fill="#5b8a70" font-weight="normal" font-style="normal" >A</text>
<text x="28.85" y="702.7" font-size="6.9" text-anchor="middle" fill="#5b8a70" font-weight="normal" font-style="normal" >A</text>
<text x="34.85" y="702.7" font-size="6.9" text-anchor="middle" fill="#5b8a70" font-weight="normal" font-style="normal" >A</text>
<text x="41.1" y="702.7" font-size="6.9" text-anchor="middle" fill="#5b8a70" font-weight="normal" font-style="normal" >A</text>
<text x="48.2" y="702.7" font-size="6.9" text-anchor="middle" fill="#5d5f9f" font-weight="normal" font-style="normal" >C</text>
<text x="53.5" y="702.7" font-size="6.9" text-anchor="middle" fill="#5f5f62" font-weight="normal" font-style="normal" >G</text>
<text x="64.4" y="702.7" font-size="6.9" text-anchor="middle" fill="#d08b86" font-weight="normal" font-style="normal" >T</text>
<text x="71.8" y="702.7" font-size="6.9" text-anchor="middle" fill="#5f5f62" font-weight="normal" font-style="normal" >G</text>
<text x="79.8" y="702.7" font-size="6.9" text-anchor="middle" fill="#5d5f9f" font-weight="normal" font-style="normal" >C</text>
<text x="85.3" y="702.7" font-size="6.9" text-anchor="middle" fill="#5d5f9f" font-weight="normal" font-style="normal" >C</text>
<text x="92.5" y="702.7" font-size="6.9" text-anchor="middle" fill="#5b8a70" font-weight="normal" font-style="normal" >A</text>
<text x="98.8" y="702.7" font-size="6.9" text-anchor="middle" fill="#5d5f9f" font-weight="normal" font-style="normal" >C</text>
<text x="106.7" y="702.7" font-size="6.9" text-anchor="middle" fill="#5d5f9f" font-weight="normal" font-style="normal" >C</text>
<text x="115.5" y="702.7" font-size="6.9" text-anchor="middle" fill="#d08b86" font-weight="normal" font-style="normal" >T</text>
<text x="122.3" y="702.7" font-size="6.9" text-anchor="middle" fill="#5f5f62" font-weight="normal" font-style="normal" >G</text>
<text x="130.8" y="702.7" font-size="6.9" text-anchor="middle" fill="#5f5f62" font-weight="normal" font-style="normal" >G</text>
<text x="140.2" y="702.7" font-size="6.9" text-anchor="middle" fill="#d08b86" font-weight="normal" font-style="normal" >T</text>
<text x="146.7" y="702.7" font-size="6.9" text-anchor="middle" fill="#5d5f9f" font-weight="normal" font-style="normal" >C</text>
<text x="151.9" y="702.7" font-size="6.9" text-anchor="middle" fill="#5b8a70" font-weight="normal" font-style="normal" >A</text>
<text x="159.6" y="702.7" font-size="6.9" text-anchor="middle" fill="#5f5f62" font-weight="normal" font-style="normal" >G</text>
<text x="167.7" y="702.7" font-size="6.9" text-anchor="middle" fill="#5d5f9f" font-weight="normal" font-style="normal" >C</text>
<text x="174.2" y="702.7" font-size="6.9" text-anchor="middle" fill="#5d5f9f" font-weight="normal" font-style="normal" >C</text>
<text x="182.3" y="702.7" font-size="6.9" text-anchor="middle" fill="#5d5f9f" font-weight="normal" font-style="normal" >C</text>
<text x="191" y="702.7" font-size="6.9" text-anchor="middle" fill="#d08b86" font-weight="normal" font-style="normal" >T</text>
<text x="197.3" y="702.7" font-size="6.9" text-anchor="middle" fill="#5b8a70" font-weight="normal" font-style="normal" >A</text>
<text x="203.5" y="702.7" font-size="6.9" text-anchor="middle" fill="#5d5f9f" font-weight="normal" font-style="normal" >C</text>
<text x="211.2" y="702.7" font-size="6.9" text-anchor="middle" fill="#5d5f9f" font-weight="normal" font-style="normal" >C</text>
<text x="220.4" y="702.7" font-size="6.9" text-anchor="middle" fill="#d08b86" font-weight="normal" font-style="normal" >T</text>
<text x="225.8" y="702.7" font-size="6.9" text-anchor="middle" fill="#5b8a70" font-weight="normal" font-style="normal" >A</text>
<text x="233.9" y="702.7" font-size="6.9" text-anchor="middle" fill="#5d5f9f" font-weight="normal" font-style="normal" >C</text>
<text x="238.9" y="702.7" font-size="6.9" text-anchor="middle" fill="#5b8a70" font-weight="normal" font-style="normal" >A</text>
<text x="247.3" y="702.7" font-size="6.9" text-anchor="middle" fill="#5b8a70" font-weight="normal" font-style="normal" >A</text>
<text x="254.6" y="702.7" font-size="6.9" text-anchor="middle" fill="#5f5f62" font-weight="normal" font-style="normal" >G</text>
<text x="263.9" y="702.7" font-size="6.9" text-anchor="middle" fill="#d08b86" font-weight="normal" font-style="normal" >T</text>
<text x="269.2" y="702.7" font-size="6.9" text-anchor="middle" fill="#5f5f62" font-weight="normal" font-style="normal" >G</text>
<text x="276.6" y="702.7" font-size="6.9" text-anchor="middle" fill="#5f5f62" font-weight="normal" font-style="normal" >G</text>
<text x="286.5" y="702.7" font-size="6.9" text-anchor="middle" fill="#5b8a70" font-weight="normal" font-style="normal" >A</text>
<text x="291.9" y="702.7" font-size="6.9" text-anchor="middle" fill="#5b8a70" font-weight="normal" font-style="normal" >A</text>
<text x="298.9" y="702.7" font-size="6.9" text-anchor="middle" fill="#5f5f62" font-weight="normal" font-style="normal" >G</text>
<line x1="19.6" y1="705.9" x2="302.7" y2="705.9" stroke="#4a4a4a" stroke-width="1.3" />
<line x1="122.3" y1="706" x2="122.3" y2="708.5" stroke="#4a4a4a" stroke-width="0.9" />
<path d="M19.8,741.05 L20.1,738.24 L20.4,735.75 L20.7,733.67 L21,732.18 L21.3,731.47 L21.6,731.72 L21.9,733.08 L22.2,735.58 L22.5,739.15 L22.8,743.6 L23.1,748.65 L23.4,753.95 L23.7,759.15 L24,763.94 L24.3,768.06 L24.6,771.31 L24.9,773.6 L25.2,774.88 L25.5,775.14 L25.8,774.45 L26.1,772.87 L26.4,770.55 L26.7,767.64 L27,764.38 L27.3,761.04 L27.6,757.9 L27.9,755.28 L28.2,753.43 L28.5,752.55 L28.8,752.72 L29.1,753.95 L29.4,756.08 L29.7,758.9 L30,762.14 L30.3,765.49 L30.6,768.67 L30.9,771.42 L31.2,773.55 L31.5,774.91 L31.8,775.41 L32.1,775 L32.4,773.69 L32.7,771.5 L33,768.55 L33.3,765 L33.6,761.09 L33.9,757.11 L34.2,753.39 L34.5,750.29 L34.8,748.1 L35.1,747.06 L35.4,747.27 L35.7,748.72 L36,751.25 L36.3,754.61 L36.6,758.48 L36.9,762.52 L37.2,766.41 L37.5,769.88 L37.8,772.72 L38.1,774.8 L38.4,776.02 L38.7,776.36 L39,775.8 L39.3,774.36 L39.6,772.1 L39.9,769.12 L40.2,765.58 L40.5,761.72 L40.8,757.8 L41.1,754.16 L41.4,751.12 L41.7,748.98 L42,747.96 L42.3,748.17 L42.6,749.59 L42.9,752.07 L43.2,755.37 L43.5,759.19 L43.8,763.21 L44.1,767.15 L44.4,770.77 L44.7,773.92 L45,776.53 L45.3,778.6 L45.6,780.16 L45.9,781.28 L46.2,782.07 L46.5,782.59 L46.8,782.93 L47.1,783.13 L47.4,783.25 L47.7,783.32 L48,783.36 L48.3,783.38 L48.6,783.39 L48.9,783.4 L49.2,783.4 L49.5,783.4 L49.8,783.4 L50.1,783.4 L50.4,783.4 L50.7,783.4 L51,783.4 L51.3,783.4 L51.6,783.4 L51.9,783.4 L52.2,783.4 L52.5,783.4 L52.8,783.4 L53.1,783.4 L53.4,783.4 L53.7,783.4 L54,783.4 L54.3,783.4 L54.6,783.4 L54.9,783.4 L55.2,783.4 L55.5,783.4 L55.8,783.4 L56.1,783.4 L56.4,783.4 L56.7,783.4 L57,783.4 L57.3,783.4 L57.6,783.4 L57.9,783.4 L58.2,783.4 L58.5,783.4 L58.8,783.4 L59.1,783.4 L59.4,783.4 L59.7,783.4 L60,783.4 L60.3,783.4 L60.6,783.4 L60.9,783.4 L61.2,783.4 L61.5,783.4 L61.8,783.4 L62.1,783.4 L62.4,783.4 L62.7,783.4 L63,783.4 L63.3,783.4 L63.6,783.4 L63.9,783.4 L64.2,783.4 L64.5,783.4 L64.8,783.4 L65.1,783.4 L65.4,783.4 L65.7,783.4 L66,783.4 L66.3,783.4 L66.6,783.4 L66.9,783.4 L67.2,783.4 L67.5,783.4 L67.8,783.4 L68.1,783.4 L68.4,783.4 L68.7,783.4 L69,783.4 L69.3,783.4 L69.6,783.4 L69.9,783.4 L70.2,783.4 L70.5,783.4 L70.8,783.4 L71.1,783.4 L71.4,783.4 L71.7,783.4 L72,783.4 L72.3,783.4 L72.6,783.4 L72.9,783.4 L73.2,783.4 L73.5,783.4 L73.8,783.4 L74.1,783.4 L74.4,783.4 L74.7,783.4 L75,783.4 L75.3,783.4 L75.6,783.4 L75.9,783.4 L76.2,783.4 L76.5,783.4 L76.8,783.4 L77.1,783.4 L77.4,783.4 L77.7,783.4 L78,783.4 L78.3,783.4 L78.6,783.4 L78.9,783.4 L79.2,783.4 L79.5,783.4 L79.8,783.4 L80.1,783.4 L80.4,783.4 L80.7,783.4 L81,783.4 L81.3,783.4 L81.6,783.4 L81.9,783.4 L82.2,783.4 L82.5,783.4 L82.8,783.4 L83.1,783.4 L83.4,783.4 L83.7,783.4 L84,783.4 L84.3,783.4 L84.6,783.4 L84.9,783.4 L85.2,783.4 L85.5,783.4 L85.8,783.4 L86.1,783.4 L86.4,783.39 L86.7,783.39 L87,783.37 L87.3,783.34 L87.6,783.29 L87.9,783.2 L88.2,783.04 L88.5,782.79 L88.8,782.38 L89.1,781.76 L89.4,780.85 L89.7,779.59 L90,777.88 L90.3,775.69 L90.6,773.01 L90.9,769.88 L91.2,766.4 L91.5,762.78 L91.8,759.25 L92.1,756.08 L92.4,753.57 L92.7,751.96 L93,751.4 L93.3,751.96 L93.6,753.57 L93.9,756.08 L94.2,759.25 L94.5,762.78 L94.8,766.4 L95.1,769.88 L95.4,773.01 L95.7,775.69 L96,777.88 L96.3,779.59 L96.6,780.85 L96.9,781.76 L97.2,782.38 L97.5,782.79 L97.8,783.04 L98.1,783.2 L98.4,783.29 L98.7,783.34 L99,783.37 L99.3,783.39 L99.6,783.39 L99.9,783.4 L100.2,783.4 L100.5,783.4 L100.8,783.4 L101.1,783.4 L101.4,783.4 L101.7,783.4 L102,783.4 L102.3,783.4 L102.6,783.4 L102.9,783.4 L103.2,783.4 L103.5,783.4 L103.8,783.4 L104.1,783.4 L104.4,783.4 L104.7,783.4 L105,783.4 L105.3,783.4 L105.6,783.4 L105.9,783.4 L106.2,783.4 L106.5,783.4 L106.8,783.4 L107.1,783.4 L107.4,783.4 L107.7,783.4 L108,783.4 L108.3,783.4 L108.6,783.4 L108.9,783.4 L109.2,783.4 L109.5,783.4 L109.8,783.4 L110.1,783.4 L110.4,783.4 L110.7,783.4 L111,783.4 L111.3,783.4 L111.6,783.4 L111.9,783.4 L112.2,783.4 L112.5,783.4 L112.8,783.4 L113.1,783.4 L113.4,783.4 L113.7,783.4 L114,783.4 L114.3,783.4 L114.6,783.4 L114.9,783.4 L115.2,783.4 L115.5,783.4 L115.8,783.4 L116.1,783.4 L116.4,783.4 L116.7,783.4 L117,783.4 L117.3,783.4 L117.6,783.4 L117.9,783.4 L118.2,783.4 L118.5,783.4 L118.8,783.4 L119.1,783.4 L119.4,783.4 L119.7,783.4 L120,783.4 L120.3,783.4 L120.6,783.4 L120.9,783.4 L121.2,783.4 L121.5,783.4 L121.8,783.4 L122.1,783.4 L122.4,783.4 L122.7,783.4 L123,783.4 L123.3,783.4 L123.6,783.4 L123.9,783.4 L124.2,783.4 L124.5,783.4 L124.8,783.4 L125.1,783.4 L125.4,783.4 L125.7,783.4 L126,783.4 L126.3,783.4 L126.6,783.4 L126.9,783.4 L127.2,783.4 L127.5,783.4 L127.8,783.4 L128.1,783.4 L128.4,783.4 L128.7,783.4 L129,783.4 L129.3,783.4 L129.6,783.4 L129.9,783.4 L130.2,783.4 L130.5,783.4 L130.8,783.4 L131.1,783.4 L131.4,783.4 L131.7,783.4 L132,783.4 L132.3,783.4 L132.6,783.4 L132.9,783.4 L133.2,783.4 L133.5,783.4 L133.8,783.4 L134.1,783.4 L134.4,783.4 L134.7,783.4 L135,783.4 L135.3,783.4 L135.6,783.4 L135.9,783.4 L136.2,783.4 L136.5,783.4 L136.8,783.4 L137.1,783.4 L137.4,783.4 L137.7,783.4 L138,783.4 L138.3,783.4 L138.6,783.4 L138.9,783.4 L139.2,783.4 L139.5,783.4 L139.8,783.4 L140.1,783.4 L140.4,783.4 L140.7,783.4 L141,783.4 L141.3,783.4 L141.6,783.4 L141.9,783.4 L142.2,783.4 L142.5,783.4 L142.8,783.4 L143.1,783.4 L143.4,783.4 L143.7,783.4 L144,783.4 L144.3,783.4 L144.6,783.4 L144.9,783.4 L145.2,783.4 L145.5,783.4 L145.8,783.4 L146.1,783.4 L146.4,783.4 L146.7,783.39 L147,783.38 L147.3,783.36 L147.6,783.32 L147.9,783.26 L148.2,783.14 L148.5,782.95 L148.8,782.64 L149.1,782.17 L149.4,781.47 L149.7,780.47 L150,779.11 L150.3,777.34 L150.6,775.14 L150.9,772.52 L151.2,769.57 L151.5,766.42 L151.8,763.27 L152.1,760.37 L152.4,757.96 L152.7,756.26 L153,755.45 L153.3,755.62 L153.6,756.73 L153.9,758.69 L154.2,761.29 L154.5,764.31 L154.8,767.48 L155.1,770.58 L155.4,773.44 L155.7,775.92 L156,777.98 L156.3,779.61 L156.6,780.84 L156.9,781.73 L157.2,782.35 L157.5,782.76 L157.8,783.03 L158.1,783.19 L158.4,783.28 L158.7,783.34 L159,783.37 L159.3,783.38 L159.6,783.39 L159.9,783.4 L160.2,783.4 L160.5,783.4 L160.8,783.4 L161.1,783.4 L161.4,783.4 L161.7,783.4 L162,783.4 L162.3,783.4 L162.6,783.4 L162.9,783.4 L163.2,783.4 L163.5,783.4 L163.8,783.4 L164.1,783.4 L164.4,783.4 L164.7,783.4 L165,783.4 L165.3,783.4 L165.6,783.4 L165.9,783.4 L166.2,783.4 L166.5,783.4 L166.8,783.4 L167.1,783.4 L167.4,783.4 L167.7,783.4 L168,783.4 L168.3,783.4 L168.6,783.4 L168.9,783.4 L169.2,783.4 L169.5,783.4 L169.8,783.4 L170.1,783.4 L170.4,783.4 L170.7,783.4 L171,783.4 L171.3,783.4 L171.6,783.4 L171.9,783.4 L172.2,783.4 L172.5,783.4 L172.8,783.4 L173.1,783.4 L173.4,783.4 L173.7,783.4 L174,783.4 L174.3,783.4 L174.6,783.4 L174.9,783.4 L175.2,783.4 L175.5,783.4 L175.8,783.4 L176.1,783.4 L176.4,783.4 L176.7,783.4 L177,783.4 L177.3,783.4 L177.6,783.4 L177.9,783.4 L178.2,783.4 L178.5,783.4 L178.8,783.4 L179.1,783.4 L179.4,783.4 L179.7,783.4 L180,783.4 L180.3,783.4 L180.6,783.4 L180.9,783.4 L181.2,783.4 L181.5,783.4 L181.8,783.4 L182.1,783.4 L182.4,783.4 L182.7,783.4 L183,783.4 L183.3,783.4 L183.6,783.4 L183.9,783.4 L184.2,783.4 L184.5,783.4 L184.8,783.4 L185.1,783.4 L185.4,783.4 L185.7,783.4 L186,783.4 L186.3,783.4 L186.6,783.4 L186.9,783.4 L187.2,783.4 L187.5,783.4 L187.8,783.4 L188.1,783.4 L188.4,783.4 L188.7,783.4 L189,783.4 L189.3,783.4 L189.6,783.4 L189.9,783.4 L190.2,783.4 L190.5,783.39 L190.8,783.38 L191.1,783.37 L191.4,783.34 L191.7,783.28 L192,783.17 L192.3,782.99 L192.6,782.7 L192.9,782.23 L193.2,781.52 L193.5,780.49 L193.8,779.04 L194.1,777.09 L194.4,774.59 L194.7,771.52 L195,767.93 L195.3,763.96 L195.6,759.82 L195.9,755.77 L196.2,752.16 L196.5,749.29 L196.8,747.44 L197.1,746.8 L197.4,747.44 L197.7,749.29 L198,752.16 L198.3,755.77 L198.6,759.82 L198.9,763.96 L199.2,767.93 L199.5,771.52 L199.8,774.59 L200.1,777.09 L200.4,779.04 L200.7,780.49 L201,781.52 L201.3,782.23 L201.6,782.7 L201.9,782.99 L202.2,783.17 L202.5,783.28 L202.8,783.34 L203.1,783.37 L203.4,783.38 L203.7,783.39 L204,783.4 L204.3,783.4 L204.6,783.4 L204.9,783.4 L205.2,783.4 L205.5,783.4 L205.8,783.4 L206.1,783.4 L206.4,783.4 L206.7,783.4 L207,783.4 L207.3,783.4 L207.6,783.4 L207.9,783.4 L208.2,783.4 L208.5,783.4 L208.8,783.4 L209.1,783.4 L209.4,783.4 L209.7,783.39 L210,783.39 L210.3,783.37 L210.6,783.36 L210.9,783.33 L211.2,783.29 L211.5,783.23 L211.8,783.14 L212.1,783.03 L212.4,782.89 L212.7,782.72 L213,782.53 L213.3,782.32 L213.6,782.1 L213.9,781.9 L214.2,781.72 L214.5,781.59 L214.8,781.51 L215.1,781.5 L215.4,781.56 L215.7,781.67 L216,781.84 L216.3,782.03 L216.6,782.25 L216.9,782.46 L217.2,782.66 L217.5,782.84 L217.8,782.99 L218.1,783.11 L218.4,783.2 L218.7,783.27 L219,783.32 L219.3,783.35 L219.6,783.36 L219.9,783.37 L220.2,783.36 L220.5,783.34 L220.8,783.29 L221.1,783.19 L221.4,783.02 L221.7,782.74 L222,782.29 L222.3,781.6 L222.6,780.58 L222.9,779.12 L223.2,777.14 L223.5,774.55 L223.8,771.33 L224.1,767.51 L224.4,763.19 L224.7,758.59 L225,754 L225.3,749.76 L225.6,746.23 L225.9,743.76 L226.2,742.58 L226.5,742.82 L226.8,744.45 L227.1,747.31 L227.4,751.11 L227.7,755.51 L228,760.14 L228.3,764.67 L228.6,768.85 L228.9,772.48 L229.2,775.49 L229.5,777.86 L229.8,779.66 L230.1,780.96 L230.4,781.87 L230.7,782.47 L231,782.85 L231.3,783.09 L231.6,783.23 L231.9,783.31 L232.2,783.35 L232.5,783.38 L232.8,783.39 L233.1,783.39 L233.4,783.39 L233.7,783.38 L234,783.37 L234.3,783.34 L234.6,783.29 L234.9,783.19 L235.2,783.04 L235.5,782.79 L235.8,782.41 L236.1,781.85 L236.4,781.05 L236.7,779.96 L237,778.53 L237.3,776.76 L237.6,774.66 L237.9,772.28 L238.2,769.75 L238.5,767.23 L238.8,764.89 L239.1,762.95 L239.4,761.59 L239.7,760.94 L240,761.07 L240.3,761.97 L240.6,763.53 L240.9,765.6 L241.2,767.99 L241.5,770.48 L241.8,772.88 L242.1,775 L242.4,776.71 L242.7,777.91 L243,778.52 L243.3,778.5 L243.6,777.8 L243.9,776.4 L244.2,774.29 L244.5,771.51 L244.8,768.14 L245.1,764.35 L245.4,760.35 L245.7,756.43 L246,752.91 L246.3,750.12 L246.6,748.32 L246.9,747.7 L247.2,748.32 L247.5,750.12 L247.8,752.92 L248.1,756.45 L248.4,760.4 L248.7,764.44 L249,768.31 L249.3,771.81 L249.6,774.8 L249.9,777.24 L250.2,779.14 L250.5,780.56 L250.8,781.57 L251.1,782.26 L251.4,782.72 L251.7,783 L252,783.18 L252.3,783.28 L252.6,783.34 L252.9,783.37 L253.2,783.38 L253.5,783.39 L253.8,783.4 L254.1,783.4 L254.4,783.4 L254.7,783.4 L255,783.4 L255.3,783.4 L255.6,783.4 L255.9,783.4 L256.2,783.4 L256.5,783.4 L256.8,783.4 L257.1,783.4 L257.4,783.4 L257.7,783.4 L258,783.4 L258.3,783.4 L258.6,783.4 L258.9,783.4 L259.2,783.4 L259.5,783.4 L259.8,783.4 L260.1,783.4 L260.4,783.4 L260.7,783.4 L261,783.4 L261.3,783.4 L261.6,783.4 L261.9,783.4 L262.2,783.4 L262.5,783.4 L262.8,783.4 L263.1,783.4 L263.4,783.4 L263.7,783.4 L264,783.4 L264.3,783.4 L264.6,783.4 L264.9,783.4 L265.2,783.4 L265.5,783.4 L265.8,783.4 L266.1,783.4 L266.4,783.4 L266.7,783.4 L267,783.4 L267.3,783.4 L267.6,783.4 L267.9,783.4 L268.2,783.4 L268.5,783.4 L268.8,783.4 L269.1,783.4 L269.4,783.4 L269.7,783.4 L270,783.4 L270.3,783.4 L270.6,783.4 L270.9,783.4 L271.2,783.4 L271.5,783.4 L271.8,783.4 L272.1,783.4 L272.4,783.4 L272.7,783.4 L273,783.4 L273.3,783.4 L273.6,783.4 L273.9,783.4 L274.2,783.4 L274.5,783.4 L274.8,783.4 L275.1,783.4 L275.4,783.4 L275.7,783.4 L276,783.4 L276.3,783.4 L276.6,783.4 L276.9,783.4 L277.2,783.4 L277.5,783.4 L277.8,783.4 L278.1,783.4 L278.4,783.4 L278.7,783.39 L279,783.39 L279.3,783.37 L279.6,783.35 L279.9,783.3 L280.2,783.21 L280.5,783.06 L280.8,782.81 L281.1,782.41 L281.4,781.79 L281.7,780.88 L282,779.57 L282.3,777.8 L282.6,775.48 L282.9,772.6 L283.2,769.18 L283.5,765.32 L283.8,761.2 L284.1,757.09 L284.4,753.29 L284.7,750.14 L285,747.92 L285.3,746.87 L285.6,747.08 L285.9,748.53 L286.2,751.07 L286.5,754.44 L286.8,758.33 L287.1,762.37 L287.4,766.26 L287.7,769.72 L288,772.54 L288.3,774.57 L288.6,775.73 L288.9,775.98 L289.2,775.32 L289.5,773.79 L289.8,771.46 L290.1,768.46 L290.4,764.96 L290.7,761.21 L291,757.5 L291.3,754.16 L291.6,751.5 L291.9,749.79 L292.2,749.2 L292.5,749.79 L292.8,751.52 L293.1,754.2 L293.4,757.58 L293.7,761.36 L294,765.24 L294.3,768.95 L294.6,772.3 L294.9,775.16 L295.2,777.5 L295.5,779.32 L295.8,780.68 L296.1,781.65 L296.4,782.31 L296.7,782.74 L297,783.02 L297.3,783.19 L297.6,783.29 L297.9,783.34 L298.2,783.37 L298.5,783.39 L298.8,783.39 L299.1,783.4 L299.4,783.4 L299.7,783.4 L300,783.4 L300.3,783.4 L300.6,783.4 L300.9,783.4 L301.2,783.4 L301.5,783.4 L301.8,783.4 L302.1,783.4 L302.4,783.4 L302.7,783.4 L303,783.4 L303.3,783.4" stroke="#56a77a" stroke-width="1.1" fill="none" stroke-linejoin="round"/>
<path d="M19.8,783.4 L20.1,783.4 L20.4,783.4 L20.7,783.4 L21,783.4 L21.3,783.4 L21.6,783.4 L21.9,783.4 L22.2,783.4 L22.5,783.4 L22.8,783.4 L23.1,783.4 L23.4,783.4 L23.7,783.4 L24,783.4 L24.3,783.4 L24.6,783.4 L24.9,783.4 L25.2,783.4 L25.5,783.4 L25.8,783.4 L26.1,783.4 L26.4,783.4 L26.7,783.4 L27,783.4 L27.3,783.4 L27.6,783.4 L27.9,783.4 L28.2,783.4 L28.5,783.4 L28.8,783.4 L29.1,783.4 L29.4,783.4 L29.7,783.4 L30,783.4 L30.3,783.4 L30.6,783.4 L30.9,783.4 L31.2,783.4 L31.5,783.4 L31.8,783.4 L32.1,783.4 L32.4,783.4 L32.7,783.4 L33,783.4 L33.3,783.4 L33.6,783.4 L33.9,783.4 L34.2,783.4 L34.5,783.4 L34.8,783.4 L35.1,783.4 L35.4,783.4 L35.7,783.4 L36,783.4 L36.3,783.4 L36.6,783.4 L36.9,783.4 L37.2,783.4 L37.5,783.4 L37.8,783.4 L38.1,783.4 L38.4,783.4 L38.7,783.4 L39,783.4 L39.3,783.4 L39.6,783.4 L39.9,783.4 L40.2,783.4 L40.5,783.4 L40.8,783.4 L41.1,783.4 L41.4,783.4 L41.7,783.39 L42,783.39 L42.3,783.37 L42.6,783.35 L42.9,783.29 L43.2,783.2 L43.5,783.04 L43.8,782.77 L44.1,782.35 L44.4,781.69 L44.7,780.71 L45,779.32 L45.3,777.43 L45.6,774.97 L45.9,771.89 L46.2,768.25 L46.5,764.13 L46.8,759.75 L47.1,755.36 L47.4,751.32 L47.7,747.96 L48,745.6 L48.3,744.48 L48.6,744.7 L48.9,746.26 L49.2,748.98 L49.5,752.61 L49.8,756.8 L50.1,761.22 L50.4,765.54 L50.7,769.52 L51,772.98 L51.3,775.85 L51.6,778.12 L51.9,779.84 L52.2,781.08 L52.5,781.94 L52.8,782.51 L53.1,782.88 L53.4,783.1 L53.7,783.24 L54,783.31 L54.3,783.35 L54.6,783.37 L54.9,783.37 L55.2,783.37 L55.5,783.35 L55.8,783.32 L56.1,783.28 L56.4,783.21 L56.7,783.11 L57,782.99 L57.3,782.82 L57.6,782.62 L57.9,782.39 L58.2,782.13 L58.5,781.85 L58.8,781.59 L59.1,781.35 L59.4,781.16 L59.7,781.04 L60,781 L60.3,781.04 L60.6,781.16 L60.9,781.35 L61.2,781.59 L61.5,781.85 L61.8,782.13 L62.1,782.39 L62.4,782.62 L62.7,782.82 L63,782.99 L63.3,783.11 L63.6,783.21 L63.9,783.28 L64.2,783.32 L64.5,783.35 L64.8,783.37 L65.1,783.39 L65.4,783.39 L65.7,783.4 L66,783.4 L66.3,783.4 L66.6,783.4 L66.9,783.4 L67.2,783.4 L67.5,783.4 L67.8,783.4 L68.1,783.4 L68.4,783.4 L68.7,783.4 L69,783.4 L69.3,783.4 L69.6,783.4 L69.9,783.4 L70.2,783.4 L70.5,783.4 L70.8,783.4 L71.1,783.4 L71.4,783.4 L71.7,783.39 L72,783.39 L72.3,783.37 L72.6,783.34 L72.9,783.29 L73.2,783.2 L73.5,783.04 L73.8,782.78 L74.1,782.36 L74.4,781.73 L74.7,780.81 L75,779.51 L75.3,777.78 L75.6,775.55 L75.9,772.82 L76.2,769.62 L76.5,766.09 L76.8,762.39 L77.1,758.79 L77.4,755.57 L77.7,753.01 L78,751.37 L78.3,750.8 L78.6,751.37 L78.9,753.01 L79.2,755.57 L79.5,758.78 L79.8,762.37 L80.1,766.04 L80.4,769.53 L80.7,772.65 L81,775.24 L81.3,777.23 L81.6,778.58 L81.9,779.27 L82.2,779.29 L82.5,778.62 L82.8,777.24 L83.1,775.12 L83.4,772.27 L83.7,768.74 L84,764.62 L84.3,760.11 L84.6,755.49 L84.9,751.1 L85.2,747.3 L85.5,744.45 L85.8,742.82 L86.1,742.58 L86.4,743.76 L86.7,746.23 L87,749.76 L87.3,754 L87.6,758.59 L87.9,763.19 L88.2,767.51 L88.5,771.33 L88.8,774.55 L89.1,777.14 L89.4,779.12 L89.7,780.58 L90,781.6 L90.3,782.3 L90.6,782.74 L90.9,783.02 L91.2,783.19 L91.5,783.29 L91.8,783.34 L92.1,783.37 L92.4,783.39 L92.7,783.39 L93,783.4 L93.3,783.4 L93.6,783.39 L93.9,783.39 L94.2,783.37 L94.5,783.34 L94.8,783.29 L95.1,783.19 L95.4,783.03 L95.7,782.76 L96,782.34 L96.3,781.7 L96.6,780.76 L96.9,779.44 L97.2,777.68 L97.5,775.41 L97.8,772.62 L98.1,769.37 L98.4,765.77 L98.7,762.01 L99,758.34 L99.3,755.06 L99.6,752.45 L99.9,750.78 L100.2,750.2 L100.5,750.78 L100.8,752.45 L101.1,755.04 L101.4,758.31 L101.7,761.95 L102,765.65 L102.3,769.15 L102.6,772.23 L102.9,774.72 L103.2,776.52 L103.5,777.56 L103.8,777.81 L104.1,777.22 L104.4,775.79 L104.7,773.51 L105,770.4 L105.3,766.56 L105.6,762.14 L105.9,757.38 L106.2,752.6 L106.5,748.18 L106.8,744.5 L107.1,741.91 L107.4,740.68 L107.7,740.93 L108,742.64 L108.3,745.63 L108.6,749.61 L108.9,754.21 L109.2,759.06 L109.5,763.8 L109.8,768.17 L110.1,771.97 L110.4,775.12 L110.7,777.61 L111,779.49 L111.3,780.85 L111.6,781.79 L111.9,782.42 L112.2,782.82 L112.5,783.07 L112.8,783.21 L113.1,783.28 L113.4,783.31 L113.7,783.31 L114,783.28 L114.3,783.23 L114.6,783.15 L114.9,783.03 L115.2,782.88 L115.5,782.69 L115.8,782.47 L116.1,782.21 L116.4,781.94 L116.7,781.67 L117,781.43 L117.3,781.22 L117.6,781.07 L117.9,781 L118.2,781.02 L118.5,781.11 L118.8,781.28 L119.1,781.51 L119.4,781.76 L119.7,782.04 L120,782.3 L120.3,782.55 L120.6,782.76 L120.9,782.94 L121.2,783.08 L121.5,783.18 L121.8,783.26 L122.1,783.31 L122.4,783.35 L122.7,783.37 L123,783.38 L123.3,783.39 L123.6,783.39 L123.9,783.4 L124.2,783.4 L124.5,783.4 L124.8,783.4 L125.1,783.4 L125.4,783.4 L125.7,783.4 L126,783.4 L126.3,783.4 L126.6,783.4 L126.9,783.4 L127.2,783.4 L127.5,783.4 L127.8,783.4 L128.1,783.4 L128.4,783.4 L128.7,783.4 L129,783.4 L129.3,783.4 L129.6,783.4 L129.9,783.4 L130.2,783.4 L130.5,783.4 L130.8,783.4 L131.1,783.4 L131.4,783.4 L131.7,783.4 L132,783.4 L132.3,783.4 L132.6,783.4 L132.9,783.4 L133.2,783.4 L133.5,783.4 L133.8,783.4 L134.1,783.4 L134.4,783.4 L134.7,783.4 L135,783.4 L135.3,783.4 L135.6,783.4 L135.9,783.4 L136.2,783.4 L136.5,783.4 L136.8,783.4 L137.1,783.4 L137.4,783.4 L137.7,783.4 L138,783.4 L138.3,783.4 L138.6,783.4 L138.9,783.4 L139.2,783.4 L139.5,783.4 L139.8,783.39 L140.1,783.38 L140.4,783.36 L140.7,783.32 L141,783.24 L141.3,783.11 L141.6,782.88 L141.9,782.52 L142.2,781.94 L142.5,781.09 L142.8,779.85 L143.1,778.15 L143.4,775.89 L143.7,773.04 L144,769.59 L144.3,765.64 L144.6,761.34 L144.9,756.94 L145.2,752.77 L145.5,749.16 L145.8,746.45 L146.1,744.9 L146.4,744.68 L146.7,745.79 L147,748.14 L147.3,751.48 L147.6,755.51 L147.9,759.87 L148.2,764.23 L148.5,768.32 L148.8,771.95 L149.1,775.01 L149.4,777.46 L149.7,779.34 L150,780.72 L150.3,781.7 L150.6,782.35 L150.9,782.78 L151.2,783.04 L151.5,783.2 L151.8,783.29 L152.1,783.35 L152.4,783.37 L152.7,783.39 L153,783.39 L153.3,783.4 L153.6,783.4 L153.9,783.4 L154.2,783.4 L154.5,783.4 L154.8,783.4 L155.1,783.4 L155.4,783.4 L155.7,783.4 L156,783.4 L156.3,783.4 L156.6,783.4 L156.9,783.4 L157.2,783.4 L157.5,783.4 L157.8,783.4 L158.1,783.4 L158.4,783.4 L158.7,783.4 L159,783.4 L159.3,783.4 L159.6,783.4 L159.9,783.4 L160.2,783.4 L160.5,783.4 L160.8,783.4 L161.1,783.39 L161.4,783.38 L161.7,783.36 L162,783.32 L162.3,783.25 L162.6,783.13 L162.9,782.93 L163.2,782.6 L163.5,782.1 L163.8,781.36 L164.1,780.3 L164.4,778.87 L164.7,777 L165,774.67 L165.3,771.9 L165.6,768.78 L165.9,765.45 L166.2,762.12 L166.5,759.05 L166.8,756.5 L167.1,754.71 L167.4,753.86 L167.7,754.03 L168,755.2 L168.3,757.26 L168.6,759.99 L168.9,763.14 L169.2,766.43 L169.5,769.59 L169.8,772.4 L170.1,774.69 L170.4,776.34 L170.7,777.25 L171,777.36 L171.3,776.64 L171.6,775.07 L171.9,772.64 L172.2,769.4 L172.5,765.47 L172.8,761.02 L173.1,756.34 L173.4,751.74 L173.7,747.61 L174,744.34 L174.3,742.23 L174.6,741.5 L174.9,742.23 L175.2,744.34 L175.5,747.63 L175.8,751.76 L176.1,756.38 L176.4,761.11 L176.7,765.61 L177,769.64 L177.3,773.03 L177.6,775.68 L177.9,777.56 L178.2,778.67 L178.5,779.04 L178.8,778.66 L179.1,777.56 L179.4,775.74 L179.7,773.21 L180,770.02 L180.3,766.3 L180.6,762.21 L180.9,758.01 L181.2,754.02 L181.5,750.57 L181.8,747.97 L182.1,746.49 L182.4,746.27 L182.7,747.34 L183,749.6 L183.3,752.8 L183.6,756.66 L183.9,760.84 L184.2,765.02 L184.5,768.95 L184.8,772.43 L185.1,775.35 L185.4,777.71 L185.7,779.51 L186,780.83 L186.3,781.77 L186.6,782.4 L186.9,782.8 L187.2,783.06 L187.5,783.21 L187.8,783.3 L188.1,783.35 L188.4,783.37 L188.7,783.39 L189,783.39 L189.3,783.4 L189.6,783.4 L189.9,783.4 L190.2,783.4 L190.5,783.4 L190.8,783.4 L191.1,783.4 L191.4,783.4 L191.7,783.4 L192,783.4 L192.3,783.4 L192.6,783.4 L192.9,783.4 L193.2,783.4 L193.5,783.4 L193.8,783.4 L194.1,783.4 L194.4,783.4 L194.7,783.4 L195,783.4 L195.3,783.4 L195.6,783.4 L195.9,783.4 L196.2,783.4 L196.5,783.4 L196.8,783.4 L197.1,783.4 L197.4,783.4 L197.7,783.39 L198,783.38 L198.3,783.36 L198.6,783.32 L198.9,783.26 L199.2,783.14 L199.5,782.93 L199.8,782.61 L200.1,782.09 L200.4,781.33 L200.7,780.22 L201,778.69 L201.3,776.67 L201.6,774.11 L201.9,771.02 L202.2,767.47 L202.5,763.61 L202.8,759.67 L203.1,755.92 L203.4,752.69 L203.7,750.26 L204,748.87 L204.3,748.67 L204.6,749.67 L204.9,751.77 L205.2,754.76 L205.5,758.35 L205.8,762.23 L206.1,766.09 L206.4,769.66 L206.7,772.74 L207,775.2 L207.3,776.95 L207.6,777.96 L207.9,778.21 L208.2,777.69 L208.5,776.41 L208.8,774.39 L209.1,771.68 L209.4,768.39 L209.7,764.66 L210,760.73 L210.3,756.88 L210.6,753.42 L210.9,750.68 L211.2,748.91 L211.5,748.3 L211.8,748.91 L212.1,750.68 L212.4,753.44 L212.7,756.91 L213,760.78 L213.3,764.76 L213.6,768.57 L213.9,772 L214.2,774.95 L214.5,777.35 L214.8,779.22 L215.1,780.61 L215.4,781.6 L215.7,782.28 L216,782.73 L216.3,783.01 L216.6,783.18 L216.9,783.28 L217.2,783.34 L217.5,783.37 L217.8,783.38 L218.1,783.39 L218.4,783.4 L218.7,783.4 L219,783.4 L219.3,783.4 L219.6,783.4 L219.9,783.4 L220.2,783.4 L220.5,783.4 L220.8,783.4 L221.1,783.4 L221.4,783.4 L221.7,783.4 L222,783.4 L222.3,783.4 L222.6,783.4 L222.9,783.4 L223.2,783.4 L223.5,783.4 L223.8,783.4 L224.1,783.4 L224.4,783.4 L224.7,783.4 L225,783.4 L225.3,783.4 L225.6,783.4 L225.9,783.4 L226.2,783.4 L226.5,783.39 L226.8,783.39 L227.1,783.37 L227.4,783.34 L227.7,783.29 L228,783.2 L228.3,783.05 L228.6,782.79 L228.9,782.39 L229.2,781.77 L229.5,780.88 L229.8,779.62 L230.1,777.93 L230.4,775.77 L230.7,773.11 L231,770 L231.3,766.56 L231.6,762.97 L231.9,759.47 L232.2,756.34 L232.5,753.85 L232.8,752.25 L233.1,751.7 L233.4,752.25 L233.7,753.85 L234,756.34 L234.3,759.47 L234.6,762.97 L234.9,766.56 L235.2,770 L235.5,773.11 L235.8,775.77 L236.1,777.93 L236.4,779.62 L236.7,780.88 L237,781.77 L237.3,782.39 L237.6,782.79 L237.9,783.05 L238.2,783.2 L238.5,783.29 L238.8,783.34 L239.1,783.37 L239.4,783.39 L239.7,783.39 L240,783.4 L240.3,783.4 L240.6,783.4 L240.9,783.4 L241.2,783.4 L241.5,783.4 L241.8,783.4 L242.1,783.4 L242.4,783.4 L242.7,783.4 L243,783.4 L243.3,783.4 L243.6,783.4 L243.9,783.4 L244.2,783.4 L244.5,783.4 L244.8,783.4 L245.1,783.4 L245.4,783.4 L245.7,783.4 L246,783.4 L246.3,783.4 L246.6,783.4 L246.9,783.4 L247.2,783.4 L247.5,783.4 L247.8,783.4 L248.1,783.4 L248.4,783.4 L248.7,783.4 L249,783.4 L249.3,783.4 L249.6,783.4 L249.9,783.4 L250.2,783.4 L250.5,783.4 L250.8,783.4 L251.1,783.4 L251.4,783.4 L251.7,783.4 L252,783.4 L252.3,783.4 L252.6,783.39 L252.9,783.39 L253.2,783.37 L253.5,783.35 L253.8,783.32 L254.1,783.28 L254.4,783.21 L254.7,783.11 L255,782.99 L255.3,782.82 L255.6,782.62 L255.9,782.39 L256.2,782.13 L256.5,781.85 L256.8,781.59 L257.1,781.35 L257.4,781.16 L257.7,781.04 L258,781 L258.3,781.04 L258.6,781.16 L258.9,781.35 L259.2,781.59 L259.5,781.85 L259.8,782.13 L260.1,782.39 L260.4,782.62 L260.7,782.82 L261,782.99 L261.3,783.11 L261.6,783.21 L261.9,783.28 L262.2,783.32 L262.5,783.35 L262.8,783.37 L263.1,783.39 L263.4,783.39 L263.7,783.4 L264,783.4 L264.3,783.4 L264.6,783.4 L264.9,783.4 L265.2,783.4 L265.5,783.4 L265.8,783.4 L266.1,783.4 L266.4,783.4 L266.7,783.4 L267,783.4 L267.3,783.4 L267.6,783.4 L267.9,783.4 L268.2,783.4 L268.5,783.4 L268.8,783.4 L269.1,783.4 L269.4,783.4 L269.7,783.4 L270,783.4 L270.3,783.4 L270.6,783.4 L270.9,783.4 L271.2,783.4 L271.5,783.4 L271.8,783.4 L272.1,783.4 L272.4,783.4 L272.7,783.4 L273,783.4 L273.3,783.4 L273.6,783.4 L273.9,783.4 L274.2,783.4 L274.5,783.4 L274.8,783.4 L275.1,783.4 L275.4,783.4 L275.7,783.4 L276,783.4 L276.3,783.4 L276.6,783.4 L276.9,783.4 L277.2,783.4 L277.5,783.4 L277.8,783.4 L278.1,783.4 L278.4,783.4 L278.7,783.4 L279,783.4 L279.3,783.4 L279.6,783.4 L279.9,783.4 L280.2,783.4 L280.5,783.4 L280.8,783.4 L281.1,783.4 L281.4,783.4 L281.7,783.4 L282,783.4 L282.3,783.4 L282.6,783.4 L282.9,783.4 L283.2,783.4 L283.5,783.4 L283.8,783.4 L284.1,783.4 L284.4,783.4 L284.7,783.4 L285,783.4 L285.3,783.4 L285.6,783.4 L285.9,783.4 L286.2,783.4 L286.5,783.4 L286.8,783.4 L287.1,783.4 L287.4,783.4 L287.7,783.4 L288,783.4 L288.3,783.4 L288.6,783.4 L288.9,783.4 L289.2,783.4 L289.5,783.4 L289.8,783.4 L290.1,783.4 L290.4,783.4 L290.7,783.4 L291,783.4 L291.3,783.4 L291.6,783.4 L291.9,783.4 L292.2,783.4 L292.5,783.4 L292.8,783.4 L293.1,783.4 L293.4,783.4 L293.7,783.4 L294,783.4 L294.3,783.4 L294.6,783.4 L294.9,783.4 L295.2,783.4 L295.5,783.4 L295.8,783.4 L296.1,783.4 L296.4,783.4 L296.7,783.4 L297,783.4 L297.3,783.4 L297.6,783.4 L297.9,783.4 L298.2,783.4 L298.5,783.4 L298.8,783.4 L299.1,783.4 L299.4,783.4 L299.7,783.4 L300,783.4 L300.3,783.4 L300.6,783.4 L300.9,783.4 L301.2,783.4 L301.5,783.4 L301.8,783.4 L302.1,783.4 L302.4,783.4 L302.7,783.4 L303,783.4 L303.3,783.4" stroke="#5656a6" stroke-width="1.1" fill="none" stroke-linejoin="round"/>
<path d="M19.8,783.39 L20.1,783.39 L20.4,783.38 L20.7,783.36 L21,783.33 L21.3,783.28 L21.6,783.2 L21.9,783.09 L22.2,782.94 L22.5,782.73 L22.8,782.46 L23.1,782.13 L23.4,781.75 L23.7,781.33 L24,780.89 L24.3,780.46 L24.6,780.07 L24.9,779.76 L25.2,779.57 L25.5,779.5 L25.8,779.57 L26.1,779.76 L26.4,780.07 L26.7,780.45 L27,780.87 L27.3,781.3 L27.6,781.7 L27.9,782.04 L28.2,782.3 L28.5,782.47 L28.8,782.53 L29.1,782.47 L29.4,782.3 L29.7,782 L30,781.58 L30.3,781.06 L30.6,780.46 L30.9,779.81 L31.2,779.15 L31.5,778.54 L31.8,778.04 L32.1,777.68 L32.4,777.51 L32.7,777.54 L33,777.78 L33.3,778.19 L33.6,778.73 L33.9,779.36 L34.2,780.02 L34.5,780.65 L34.8,781.22 L35.1,781.7 L35.4,782.07 L35.7,782.32 L36,782.45 L36.3,782.47 L36.6,782.4 L36.9,782.25 L37.2,782.05 L37.5,781.81 L37.8,781.56 L38.1,781.34 L38.4,781.16 L38.7,781.04 L39,781 L39.3,781.04 L39.6,781.16 L39.9,781.35 L40.2,781.59 L40.5,781.85 L40.8,782.13 L41.1,782.39 L41.4,782.62 L41.7,782.82 L42,782.99 L42.3,783.11 L42.6,783.21 L42.9,783.28 L43.2,783.32 L43.5,783.35 L43.8,783.37 L44.1,783.39 L44.4,783.39 L44.7,783.4 L45,783.4 L45.3,783.4 L45.6,783.4 L45.9,783.4 L46.2,783.4 L46.5,783.4 L46.8,783.4 L47.1,783.4 L47.4,783.4 L47.7,783.4 L48,783.4 L48.3,783.4 L48.6,783.4 L48.9,783.4 L49.2,783.4 L49.5,783.4 L49.8,783.4 L50.1,783.4 L50.4,783.4 L50.7,783.4 L51,783.4 L51.3,783.4 L51.6,783.4 L51.9,783.4 L52.2,783.4 L52.5,783.4 L52.8,783.4 L53.1,783.4 L53.4,783.4 L53.7,783.4 L54,783.4 L54.3,783.4 L54.6,783.4 L54.9,783.4 L55.2,783.4 L55.5,783.4 L55.8,783.4 L56.1,783.4 L56.4,783.4 L56.7,783.4 L57,783.4 L57.3,783.39 L57.6,783.39 L57.9,783.37 L58.2,783.35 L58.5,783.29 L58.8,783.2 L59.1,783.04 L59.4,782.77 L59.7,782.35 L60,781.69 L60.3,780.71 L60.6,779.32 L60.9,777.43 L61.2,774.97 L61.5,771.89 L61.8,768.25 L62.1,764.13 L62.4,759.75 L62.7,755.36 L63,751.32 L63.3,747.96 L63.6,745.6 L63.9,744.48 L64.2,744.7 L64.5,746.26 L64.8,748.98 L65.1,752.61 L65.4,756.8 L65.7,761.22 L66,765.54 L66.3,769.52 L66.6,772.98 L66.9,775.85 L67.2,778.12 L67.5,779.84 L67.8,781.08 L68.1,781.94 L68.4,782.51 L68.7,782.88 L69,783.1 L69.3,783.24 L69.6,783.31 L69.9,783.34 L70.2,783.36 L70.5,783.35 L70.8,783.33 L71.1,783.3 L71.4,783.25 L71.7,783.17 L72,783.07 L72.3,782.94 L72.6,782.78 L72.9,782.6 L73.2,782.39 L73.5,782.18 L73.8,781.97 L74.1,781.78 L74.4,781.63 L74.7,781.53 L75,781.5 L75.3,781.53 L75.6,781.63 L75.9,781.78 L76.2,781.97 L76.5,782.18 L76.8,782.39 L77.1,782.6 L77.4,782.78 L77.7,782.94 L78,783.07 L78.3,783.17 L78.6,783.25 L78.9,783.3 L79.2,783.34 L79.5,783.36 L79.8,783.38 L80.1,783.39 L80.4,783.39 L80.7,783.4 L81,783.4 L81.3,783.4 L81.6,783.4 L81.9,783.4 L82.2,783.4 L82.5,783.4 L82.8,783.4 L83.1,783.4 L83.4,783.4 L83.7,783.4 L84,783.4 L84.3,783.4 L84.6,783.4 L84.9,783.4 L85.2,783.4 L85.5,783.4 L85.8,783.4 L86.1,783.4 L86.4,783.4 L86.7,783.4 L87,783.4 L87.3,783.4 L87.6,783.4 L87.9,783.4 L88.2,783.4 L88.5,783.4 L88.8,783.4 L89.1,783.4 L89.4,783.4 L89.7,783.4 L90,783.4 L90.3,783.4 L90.6,783.4 L90.9,783.4 L91.2,783.4 L91.5,783.39 L91.8,783.39 L92.1,783.38 L92.4,783.36 L92.7,783.34 L93,783.29 L93.3,783.23 L93.6,783.15 L93.9,783.03 L94.2,782.88 L94.5,782.69 L94.8,782.47 L95.1,782.21 L95.4,781.94 L95.7,781.67 L96,781.43 L96.3,781.22 L96.6,781.07 L96.9,781 L97.2,781.02 L97.5,781.11 L97.8,781.28 L98.1,781.51 L98.4,781.76 L98.7,782.04 L99,782.3 L99.3,782.55 L99.6,782.76 L99.9,782.94 L100.2,783.08 L100.5,783.18 L100.8,783.26 L101.1,783.31 L101.4,783.35 L101.7,783.37 L102,783.38 L102.3,783.39 L102.6,783.39 L102.9,783.4 L103.2,783.4 L103.5,783.4 L103.8,783.4 L104.1,783.4 L104.4,783.4 L104.7,783.4 L105,783.4 L105.3,783.4 L105.6,783.4 L105.9,783.4 L106.2,783.4 L106.5,783.4 L106.8,783.4 L107.1,783.4 L107.4,783.4 L107.7,783.4 L108,783.4 L108.3,783.4 L108.6,783.39 L108.9,783.38 L109.2,783.37 L109.5,783.33 L109.8,783.27 L110.1,783.16 L110.4,782.98 L110.7,782.67 L111,782.19 L111.3,781.46 L111.6,780.38 L111.9,778.88 L112.2,776.87 L112.5,774.27 L112.8,771.1 L113.1,767.38 L113.4,763.27 L113.7,758.98 L114,754.79 L114.3,751.05 L114.6,748.07 L114.9,746.16 L115.2,745.5 L115.5,746.16 L115.8,748.07 L116.1,751.05 L116.4,754.79 L116.7,758.98 L117,763.27 L117.3,767.38 L117.6,771.1 L117.9,774.27 L118.2,776.87 L118.5,778.88 L118.8,780.38 L119.1,781.46 L119.4,782.19 L119.7,782.67 L120,782.98 L120.3,783.16 L120.6,783.27 L120.9,783.33 L121.2,783.37 L121.5,783.38 L121.8,783.39 L122.1,783.4 L122.4,783.4 L122.7,783.4 L123,783.4 L123.3,783.4 L123.6,783.4 L123.9,783.4 L124.2,783.4 L124.5,783.4 L124.8,783.4 L125.1,783.4 L125.4,783.4 L125.7,783.4 L126,783.4 L126.3,783.4 L126.6,783.4 L126.9,783.4 L127.2,783.4 L127.5,783.4 L127.8,783.4 L128.1,783.4 L128.4,783.4 L128.7,783.4 L129,783.4 L129.3,783.4 L129.6,783.4 L129.9,783.4 L130.2,783.4 L130.5,783.4 L130.8,783.4 L131.1,783.4 L131.4,783.4 L131.7,783.4 L132,783.4 L132.3,783.4 L132.6,783.39 L132.9,783.39 L133.2,783.38 L133.5,783.35 L133.8,783.31 L134.1,783.23 L134.4,783.1 L134.7,782.88 L135,782.53 L135.3,782 L135.6,781.22 L135.9,780.13 L136.2,778.68 L136.5,776.8 L136.8,774.5 L137.1,771.82 L137.4,768.85 L137.7,765.74 L138,762.72 L138.3,760.01 L138.6,757.86 L138.9,756.48 L139.2,756 L139.5,756.48 L139.8,757.86 L140.1,760.01 L140.4,762.72 L140.7,765.74 L141,768.85 L141.3,771.82 L141.6,774.5 L141.9,776.8 L142.2,778.68 L142.5,780.13 L142.8,781.22 L143.1,782 L143.4,782.53 L143.7,782.87 L144,783.09 L144.3,783.23 L144.6,783.3 L144.9,783.34 L145.2,783.35 L145.5,783.34 L145.8,783.32 L146.1,783.27 L146.4,783.21 L146.7,783.11 L147,782.99 L147.3,782.82 L147.6,782.62 L147.9,782.39 L148.2,782.13 L148.5,781.85 L148.8,781.59 L149.1,781.35 L149.4,781.16 L149.7,781.04 L150,781 L150.3,781.04 L150.6,781.16 L150.9,781.35 L151.2,781.59 L151.5,781.85 L151.8,782.13 L152.1,782.39 L152.4,782.62 L152.7,782.82 L153,782.99 L153.3,783.11 L153.6,783.21 L153.9,783.28 L154.2,783.32 L154.5,783.35 L154.8,783.37 L155.1,783.39 L155.4,783.39 L155.7,783.4 L156,783.4 L156.3,783.4 L156.6,783.4 L156.9,783.4 L157.2,783.4 L157.5,783.4 L157.8,783.4 L158.1,783.4 L158.4,783.4 L158.7,783.4 L159,783.4 L159.3,783.4 L159.6,783.4 L159.9,783.4 L160.2,783.4 L160.5,783.4 L160.8,783.4 L161.1,783.4 L161.4,783.4 L161.7,783.4 L162,783.4 L162.3,783.4 L162.6,783.4 L162.9,783.4 L163.2,783.4 L163.5,783.4 L163.8,783.4 L164.1,783.4 L164.4,783.4 L164.7,783.4 L165,783.4 L165.3,783.4 L165.6,783.4 L165.9,783.4 L166.2,783.4 L166.5,783.4 L166.8,783.4 L167.1,783.4 L167.4,783.4 L167.7,783.4 L168,783.4 L168.3,783.4 L168.6,783.4 L168.9,783.4 L169.2,783.4 L169.5,783.4 L169.8,783.4 L170.1,783.4 L170.4,783.4 L170.7,783.4 L171,783.4 L171.3,783.4 L171.6,783.4 L171.9,783.4 L172.2,783.4 L172.5,783.4 L172.8,783.4 L173.1,783.4 L173.4,783.4 L173.7,783.4 L174,783.4 L174.3,783.4 L174.6,783.4 L174.9,783.4 L175.2,783.4 L175.5,783.4 L175.8,783.4 L176.1,783.4 L176.4,783.4 L176.7,783.4 L177,783.4 L177.3,783.4 L177.6,783.4 L177.9,783.4 L178.2,783.4 L178.5,783.4 L178.8,783.4 L179.1,783.4 L179.4,783.4 L179.7,783.4 L180,783.4 L180.3,783.4 L180.6,783.4 L180.9,783.4 L181.2,783.4 L181.5,783.4 L181.8,783.4 L182.1,783.4 L182.4,783.4 L182.7,783.4 L183,783.4 L183.3,783.39 L183.6,783.39 L183.9,783.37 L184.2,783.35 L184.5,783.3 L184.8,783.21 L185.1,783.06 L185.4,782.81 L185.7,782.41 L186,781.79 L186.3,780.88 L186.6,779.57 L186.9,777.8 L187.2,775.48 L187.5,772.6 L187.8,769.18 L188.1,765.32 L188.4,761.2 L188.7,757.09 L189,753.29 L189.3,750.14 L189.6,747.93 L189.9,746.87 L190.2,747.08 L190.5,748.54 L190.8,751.1 L191.1,754.5 L191.4,758.44 L191.7,762.59 L192,766.64 L192.3,770.38 L192.6,773.63 L192.9,776.32 L193.2,778.45 L193.5,780.05 L193.8,781.22 L194.1,782.03 L194.4,782.57 L194.7,782.91 L195,783.12 L195.3,783.25 L195.6,783.32 L195.9,783.36 L196.2,783.38 L196.5,783.39 L196.8,783.4 L197.1,783.4 L197.4,783.4 L197.7,783.4 L198,783.4 L198.3,783.4 L198.6,783.4 L198.9,783.4 L199.2,783.4 L199.5,783.4 L199.8,783.4 L200.1,783.4 L200.4,783.4 L200.7,783.4 L201,783.4 L201.3,783.4 L201.6,783.4 L201.9,783.4 L202.2,783.4 L202.5,783.4 L202.8,783.4 L203.1,783.4 L203.4,783.4 L203.7,783.4 L204,783.4 L204.3,783.4 L204.6,783.4 L204.9,783.4 L205.2,783.4 L205.5,783.4 L205.8,783.4 L206.1,783.4 L206.4,783.4 L206.7,783.4 L207,783.4 L207.3,783.4 L207.6,783.4 L207.9,783.4 L208.2,783.4 L208.5,783.4 L208.8,783.4 L209.1,783.4 L209.4,783.4 L209.7,783.4 L210,783.4 L210.3,783.4 L210.6,783.4 L210.9,783.4 L211.2,783.4 L211.5,783.4 L211.8,783.4 L212.1,783.4 L212.4,783.4 L212.7,783.39 L213,783.38 L213.3,783.36 L213.6,783.32 L213.9,783.26 L214.2,783.14 L214.5,782.93 L214.8,782.61 L215.1,782.09 L215.4,781.33 L215.7,780.22 L216,778.69 L216.3,776.67 L216.6,774.11 L216.9,771.02 L217.2,767.47 L217.5,763.61 L217.8,759.67 L218.1,755.92 L218.4,752.69 L218.7,750.26 L219,748.87 L219.3,748.67 L219.6,749.67 L219.9,751.78 L220.2,754.77 L220.5,758.38 L220.8,762.29 L221.1,766.21 L221.4,769.88 L221.7,773.13 L222,775.87 L222.3,778.07 L222.6,779.76 L222.9,781 L223.2,781.87 L223.5,782.46 L223.8,782.84 L224.1,783.08 L224.4,783.22 L224.7,783.31 L225,783.35 L225.3,783.38 L225.6,783.39 L225.9,783.39 L226.2,783.4 L226.5,783.4 L226.8,783.4 L227.1,783.4 L227.4,783.4 L227.7,783.4 L228,783.4 L228.3,783.4 L228.6,783.4 L228.9,783.4 L229.2,783.4 L229.5,783.4 L229.8,783.4 L230.1,783.4 L230.4,783.4 L230.7,783.4 L231,783.4 L231.3,783.4 L231.6,783.4 L231.9,783.4 L232.2,783.4 L232.5,783.4 L232.8,783.4 L233.1,783.4 L233.4,783.4 L233.7,783.4 L234,783.4 L234.3,783.4 L234.6,783.4 L234.9,783.4 L235.2,783.4 L235.5,783.4 L235.8,783.4 L236.1,783.4 L236.4,783.4 L236.7,783.4 L237,783.4 L237.3,783.4 L237.6,783.39 L237.9,783.39 L238.2,783.37 L238.5,783.35 L238.8,783.32 L239.1,783.28 L239.4,783.21 L239.7,783.11 L240,782.99 L240.3,782.82 L240.6,782.62 L240.9,782.39 L241.2,782.13 L241.5,781.85 L241.8,781.59 L242.1,781.35 L242.4,781.16 L242.7,781.04 L243,781 L243.3,781.04 L243.6,781.16 L243.9,781.35 L244.2,781.59 L244.5,781.85 L244.8,782.13 L245.1,782.39 L245.4,782.62 L245.7,782.82 L246,782.99 L246.3,783.11 L246.6,783.21 L246.9,783.28 L247.2,783.32 L247.5,783.35 L247.8,783.37 L248.1,783.39 L248.4,783.39 L248.7,783.4 L249,783.4 L249.3,783.4 L249.6,783.4 L249.9,783.4 L250.2,783.4 L250.5,783.4 L250.8,783.4 L251.1,783.4 L251.4,783.4 L251.7,783.4 L252,783.4 L252.3,783.4 L252.6,783.4 L252.9,783.4 L253.2,783.4 L253.5,783.4 L253.8,783.4 L254.1,783.4 L254.4,783.4 L254.7,783.4 L255,783.39 L255.3,783.39 L255.6,783.38 L255.9,783.35 L256.2,783.31 L256.5,783.23 L256.8,783.09 L257.1,782.86 L257.4,782.49 L257.7,781.92 L258,781.08 L258.3,779.89 L258.6,778.26 L258.9,776.13 L259.2,773.49 L259.5,770.34 L259.8,766.8 L260.1,763.02 L260.4,759.25 L260.7,755.76 L261,752.87 L261.3,750.83 L261.6,749.87 L261.9,750.06 L262.2,751.4 L262.5,753.75 L262.8,756.87 L263.1,760.49 L263.4,764.29 L263.7,768.02 L264,771.44 L264.3,774.43 L264.6,776.9 L264.9,778.85 L265.2,780.33 L265.5,781.4 L265.8,782.14 L266.1,782.63 L266.4,782.95 L266.7,783.15 L267,783.26 L267.3,783.33 L267.6,783.36 L267.9,783.38 L268.2,783.39 L268.5,783.4 L268.8,783.4 L269.1,783.4 L269.4,783.4 L269.7,783.4 L270,783.4 L270.3,783.4 L270.6,783.4 L270.9,783.4 L271.2,783.4 L271.5,783.4 L271.8,783.4 L272.1,783.4 L272.4,783.4 L272.7,783.4 L273,783.4 L273.3,783.4 L273.6,783.4 L273.9,783.4 L274.2,783.4 L274.5,783.4 L274.8,783.4 L275.1,783.4 L275.4,783.39 L275.7,783.39 L276,783.38 L276.3,783.37 L276.6,783.35 L276.9,783.31 L277.2,783.26 L277.5,783.18 L277.8,783.08 L278.1,782.94 L278.4,782.76 L278.7,782.55 L279,782.3 L279.3,782.04 L279.6,781.76 L279.9,781.51 L280.2,781.28 L280.5,781.11 L280.8,781.02 L281.1,781 L281.4,781.07 L281.7,781.22 L282,781.43 L282.3,781.67 L282.6,781.94 L282.9,782.21 L283.2,782.47 L283.5,782.69 L283.8,782.88 L284.1,783.03 L284.4,783.15 L284.7,783.23 L285,783.29 L285.3,783.34 L285.6,783.36 L285.9,783.38 L286.2,783.39 L286.5,783.39 L286.8,783.4 L287.1,783.4 L287.4,783.4 L287.7,783.4 L288,783.4 L288.3,783.4 L288.6,783.4 L288.9,783.4 L289.2,783.4 L289.5,783.4 L289.8,783.4 L290.1,783.4 L290.4,783.39 L290.7,783.39 L291,783.38 L291.3,783.37 L291.6,783.35 L291.9,783.31 L292.2,783.26 L292.5,783.18 L292.8,783.08 L293.1,782.94 L293.4,782.76 L293.7,782.55 L294,782.3 L294.3,782.04 L294.6,781.76 L294.9,781.51 L295.2,781.28 L295.5,781.11 L295.8,781.02 L296.1,781 L296.4,781.07 L296.7,781.22 L297,781.43 L297.3,781.67 L297.6,781.94 L297.9,782.21 L298.2,782.47 L298.5,782.69 L298.8,782.88 L299.1,783.03 L299.4,783.15 L299.7,783.23 L300,783.29 L300.3,783.34 L300.6,783.36 L300.9,783.38 L301.2,783.39 L301.5,783.39 L301.8,783.4 L302.1,783.4 L302.4,783.4 L302.7,783.4 L303,783.4 L303.3,783.4" stroke="#d7897a" stroke-width="1.1" fill="none" stroke-linejoin="round"/>
<path d="M19.8,783.4 L20.1,783.4 L20.4,783.4 L20.7,783.4 L21,783.4 L21.3,783.4 L21.6,783.4 L21.9,783.4 L22.2,783.4 L22.5,783.4 L22.8,783.4 L23.1,783.4 L23.4,783.4 L23.7,783.4 L24,783.4 L24.3,783.4 L24.6,783.4 L24.9,783.4 L25.2,783.4 L25.5,783.4 L25.8,783.4 L26.1,783.4 L26.4,783.4 L26.7,783.4 L27,783.4 L27.3,783.4 L27.6,783.4 L27.9,783.4 L28.2,783.4 L28.5,783.4 L28.8,783.4 L29.1,783.4 L29.4,783.4 L29.7,783.4 L30,783.4 L30.3,783.4 L30.6,783.4 L30.9,783.4 L31.2,783.4 L31.5,783.4 L31.8,783.4 L32.1,783.4 L32.4,783.4 L32.7,783.4 L33,783.4 L33.3,783.4 L33.6,783.4 L33.9,783.4 L34.2,783.4 L34.5,783.4 L34.8,783.4 L35.1,783.4 L35.4,783.4 L35.7,783.4 L36,783.4 L36.3,783.4 L36.6,783.4 L36.9,783.4 L37.2,783.4 L37.5,783.4 L37.8,783.4 L38.1,783.4 L38.4,783.4 L38.7,783.4 L39,783.4 L39.3,783.4 L39.6,783.4 L39.9,783.4 L40.2,783.4 L40.5,783.4 L40.8,783.4 L41.1,783.4 L41.4,783.4 L41.7,783.4 L42,783.4 L42.3,783.4 L42.6,783.4 L42.9,783.4 L43.2,783.4 L43.5,783.4 L43.8,783.4 L44.1,783.4 L44.4,783.4 L44.7,783.4 L45,783.4 L45.3,783.4 L45.6,783.4 L45.9,783.4 L46.2,783.4 L46.5,783.4 L46.8,783.4 L47.1,783.4 L47.4,783.4 L47.7,783.4 L48,783.4 L48.3,783.4 L48.6,783.4 L48.9,783.4 L49.2,783.4 L49.5,783.39 L49.8,783.38 L50.1,783.36 L50.4,783.33 L50.7,783.26 L51,783.15 L51.3,782.96 L51.6,782.66 L51.9,782.18 L52.2,781.46 L52.5,780.42 L52.8,778.99 L53.1,777.09 L53.4,774.69 L53.7,771.8 L54,768.47 L54.3,764.86 L54.6,761.17 L54.9,757.66 L55.2,754.63 L55.5,752.35 L55.8,751.05 L56.1,750.86 L56.4,751.8 L56.7,753.78 L57,756.58 L57.3,759.96 L57.6,763.63 L57.9,767.29 L58.2,770.73 L58.5,773.78 L58.8,776.35 L59.1,778.41 L59.4,779.99 L59.7,781.15 L60,781.97 L60.3,782.52 L60.6,782.88 L60.9,783.1 L61.2,783.23 L61.5,783.31 L61.8,783.35 L62.1,783.38 L62.4,783.39 L62.7,783.39 L63,783.4 L63.3,783.4 L63.6,783.4 L63.9,783.4 L64.2,783.4 L64.5,783.39 L64.8,783.39 L65.1,783.37 L65.4,783.34 L65.7,783.29 L66,783.19 L66.3,783.01 L66.6,782.71 L66.9,782.22 L67.2,781.46 L67.5,780.32 L67.8,778.67 L68.1,776.4 L68.4,773.4 L68.7,769.59 L69,765 L69.3,759.73 L69.6,754 L69.9,748.14 L70.2,742.58 L70.5,737.77 L70.8,734.16 L71.1,732.1 L71.4,731.8 L71.7,733.29 L72,736.42 L72.3,740.87 L72.6,746.23 L72.9,752.04 L73.2,757.86 L73.5,763.31 L73.8,768.15 L74.1,772.22 L74.4,775.49 L74.7,777.99 L75,779.83 L75.3,781.13 L75.6,782 L75.9,782.57 L76.2,782.92 L76.5,783.14 L76.8,783.26 L77.1,783.33 L77.4,783.36 L77.7,783.38 L78,783.39 L78.3,783.4 L78.6,783.4 L78.9,783.4 L79.2,783.4 L79.5,783.4 L79.8,783.4 L80.1,783.4 L80.4,783.4 L80.7,783.4 L81,783.4 L81.3,783.4 L81.6,783.4 L81.9,783.4 L82.2,783.4 L82.5,783.4 L82.8,783.4 L83.1,783.4 L83.4,783.4 L83.7,783.4 L84,783.4 L84.3,783.4 L84.6,783.4 L84.9,783.4 L85.2,783.4 L85.5,783.4 L85.8,783.4 L86.1,783.4 L86.4,783.4 L86.7,783.4 L87,783.4 L87.3,783.4 L87.6,783.4 L87.9,783.4 L88.2,783.4 L88.5,783.4 L88.8,783.4 L89.1,783.4 L89.4,783.4 L89.7,783.4 L90,783.4 L90.3,783.4 L90.6,783.4 L90.9,783.4 L91.2,783.4 L91.5,783.4 L91.8,783.4 L92.1,783.4 L92.4,783.4 L92.7,783.4 L93,783.4 L93.3,783.4 L93.6,783.4 L93.9,783.4 L94.2,783.4 L94.5,783.4 L94.8,783.4 L95.1,783.4 L95.4,783.4 L95.7,783.4 L96,783.4 L96.3,783.4 L96.6,783.4 L96.9,783.4 L97.2,783.4 L97.5,783.4 L97.8,783.4 L98.1,783.4 L98.4,783.4 L98.7,783.4 L99,783.4 L99.3,783.4 L99.6,783.4 L99.9,783.4 L100.2,783.4 L100.5,783.4 L100.8,783.4 L101.1,783.4 L101.4,783.4 L101.7,783.4 L102,783.4 L102.3,783.4 L102.6,783.4 L102.9,783.4 L103.2,783.4 L103.5,783.4 L103.8,783.4 L104.1,783.4 L104.4,783.4 L104.7,783.4 L105,783.4 L105.3,783.4 L105.6,783.4 L105.9,783.4 L106.2,783.4 L106.5,783.4 L106.8,783.4 L107.1,783.4 L107.4,783.4 L107.7,783.4 L108,783.4 L108.3,783.4 L108.6,783.4 L108.9,783.4 L109.2,783.4 L109.5,783.4 L109.8,783.4 L110.1,783.4 L110.4,783.4 L110.7,783.4 L111,783.4 L111.3,783.4 L111.6,783.4 L111.9,783.4 L112.2,783.4 L112.5,783.4 L112.8,783.4 L113.1,783.4 L113.4,783.4 L113.7,783.4 L114,783.4 L114.3,783.4 L114.6,783.4 L114.9,783.4 L115.2,783.4 L115.5,783.39 L115.8,783.38 L116.1,783.36 L116.4,783.31 L116.7,783.23 L117,783.08 L117.3,782.82 L117.6,782.37 L117.9,781.65 L118.2,780.52 L118.5,778.82 L118.8,776.37 L119.1,772.99 L119.4,768.52 L119.7,762.86 L120,756.03 L120.3,748.19 L120.6,739.67 L120.9,730.96 L121.2,722.69 L121.5,715.54 L121.8,710.16 L122.1,707.1 L122.4,706.65 L122.7,708.87 L123,713.52 L123.3,720.14 L123.6,728.12 L123.9,736.75 L124.2,745.39 L124.5,753.49 L124.8,760.66 L125.1,766.67 L125.4,771.44 L125.7,775.02 L126,777.51 L126.3,779.03 L126.6,779.71 L126.9,779.64 L127.2,778.87 L127.5,777.41 L127.8,775.28 L128.1,772.49 L128.4,769.13 L128.7,765.29 L129,761.19 L129.3,757.08 L129.6,753.29 L129.9,750.14 L130.2,747.93 L130.5,746.87 L130.8,747.08 L131.1,748.54 L131.4,751.1 L131.7,754.5 L132,758.44 L132.3,762.59 L132.6,766.64 L132.9,770.38 L133.2,773.63 L133.5,776.32 L133.8,778.45 L134.1,780.05 L134.4,781.22 L134.7,782.03 L135,782.57 L135.3,782.91 L135.6,783.12 L135.9,783.25 L136.2,783.32 L136.5,783.36 L136.8,783.38 L137.1,783.39 L137.4,783.4 L137.7,783.4 L138,783.4 L138.3,783.4 L138.6,783.4 L138.9,783.4 L139.2,783.4 L139.5,783.4 L139.8,783.4 L140.1,783.4 L140.4,783.4 L140.7,783.4 L141,783.4 L141.3,783.4 L141.6,783.4 L141.9,783.4 L142.2,783.4 L142.5,783.4 L142.8,783.4 L143.1,783.4 L143.4,783.4 L143.7,783.4 L144,783.4 L144.3,783.4 L144.6,783.4 L144.9,783.4 L145.2,783.4 L145.5,783.4 L145.8,783.4 L146.1,783.4 L146.4,783.4 L146.7,783.4 L147,783.4 L147.3,783.4 L147.6,783.4 L147.9,783.4 L148.2,783.4 L148.5,783.4 L148.8,783.4 L149.1,783.4 L149.4,783.4 L149.7,783.4 L150,783.4 L150.3,783.4 L150.6,783.4 L150.9,783.4 L151.2,783.4 L151.5,783.4 L151.8,783.4 L152.1,783.4 L152.4,783.4 L152.7,783.4 L153,783.4 L153.3,783.4 L153.6,783.4 L153.9,783.39 L154.2,783.38 L154.5,783.36 L154.8,783.33 L155.1,783.27 L155.4,783.17 L155.7,783.01 L156,782.75 L156.3,782.36 L156.6,781.78 L156.9,780.98 L157.2,779.9 L157.5,778.51 L157.8,776.81 L158.1,774.82 L158.4,772.62 L158.7,770.32 L159,768.08 L159.3,766.07 L159.6,764.48 L159.9,763.45 L160.2,763.1 L160.5,763.45 L160.8,764.48 L161.1,766.07 L161.4,768.08 L161.7,770.32 L162,772.62 L162.3,774.82 L162.6,776.81 L162.9,778.51 L163.2,779.9 L163.5,780.98 L163.8,781.78 L164.1,782.36 L164.4,782.75 L164.7,783.01 L165,783.17 L165.3,783.27 L165.6,783.33 L165.9,783.36 L166.2,783.38 L166.5,783.39 L166.8,783.4 L167.1,783.4 L167.4,783.4 L167.7,783.4 L168,783.4 L168.3,783.4 L168.6,783.4 L168.9,783.4 L169.2,783.4 L169.5,783.4 L169.8,783.4 L170.1,783.4 L170.4,783.4 L170.7,783.4 L171,783.4 L171.3,783.4 L171.6,783.4 L171.9,783.4 L172.2,783.4 L172.5,783.4 L172.8,783.4 L173.1,783.4 L173.4,783.4 L173.7,783.4 L174,783.4 L174.3,783.4 L174.6,783.4 L174.9,783.4 L175.2,783.4 L175.5,783.4 L175.8,783.4 L176.1,783.4 L176.4,783.4 L176.7,783.4 L177,783.4 L177.3,783.4 L177.6,783.4 L177.9,783.4 L178.2,783.4 L178.5,783.4 L178.8,783.4 L179.1,783.4 L179.4,783.4 L179.7,783.4 L180,783.4 L180.3,783.4 L180.6,783.39 L180.9,783.39 L181.2,783.37 L181.5,783.35 L181.8,783.32 L182.1,783.28 L182.4,783.21 L182.7,783.11 L183,782.99 L183.3,782.82 L183.6,782.62 L183.9,782.39 L184.2,782.13 L184.5,781.85 L184.8,781.59 L185.1,781.35 L185.4,781.16 L185.7,781.04 L186,781 L186.3,781.04 L186.6,781.16 L186.9,781.35 L187.2,781.59 L187.5,781.85 L187.8,782.13 L188.1,782.39 L188.4,782.62 L188.7,782.82 L189,782.99 L189.3,783.11 L189.6,783.21 L189.9,783.28 L190.2,783.32 L190.5,783.35 L190.8,783.37 L191.1,783.39 L191.4,783.39 L191.7,783.4 L192,783.4 L192.3,783.4 L192.6,783.4 L192.9,783.4 L193.2,783.4 L193.5,783.4 L193.8,783.4 L194.1,783.4 L194.4,783.4 L194.7,783.4 L195,783.4 L195.3,783.4 L195.6,783.4 L195.9,783.4 L196.2,783.4 L196.5,783.4 L196.8,783.4 L197.1,783.4 L197.4,783.4 L197.7,783.4 L198,783.4 L198.3,783.4 L198.6,783.4 L198.9,783.4 L199.2,783.4 L199.5,783.4 L199.8,783.4 L200.1,783.4 L200.4,783.4 L200.7,783.4 L201,783.4 L201.3,783.4 L201.6,783.4 L201.9,783.4 L202.2,783.4 L202.5,783.4 L202.8,783.4 L203.1,783.4 L203.4,783.4 L203.7,783.4 L204,783.4 L204.3,783.4 L204.6,783.4 L204.9,783.4 L205.2,783.4 L205.5,783.4 L205.8,783.4 L206.1,783.4 L206.4,783.4 L206.7,783.4 L207,783.4 L207.3,783.4 L207.6,783.4 L207.9,783.4 L208.2,783.4 L208.5,783.4 L208.8,783.4 L209.1,783.4 L209.4,783.4 L209.7,783.4 L210,783.4 L210.3,783.4 L210.6,783.4 L210.9,783.4 L211.2,783.4 L211.5,783.4 L211.8,783.4 L212.1,783.4 L212.4,783.4 L212.7,783.4 L213,783.4 L213.3,783.4 L213.6,783.4 L213.9,783.4 L214.2,783.4 L214.5,783.4 L214.8,783.4 L215.1,783.4 L215.4,783.4 L215.7,783.4 L216,783.4 L216.3,783.4 L216.6,783.4 L216.9,783.4 L217.2,783.4 L217.5,783.4 L217.8,783.4 L218.1,783.4 L218.4,783.4 L218.7,783.4 L219,783.4 L219.3,783.4 L219.6,783.4 L219.9,783.4 L220.2,783.4 L220.5,783.4 L220.8,783.4 L221.1,783.4 L221.4,783.4 L221.7,783.4 L222,783.4 L222.3,783.4 L222.6,783.4 L222.9,783.4 L223.2,783.4 L223.5,783.4 L223.8,783.4 L224.1,783.4 L224.4,783.4 L224.7,783.4 L225,783.4 L225.3,783.4 L225.6,783.4 L225.9,783.4 L226.2,783.4 L226.5,783.4 L226.8,783.4 L227.1,783.4 L227.4,783.4 L227.7,783.4 L228,783.4 L228.3,783.4 L228.6,783.4 L228.9,783.4 L229.2,783.4 L229.5,783.4 L229.8,783.4 L230.1,783.4 L230.4,783.4 L230.7,783.4 L231,783.4 L231.3,783.4 L231.6,783.4 L231.9,783.4 L232.2,783.4 L232.5,783.4 L232.8,783.4 L233.1,783.4 L233.4,783.4 L233.7,783.4 L234,783.4 L234.3,783.4 L234.6,783.4 L234.9,783.4 L235.2,783.4 L235.5,783.4 L235.8,783.4 L236.1,783.4 L236.4,783.4 L236.7,783.4 L237,783.4 L237.3,783.4 L237.6,783.4 L237.9,783.4 L238.2,783.4 L238.5,783.4 L238.8,783.4 L239.1,783.4 L239.4,783.4 L239.7,783.4 L240,783.4 L240.3,783.4 L240.6,783.4 L240.9,783.4 L241.2,783.4 L241.5,783.4 L241.8,783.4 L242.1,783.4 L242.4,783.4 L242.7,783.4 L243,783.4 L243.3,783.4 L243.6,783.4 L243.9,783.4 L244.2,783.4 L244.5,783.4 L244.8,783.4 L245.1,783.4 L245.4,783.4 L245.7,783.4 L246,783.4 L246.3,783.4 L246.6,783.4 L246.9,783.4 L247.2,783.4 L247.5,783.39 L247.8,783.39 L248.1,783.37 L248.4,783.35 L248.7,783.3 L249,783.22 L249.3,783.09 L249.6,782.87 L249.9,782.52 L250.2,782.01 L250.5,781.26 L250.8,780.23 L251.1,778.87 L251.4,777.15 L251.7,775.07 L252,772.69 L252.3,770.09 L252.6,767.44 L252.9,764.93 L253.2,762.75 L253.5,761.12 L253.8,760.18 L254.1,760.05 L254.4,760.72 L254.7,762.14 L255,764.15 L255.3,766.58 L255.6,769.21 L255.9,771.84 L256.2,774.31 L256.5,776.5 L256.8,778.34 L257.1,779.82 L257.4,780.95 L257.7,781.79 L258,782.37 L258.3,782.77 L258.6,783.02 L258.9,783.18 L259.2,783.28 L259.5,783.34 L259.8,783.37 L260.1,783.38 L260.4,783.39 L260.7,783.4 L261,783.4 L261.3,783.4 L261.6,783.4 L261.9,783.4 L262.2,783.4 L262.5,783.4 L262.8,783.39 L263.1,783.38 L263.4,783.35 L263.7,783.31 L264,783.23 L264.3,783.08 L264.6,782.82 L264.9,782.4 L265.2,781.74 L265.5,780.73 L265.8,779.26 L266.1,777.2 L266.4,774.43 L266.7,770.88 L267,766.52 L267.3,761.42 L267.6,755.78 L267.9,749.89 L268.2,744.15 L268.5,739.01 L268.8,734.93 L269.1,732.31 L269.4,731.4 L269.7,732.31 L270,734.93 L270.3,739.01 L270.6,744.14 L270.9,749.88 L271.2,755.76 L271.5,761.37 L271.8,766.42 L272.1,770.69 L272.4,774.11 L272.7,776.65 L273,778.35 L273.3,779.29 L273.6,779.52 L273.9,779.12 L274.2,778.12 L274.5,776.59 L274.8,774.58 L275.1,772.18 L275.4,769.54 L275.7,766.81 L276,764.2 L276.3,761.95 L276.6,760.26 L276.9,759.29 L277.2,759.15 L277.5,759.85 L277.8,761.32 L278.1,763.41 L278.4,765.93 L278.7,768.66 L279,771.39 L279.3,773.96 L279.6,776.23 L279.9,778.14 L280.2,779.68 L280.5,780.86 L280.8,781.72 L281.1,782.33 L281.4,782.74 L281.7,783.01 L282,783.18 L282.3,783.28 L282.6,783.33 L282.9,783.37 L283.2,783.38 L283.5,783.39 L283.8,783.4 L284.1,783.4 L284.4,783.4 L284.7,783.4 L285,783.4 L285.3,783.4 L285.6,783.4 L285.9,783.4 L286.2,783.4 L286.5,783.4 L286.8,783.4 L287.1,783.4 L287.4,783.4 L287.7,783.4 L288,783.4 L288.3,783.4 L288.6,783.4 L288.9,783.4 L289.2,783.4 L289.5,783.4 L289.8,783.4 L290.1,783.4 L290.4,783.4 L290.7,783.4 L291,783.4 L291.3,783.4 L291.6,783.4 L291.9,783.4 L292.2,783.4 L292.5,783.4 L292.8,783.4 L293.1,783.4 L293.4,783.39 L293.7,783.39 L294,783.37 L294.3,783.34 L294.6,783.3 L294.9,783.21 L295.2,783.07 L295.5,782.85 L295.8,782.5 L296.1,781.99 L296.4,781.27 L296.7,780.28 L297,778.99 L297.3,777.38 L297.6,775.47 L297.9,773.32 L298.2,771.03 L298.5,768.74 L298.8,766.62 L299.1,764.86 L299.4,763.63 L299.7,763.04 L300,763.16 L300.3,763.97 L300.6,765.4 L300.9,767.29 L301.2,769.49 L301.5,771.8 L301.8,774.06 L302.1,776.14 L302.4,777.95 L302.7,779.45 L303,780.64 L303.3,781.54" stroke="#474747" stroke-width="1.1" fill="none" stroke-linejoin="round"/>
<line x1="163.4" y1="652" x2="163.4" y2="733.5" stroke="#2b4c86" stroke-width="1.2" />
<path d="M163.4,739.6 L159.6,730.6 L163.4,733.2 L167.2,730.6 Z" fill="#2b4c86"/>
<rect x="372.3" y="636.9" width="26" height="148" fill="#f1f1f1" stroke="none" stroke-width="1" />
<rect x="405.2" y="637.1" width="38.6" height="148" fill="#e7e7e7" stroke="none" stroke-width="1" />
<defs><filter id="lb" x="-50%" y="-20%" width="200%" height="140%"><feGaussianBlur stdDeviation="0.7"/></filter><filter id="halo" x="-100%" y="-20%" width="300%" height="140%"><feGaussianBlur stdDeviation="2.6"/></filter><filter id="bl" x="-20%" y="-100%" width="140%" height="300%"><feGaussianBlur stdDeviation="0.6"/></filter><filter id="bl2" x="-20%" y="-100%" width="140%" height="300%"><feGaussianBlur stdDeviation="0.9"/></filter></defs>
<rect x="380.5" y="642" width="7.5" height="140" fill="#bdbdbd" filter="url(#halo)"/>
<g filter="url(#lb)" fill="#0a0a0a">
<rect x="382.7" y="651" width="3.1" height="12" />
<rect x="381.9" y="663" width="4.6" height="50" />
<path d="M384.2,643.2 Q388.26,644.45 389.4,648.9 Q388.26,653.35 384.2,654.6 Q380.14,653.35 379,648.9 Q380.14,644.45 384.2,643.2 Z"/>
<path d="M384.2,661 Q387.71,661.79 388.7,664.6 Q387.71,667.41 384.2,668.2 Q380.69,667.41 379.7,664.6 Q380.69,661.79 384.2,661 Z"/>
<path d="M384.2,666.3 Q388.02,667.09 389.1,669.9 Q388.02,672.71 384.2,673.5 Q380.38,672.71 379.3,669.9 Q380.38,667.09 384.2,666.3 Z"/>
<path d="M384.2,673.2 Q388.26,674.19 389.4,677.7 Q388.26,681.21 384.2,682.2 Q380.14,681.21 379,677.7 Q380.14,674.19 384.2,673.2 Z"/>
<path d="M384.2,681.4 Q387.4,682.15 388.3,684.8 Q387.4,687.45 384.2,688.2 Q381,687.45 380.1,684.8 Q381,682.15 384.2,681.4 Z"/>
<path d="M384.1,688.1 Q388.39,689.2 389.6,693.1 Q388.39,697 384.1,698.1 Q379.81,697 378.6,693.1 Q379.81,689.2 384.1,688.1 Z"/>
<path d="M384,698 Q388.91,699.21 390.3,703.5 Q388.91,707.79 384,709 Q379.09,707.79 377.7,703.5 Q379.09,699.21 384,698 Z"/>
<path d="M383.9,712.6 Q389.36,714.18 390.9,719.8 Q389.36,725.42 383.9,727 Q378.44,725.42 376.9,719.8 Q378.44,714.18 383.9,712.6 Z"/>
<ellipse cx="384.2" cy="743.5" rx="6.8" ry="5.7"/>
<ellipse cx="383.7" cy="772.6" rx="8.1" ry="8.5"/>
</g>
<rect x="407.5" y="639" width="15" height="90" fill="#d6d6d6" opacity="0.45"/>
<rect x="425.2" y="639" width="16" height="90" fill="#d6d6d6" opacity="0.45"/>
<ellipse cx="416.0" cy="644.9" rx="6.6" ry="1.5" fill="#555" opacity="0.55" filter="url(#bl2)"/>
<ellipse cx="433.2" cy="644.9" rx="7.0" ry="1.5" fill="#555" opacity="0.5" filter="url(#bl2)"/>
<ellipse cx="416.0" cy="668" rx="6.6" ry="1.5" fill="#555" opacity="0.6" filter="url(#bl2)"/>
<ellipse cx="433.2" cy="668" rx="7.0" ry="1.5" fill="#555" opacity="0.35" filter="url(#bl2)"/>
<ellipse cx="416.0" cy="695" rx="6.6" ry="1.5" fill="#555" opacity="0.1" filter="url(#bl2)"/>
<ellipse cx="433.2" cy="695" rx="7.0" ry="1.5" fill="#555" opacity="0.08" filter="url(#bl2)"/>
<ellipse cx="416.0" cy="712.6" rx="6.6" ry="1.5" fill="#555" opacity="0.45" filter="url(#bl2)"/>
<ellipse cx="433.2" cy="712.6" rx="7.0" ry="1.5" fill="#555" opacity="0.45" filter="url(#bl2)"/>
<rect x="408.6" y="682.9" width="13.0" height="3.5" rx="1.6" fill="#050505" filter="url(#bl)"/>
<rect x="407.3" y="719.1" width="14.5" height="5.3" rx="2.4" fill="#050505" filter="url(#bl)"/>
<rect x="425.5" y="719.1" width="14.8" height="5.4" rx="2.4" fill="#050505" filter="url(#bl)"/>
<text x="367.9" y="677.8" font-size="7.4" text-anchor="end" fill="#231f20" font-weight="normal" font-style="normal" textLength="23.1" lengthAdjust="spacingAndGlyphs" >80 kDa</text>
<text x="367.9" y="694.6" font-size="7.4" text-anchor="end" fill="#231f20" font-weight="normal" font-style="normal" textLength="23.1" lengthAdjust="spacingAndGlyphs" >60 kDa</text>
<text x="367.9" y="722.8" font-size="7.4" text-anchor="end" fill="#231f20" font-weight="normal" font-style="normal" textLength="23.1" lengthAdjust="spacingAndGlyphs" >40 kDa</text>
<text x="367.9" y="747" font-size="7.4" text-anchor="end" fill="#231f20" font-weight="normal" font-style="normal" textLength="23.1" lengthAdjust="spacingAndGlyphs" >30 kDa</text>
<text x="367.9" y="774.4" font-size="7.4" text-anchor="end" fill="#231f20" font-weight="normal" font-style="normal" textLength="23.1" lengthAdjust="spacingAndGlyphs" >20 kDa</text>
<text x="448.1" y="687.8" font-size="7.8" text-anchor="start" fill="#231f20" font-weight="normal" font-style="normal" textLength="24.6" lengthAdjust="spacingAndGlyphs" >&lt;CDGI</text>
<text x="448.1" y="725" font-size="7.8" text-anchor="start" fill="#231f20" font-weight="normal" font-style="normal" textLength="32.3" lengthAdjust="spacingAndGlyphs" >&lt;GAPDH</text>
<text x="405.2" y="796.6" font-size="7.4" text-anchor="start" fill="#231f20" font-weight="normal" font-style="normal" textLength="37.2" lengthAdjust="spacingAndGlyphs" >Ctrl. Pat01*</text>
<rect x="372.3" y="636.9" width="26" height="148" fill="none" stroke="#111" stroke-width="1.4" />
<rect x="405.2" y="637.1" width="38.6" height="148" fill="none" stroke="#111" stroke-width="1.4" /></svg>
</body></html>
